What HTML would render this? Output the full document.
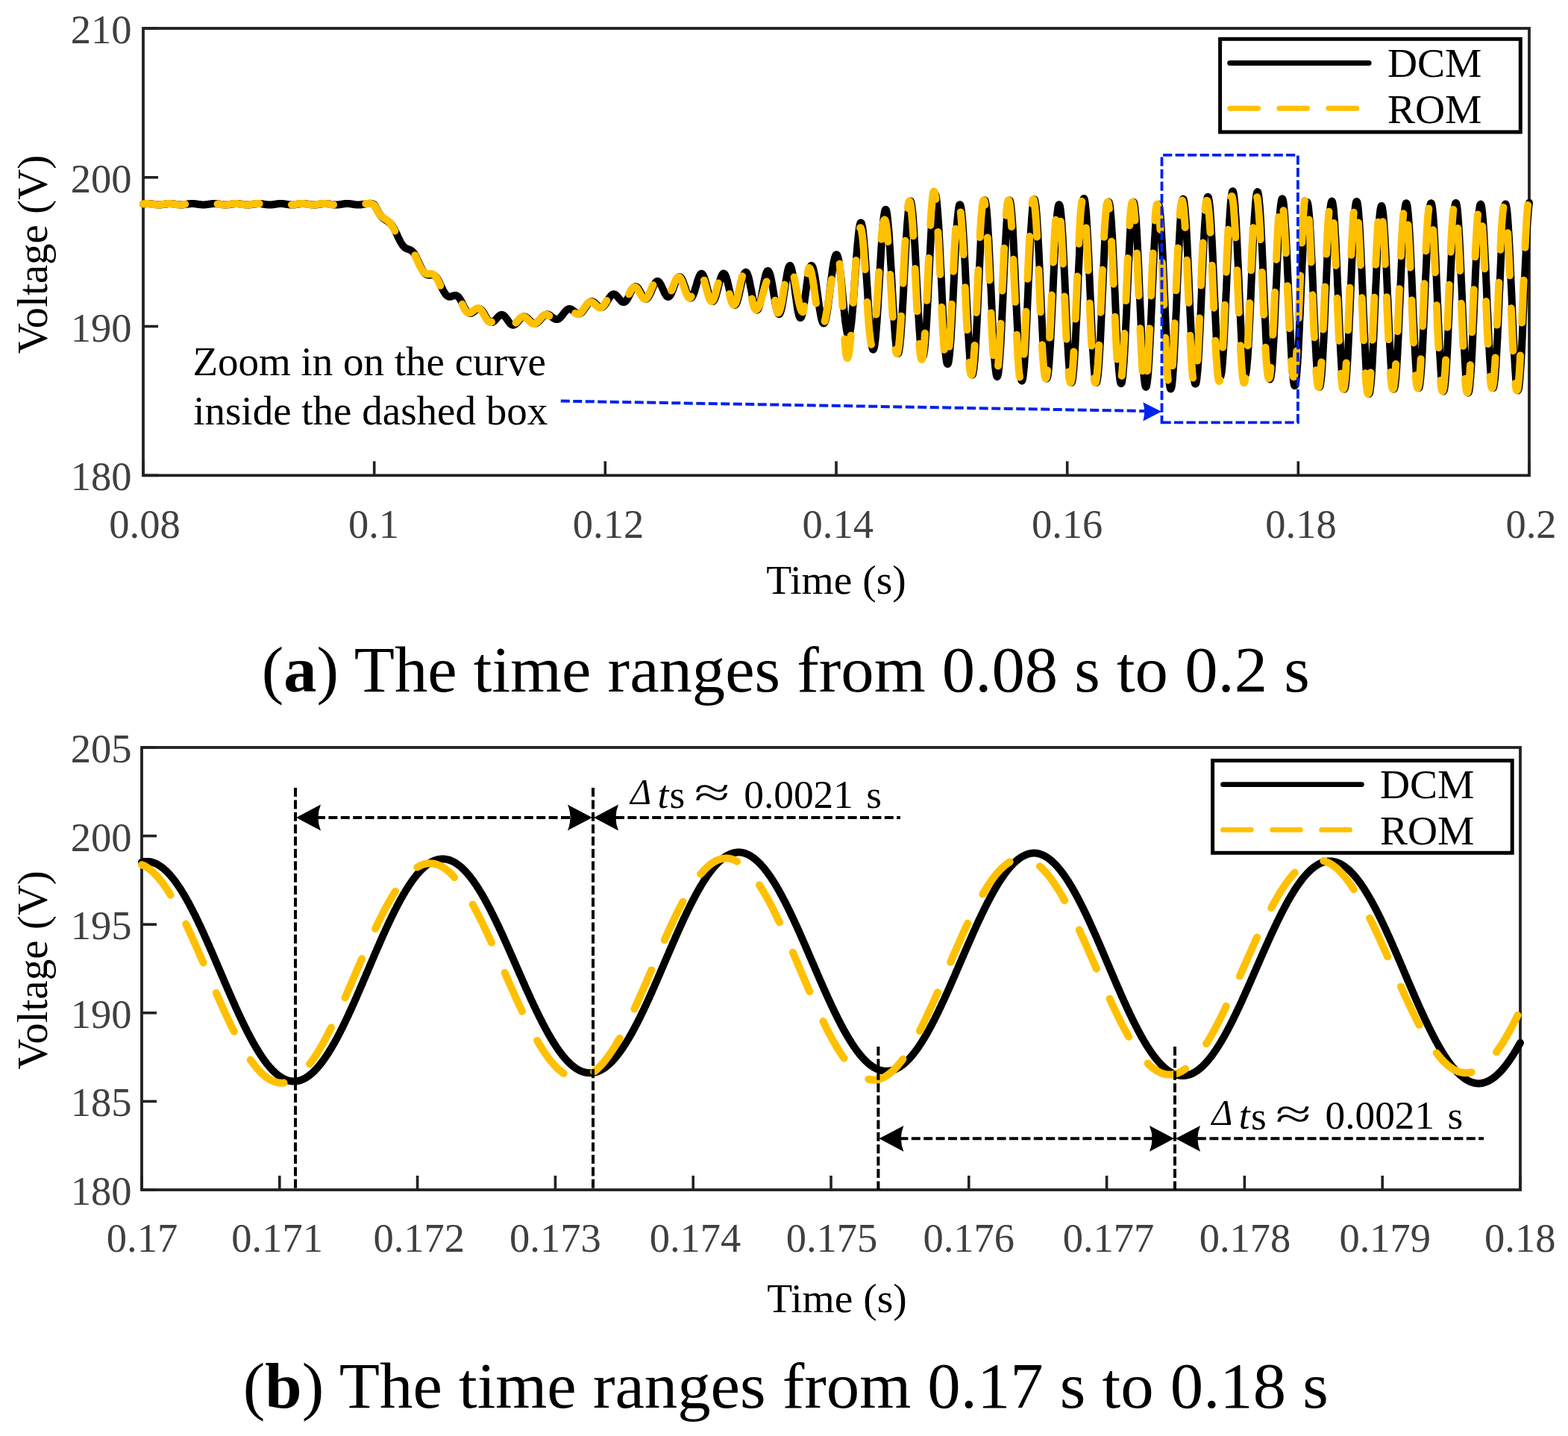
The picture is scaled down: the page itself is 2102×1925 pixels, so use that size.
<!DOCTYPE html>
<html><head><meta charset="utf-8"><title>Figure</title>
<style>html,body{margin:0;padding:0;background:#fff;}svg{display:block;}</style>
</head><body>
<svg width="2102" height="1925" viewBox="0 0 2102 1925">
<rect width="2102" height="1925" fill="#fff"/>
<style>
text{font-family:"Liberation Serif","Times New Roman",serif;}
.tk{font-size:54.5px;fill:#404040;}

.lb{font-size:55.5px;fill:#000;}
.an{font-size:55px;fill:#000;}
.cap{font-size:86.5px;fill:#000;}
</style>
<line x1="192" y1="637.3" x2="212" y2="637.3" stroke="#222222" stroke-width="3.6"/>
<line x1="192" y1="437.5" x2="212" y2="437.5" stroke="#222222" stroke-width="3.6"/>
<line x1="192" y1="237.8" x2="212" y2="237.8" stroke="#222222" stroke-width="3.6"/>
<line x1="192" y1="38.0" x2="212" y2="38.0" stroke="#222222" stroke-width="3.6"/>
<line x1="192.0" y1="637.3" x2="192.0" y2="618.3" stroke="#222222" stroke-width="3.6"/>
<line x1="501.7" y1="637.3" x2="501.7" y2="618.3" stroke="#222222" stroke-width="3.6"/>
<line x1="811.3" y1="637.3" x2="811.3" y2="618.3" stroke="#222222" stroke-width="3.6"/>
<line x1="1121.0" y1="637.3" x2="1121.0" y2="618.3" stroke="#222222" stroke-width="3.6"/>
<line x1="1430.7" y1="637.3" x2="1430.7" y2="618.3" stroke="#222222" stroke-width="3.6"/>
<line x1="1740.3" y1="637.3" x2="1740.3" y2="618.3" stroke="#222222" stroke-width="3.6"/>
<line x1="2050.0" y1="637.3" x2="2050.0" y2="618.3" stroke="#222222" stroke-width="3.6"/>
<rect x="192" y="38" width="1858" height="599.3" fill="none" stroke="#222222" stroke-width="3.8"/>
<text x="176.5" y="657.3" text-anchor="end" class="tk">180</text>
<text x="176.5" y="457.5" text-anchor="end" class="tk">190</text>
<text x="176.5" y="257.8" text-anchor="end" class="tk">200</text>
<text x="176.5" y="58.0" text-anchor="end" class="tk">210</text>
<text x="194.0" y="721.3" text-anchor="middle" class="tk">0.08</text>
<text x="501.0" y="721.3" text-anchor="middle" class="tk">0.1</text>
<text x="815.5" y="721.3" text-anchor="middle" class="tk">0.12</text>
<text x="1123.2" y="721.3" text-anchor="middle" class="tk">0.14</text>
<text x="1430.6" y="721.3" text-anchor="middle" class="tk">0.16</text>
<text x="1744.0" y="721.3" text-anchor="middle" class="tk">0.18</text>
<text x="2052.5" y="721.3" text-anchor="middle" class="tk">0.2</text>
<path d="M192.0,273.6 192.3,273.5 192.6,273.5 192.9,273.4 193.2,273.4 193.5,273.4 193.9,273.3 194.2,273.3 194.5,273.3 194.8,273.2 195.1,273.2 195.4,273.2 195.7,273.2 196.0,273.1 196.3,273.1 196.6,273.1 197.0,273.1 197.3,273.1 197.6,273.1 197.9,273.1 198.2,273.1 198.5,273.1 198.8,273.1 199.1,273.1 199.4,273.1 199.7,273.1 200.1,273.1 200.4,273.1 200.7,273.1 201.0,273.2 201.3,273.2 201.6,273.2 201.9,273.2 202.2,273.3 202.5,273.3 202.8,273.3 203.1,273.4 203.5,273.4 203.8,273.5 204.1,273.5 204.4,273.5 204.7,273.6 205.0,273.6 205.3,273.7 205.6,273.7 205.9,273.8 206.2,273.8 206.6,273.8 206.9,273.9 207.2,273.9 207.5,274.0 207.8,274.0 208.1,274.1 208.4,274.1 208.7,274.1 209.0,274.2 209.3,274.2 209.7,274.2 210.0,274.3 210.3,274.3 210.6,274.3 210.9,274.3 211.2,274.3 211.5,274.4 211.8,274.4 212.1,274.4 212.4,274.4 212.8,274.4 213.1,274.4 213.4,274.4 213.7,274.4 214.0,274.4 214.3,274.4 214.6,274.4 214.9,274.4 215.2,274.3 215.5,274.3 215.8,274.3 216.2,274.3 216.5,274.2 216.8,274.2 217.1,274.2 217.4,274.1 217.7,274.1 218.0,274.1 218.3,274.0 218.6,274.0 218.9,274.0 219.3,273.9 219.6,273.9 219.9,273.8 220.2,273.8 220.5,273.7 220.8,273.7 221.1,273.6 221.4,273.6 221.7,273.6 222.0,273.5 222.4,273.5 222.7,273.4 223.0,273.4 223.3,273.4 223.6,273.3 223.9,273.3 224.2,273.2 224.5,273.2 224.8,273.2 225.1,273.2 225.4,273.1 225.8,273.1 226.1,273.1 226.4,273.1 226.7,273.1 227.0,273.1 227.3,273.0 227.6,273.0 227.9,273.0 228.2,273.0 228.5,273.0 228.9,273.1 229.2,273.1 229.5,273.1 229.8,273.1 230.1,273.1 230.4,273.1 230.7,273.2 231.0,273.2 231.3,273.2 231.6,273.2 232.0,273.3 232.3,273.3 232.6,273.3 232.9,273.4 233.2,273.4 233.5,273.5 233.8,273.5 234.1,273.5 234.4,273.6 234.7,273.6 235.1,273.7 235.4,273.7 235.7,273.8 236.0,273.8 236.3,273.9 236.6,273.9 236.9,273.9 237.2,274.0 237.5,274.0 237.8,274.1 238.1,274.1 238.5,274.1 238.8,274.2 239.1,274.2 239.4,274.2 239.7,274.3 240.0,274.3 240.3,274.3 240.6,274.3 240.9,274.4 241.2,274.4 241.6,274.4 241.9,274.4 242.2,274.4 242.5,274.4 242.8,274.4 243.1,274.4 243.4,274.4 243.7,274.4 244.0,274.4 244.3,274.4 244.7,274.4 245.0,274.3 245.3,274.3 245.6,274.3 245.9,274.3 246.2,274.2 246.5,274.2 246.8,274.2 247.1,274.1 247.4,274.1 247.7,274.1 248.1,274.0 248.4,274.0 248.7,273.9 249.0,273.9 249.3,273.9 249.6,273.8 249.9,273.8 250.2,273.7 250.5,273.7 250.8,273.6 251.2,273.6 251.5,273.5 251.8,273.5 252.1,273.5 252.4,273.4 252.7,273.4 253.0,273.3 253.3,273.3 253.6,273.3 253.9,273.2 254.3,273.2 254.6,273.2 254.9,273.1 255.2,273.1 255.5,273.1 255.8,273.1 256.1,273.1 256.4,273.1 256.7,273.0 257.0,273.0 257.4,273.0 257.7,273.0 258.0,273.0 258.3,273.0 258.6,273.0 258.9,273.1 259.2,273.1 259.5,273.1 259.8,273.1 260.1,273.1 260.4,273.1 260.8,273.2 261.1,273.2 261.4,273.2 261.7,273.3 262.0,273.3 262.3,273.3 262.6,273.4 262.9,273.4 263.2,273.5 263.5,273.5 263.9,273.5 264.2,273.6 264.5,273.6 264.8,273.7 265.1,273.7 265.4,273.8 265.7,273.8 266.0,273.9 266.3,273.9 266.6,274.0 267.0,274.0 267.3,274.0 267.6,274.1 267.9,274.1 268.2,274.2 268.5,274.2 268.8,274.2 269.1,274.3 269.4,274.3 269.7,274.3 270.0,274.3 270.4,274.4 270.7,274.4 271.0,274.4 271.3,274.4 271.6,274.4 271.9,274.4 272.2,274.4 272.5,274.4 272.8,274.4 273.1,274.4 273.5,274.4 273.8,274.4 274.1,274.4 274.4,274.4 274.7,274.4 275.0,274.3 275.3,274.3 275.6,274.3 275.9,274.3 276.2,274.2 276.6,274.2 276.9,274.1 277.2,274.1 277.5,274.1 277.8,274.0 278.1,274.0 278.4,273.9 278.7,273.9 279.0,273.9 279.3,273.8 279.7,273.8 280.0,273.7 280.3,273.7 280.6,273.6 280.9,273.6 281.2,273.5 281.5,273.5 281.8,273.4 282.1,273.4 282.4,273.4 282.7,273.3 283.1,273.3 283.4,273.3 283.7,273.2 284.0,273.2 284.3,273.2 284.6,273.1 284.9,273.1 285.2,273.1 285.5,273.1 285.8,273.1 286.2,273.0 286.5,273.0 286.8,273.0 287.1,273.0 287.4,273.0 287.7,273.0 288.0,273.0 288.3,273.0 288.6,273.0 288.9,273.1 289.3,273.1 289.6,273.1 289.9,273.1 290.2,273.1 290.5,273.2 290.8,273.2 291.1,273.2 291.4,273.3 291.7,273.3 292.0,273.3 292.3,273.4 292.7,273.4 293.0,273.5 293.3,273.5 293.6,273.5 293.9,273.6 294.2,273.6 294.5,273.7 294.8,273.7 295.1,273.8 295.4,273.8 295.8,273.9 296.1,273.9 296.4,274.0 296.7,274.0 297.0,274.0 297.3,274.1 297.6,274.1 297.9,274.2 298.2,274.2 298.5,274.2 298.9,274.3 299.2,274.3 299.5,274.3 299.8,274.3 300.1,274.4 300.4,274.4 300.7,274.4 301.0,274.4 301.3,274.4 301.6,274.4 301.9,274.4 302.3,274.4 302.6,274.4 302.9,274.4 303.2,274.4 303.5,274.4 303.8,274.4 304.1,274.4 304.4,274.4 304.7,274.3 305.0,274.3 305.4,274.3 305.7,274.3 306.0,274.2 306.3,274.2 306.6,274.2 306.9,274.1 307.2,274.1 307.5,274.0 307.8,274.0 308.1,273.9 308.5,273.9 308.8,273.9 309.1,273.8 309.4,273.8 309.7,273.7 310.0,273.7 310.3,273.6 310.6,273.6 310.9,273.5 311.2,273.5 311.6,273.4 311.9,273.4 312.2,273.4 312.5,273.3 312.8,273.3 313.1,273.2 313.4,273.2 313.7,273.2 314.0,273.1 314.3,273.1 314.6,273.1 315.0,273.1 315.3,273.1 315.6,273.0 315.9,273.0 316.2,273.0 316.5,273.0 316.8,273.0 317.1,273.0 317.4,273.0 317.7,273.0 318.1,273.0 318.4,273.0 318.7,273.0 319.0,273.1 319.3,273.1 319.6,273.1 319.9,273.1 320.2,273.2 320.5,273.2 320.8,273.2 321.2,273.3 321.5,273.3 321.8,273.3 322.1,273.4 322.4,273.4 322.7,273.5 323.0,273.5 323.3,273.6 323.6,273.6 323.9,273.6 324.2,273.7 324.6,273.7 324.9,273.8 325.2,273.8 325.5,273.9 325.8,273.9 326.1,274.0 326.4,274.0 326.7,274.1 327.0,274.1 327.3,274.1 327.7,274.2 328.0,274.2 328.3,274.3 328.6,274.3 328.9,274.3 329.2,274.3 329.5,274.4 329.8,274.4 330.1,274.4 330.4,274.4 330.8,274.4 331.1,274.4 331.4,274.4 331.7,274.5 332.0,274.5 332.3,274.4 332.6,274.4 332.9,274.4 333.2,274.4 333.5,274.4 333.9,274.4 334.2,274.4 334.5,274.3 334.8,274.3 335.1,274.3 335.4,274.3 335.7,274.2 336.0,274.2 336.3,274.2 336.6,274.1 336.9,274.1 337.3,274.0 337.6,274.0 337.9,273.9 338.2,273.9 338.5,273.8 338.8,273.8 339.1,273.8 339.4,273.7 339.7,273.7 340.0,273.6 340.4,273.6 340.7,273.5 341.0,273.5 341.3,273.4 341.6,273.4 341.9,273.3 342.2,273.3 342.5,273.3 342.8,273.2 343.1,273.2 343.5,273.2 343.8,273.1 344.1,273.1 344.4,273.1 344.7,273.1 345.0,273.0 345.3,273.0 345.6,273.0 345.9,273.0 346.2,273.0 346.5,273.0 346.9,273.0 347.2,273.0 347.5,273.0 347.8,273.0 348.1,273.0 348.4,273.0 348.7,273.1 349.0,273.1 349.3,273.1 349.6,273.1 350.0,273.2 350.3,273.2 350.6,273.2 350.9,273.3 351.2,273.3 351.5,273.3 351.8,273.4 352.1,273.4 352.4,273.5 352.7,273.5 353.1,273.6 353.4,273.6 353.7,273.7 354.0,273.7 354.3,273.8 354.6,273.8 354.9,273.8 355.2,273.9 355.5,273.9 355.8,274.0 356.2,274.0 356.5,274.1 356.8,274.1 357.1,274.2 357.4,274.2 357.7,274.2 358.0,274.3 358.3,274.3 358.6,274.3 358.9,274.4 359.2,274.4 359.6,274.4 359.9,274.4 360.2,274.4 360.5,274.4 360.8,274.5 361.1,274.5 361.4,274.5 361.7,274.5 362.0,274.5 362.3,274.5 362.7,274.4 363.0,274.4 363.3,274.4 363.6,274.4 363.9,274.4 364.2,274.4 364.5,274.3 364.8,274.3 365.1,274.3 365.4,274.2 365.8,274.2 366.1,274.2 366.4,274.1 366.7,274.1 367.0,274.0 367.3,274.0 367.6,273.9 367.9,273.9 368.2,273.8 368.5,273.8 368.8,273.7 369.2,273.7 369.5,273.6 369.8,273.6 370.1,273.6 370.4,273.5 370.7,273.5 371.0,273.4 371.3,273.4 371.6,273.3 371.9,273.3 372.3,273.2 372.6,273.2 372.9,273.2 373.2,273.1 373.5,273.1 373.8,273.1 374.1,273.1 374.4,273.0 374.7,273.0 375.0,273.0 375.4,273.0 375.7,273.0 376.0,273.0 376.3,273.0 376.6,273.0 376.9,273.0 377.2,273.0 377.5,273.0 377.8,273.0 378.1,273.0 378.5,273.0 378.8,273.1 379.1,273.1 379.4,273.1 379.7,273.2 380.0,273.2 380.3,273.2 380.6,273.3 380.9,273.3 381.2,273.3 381.5,273.4 381.9,273.4 382.2,273.5 382.5,273.5 382.8,273.6 383.1,273.6 383.4,273.7 383.7,273.7 384.0,273.8 384.3,273.8 384.6,273.9 385.0,273.9 385.3,274.0 385.6,274.0 385.9,274.0 386.2,274.1 386.5,274.1 386.8,274.2 387.1,274.2 387.4,274.2 387.7,274.3 388.1,274.3 388.4,274.3 388.7,274.4 389.0,274.4 389.3,274.4 389.6,274.4 389.9,274.4 390.2,274.5 390.5,274.5 390.8,274.5 391.1,274.5 391.5,274.5 391.8,274.5 392.1,274.5 392.4,274.5 392.7,274.4 393.0,274.4 393.3,274.4 393.6,274.4 393.9,274.4 394.2,274.3 394.6,274.3 394.9,274.3 395.2,274.2 395.5,274.2 395.8,274.2 396.1,274.1 396.4,274.1 396.7,274.0 397.0,274.0 397.3,273.9 397.7,273.9 398.0,273.8 398.3,273.8 398.6,273.7 398.9,273.7 399.2,273.6 399.5,273.6 399.8,273.5 400.1,273.5 400.4,273.4 400.8,273.4 401.1,273.4 401.4,273.3 401.7,273.3 402.0,273.2 402.3,273.2 402.6,273.2 402.9,273.1 403.2,273.1 403.5,273.1 403.8,273.0 404.2,273.0 404.5,273.0 404.8,273.0 405.1,273.0 405.4,273.0 405.7,273.0 406.0,273.0 406.3,273.0 406.6,273.0 406.9,273.0 407.3,273.0 407.6,273.0 407.9,273.0 408.2,273.0 408.5,273.1 408.8,273.1 409.1,273.1 409.4,273.1 409.7,273.2 410.0,273.2 410.4,273.3 410.7,273.3 411.0,273.3 411.3,273.4 411.6,273.4 411.9,273.5 412.2,273.5 412.5,273.6 412.8,273.6 413.1,273.7 413.4,273.7 413.8,273.8 414.1,273.8 414.4,273.9 414.7,273.9 415.0,274.0 415.3,274.0 415.6,274.1 415.9,274.1 416.2,274.1 416.5,274.2 416.9,274.2 417.2,274.3 417.5,274.3 417.8,274.3 418.1,274.4 418.4,274.4 418.7,274.4 419.0,274.4 419.3,274.4 419.6,274.5 420.0,274.5 420.3,274.5 420.6,274.5 420.9,274.5 421.2,274.5 421.5,274.5 421.8,274.5 422.1,274.5 422.4,274.5 422.7,274.4 423.0,274.4 423.4,274.4 423.7,274.4 424.0,274.3 424.3,274.3 424.6,274.3 424.9,274.2 425.2,274.2 425.5,274.2 425.8,274.1 426.1,274.1 426.5,274.0 426.8,274.0 427.1,273.9 427.4,273.9 427.7,273.8 428.0,273.8 428.3,273.7 428.6,273.7 428.9,273.6 429.2,273.6 429.6,273.5 429.9,273.5 430.2,273.4 430.5,273.4 430.8,273.3 431.1,273.3 431.4,273.3 431.7,273.2 432.0,273.2 432.3,273.1 432.7,273.1 433.0,273.1 433.3,273.1 433.6,273.0 433.9,273.0 434.2,273.0 434.5,273.0 434.8,273.0 435.1,273.0 435.4,273.0 435.7,273.0 436.1,273.0 436.4,273.0 436.7,273.0 437.0,273.0 437.3,273.0 437.6,273.0 437.9,273.0 438.2,273.1 438.5,273.1 438.8,273.1 439.2,273.1 439.5,273.2 439.8,273.2 440.1,273.3 440.4,273.3 440.7,273.3 441.0,273.4 441.3,273.4 441.6,273.5 441.9,273.5 442.3,273.6 442.6,273.6 442.9,273.7 443.2,273.7 443.5,273.8 443.8,273.8 444.1,273.9 444.4,273.9 444.7,274.0 445.0,274.0 445.3,274.1 445.7,274.1 446.0,274.2 446.3,274.2 446.6,274.2 446.9,274.3 447.2,274.3 447.5,274.3 447.8,274.4 448.1,274.4 448.4,274.4 448.8,274.4 449.1,274.5 449.4,274.5 449.7,274.5 450.0,274.5 450.3,274.5 450.6,274.5 450.9,274.5 451.2,274.5 451.5,274.5 451.9,274.5 452.2,274.5 452.5,274.4 452.8,274.4 453.1,274.4 453.4,274.4 453.7,274.3 454.0,274.3 454.3,274.3 454.6,274.2 455.0,274.2 455.3,274.2 455.6,274.1 455.9,274.1 456.2,274.0 456.5,274.0 456.8,273.9 457.1,273.9 457.4,273.8 457.7,273.8 458.0,273.7 458.4,273.7 458.7,273.6 459.0,273.6 459.3,273.5 459.6,273.5 459.9,273.4 460.2,273.4 460.5,273.3 460.8,273.3 461.1,273.2 461.5,273.2 461.8,273.2 462.1,273.1 462.4,273.1 462.7,273.1 463.0,273.0 463.3,273.0 463.6,273.0 463.9,273.0 464.2,273.0 464.6,273.0 464.9,272.9 465.2,272.9 465.5,272.9 465.8,272.9 466.1,272.9 466.4,273.0 466.7,273.0 467.0,273.0 467.3,273.0 467.6,273.0 468.0,273.0 468.3,273.1 468.6,273.1 468.9,273.1 469.2,273.2 469.5,273.2 469.8,273.3 470.1,273.3 470.4,273.3 470.7,273.4 471.1,273.4 471.4,273.5 471.7,273.5 472.0,273.6 472.3,273.6 472.6,273.7 472.9,273.7 473.2,273.8 473.5,273.8 473.8,273.9 474.2,273.9 474.5,274.0 474.8,274.0 475.1,274.1 475.4,274.1 475.7,274.2 476.0,274.2 476.3,274.3 476.6,274.3 476.9,274.3 477.3,274.4 477.6,274.4 477.9,274.4 478.2,274.4 478.5,274.5 478.8,274.5 479.1,274.5 479.4,274.5 479.7,274.5 480.0,274.5 480.3,274.5 480.7,274.5 481.0,274.5 481.3,274.5 481.6,274.5 481.9,274.5 482.2,274.5 482.5,274.4 482.8,274.4 483.1,274.4 483.4,274.3 483.8,274.3 484.1,274.3 484.4,274.2 484.7,274.2 485.0,274.2 485.3,274.1 485.6,274.1 485.9,274.0 486.2,274.0 486.5,273.9 486.9,273.9 487.2,273.8 487.5,273.8 487.8,273.7 488.1,273.7 488.4,273.6 488.7,273.6 489.0,273.5 489.3,273.5 489.6,273.4 489.9,273.4 490.3,273.3 490.6,273.3 490.9,273.2 491.2,273.2 491.5,273.1 491.8,273.1 492.1,273.1 492.4,273.1 492.7,273.0 493.0,273.0 493.4,273.0 493.7,273.0 494.0,272.9 494.3,272.9 494.6,272.9 494.9,272.9 495.2,272.8 495.5,272.8 495.8,272.8 496.1,272.8 496.5,272.8 496.8,272.8 497.1,272.8 497.4,272.8 497.7,272.9 498.0,272.9 498.3,273.0 498.6,273.0 498.9,273.1 499.2,273.2 499.6,273.3 499.9,273.4 500.2,273.5 500.5,273.7 500.8,273.8 501.1,274.0 501.4,274.1 501.7,274.4 502.0,274.9 502.3,275.5 502.6,276.1 503.0,276.6 503.3,277.2 503.6,277.8 503.9,278.3 504.2,278.9 504.5,279.5 504.8,280.0 505.1,280.6 505.4,281.1 505.7,281.7 506.1,282.2 506.4,282.8 506.7,283.3 507.0,283.8 507.3,284.3 507.6,284.9 507.9,285.4 508.2,285.8 508.5,286.3 508.8,286.8 509.2,287.2 509.5,287.7 509.8,288.1 510.1,288.5 510.4,289.0 510.7,289.4 511.0,289.7 511.3,290.1 511.6,290.5 511.9,290.8 512.2,291.1 512.6,291.5 512.9,291.8 513.2,292.1 513.5,292.4 513.8,292.6 514.1,292.9 514.4,293.2 514.7,293.4 515.0,293.6 515.3,293.9 515.7,294.1 516.0,294.3 516.3,294.5 516.6,294.7 516.9,294.9 517.2,295.1 517.5,295.3 517.8,295.5 518.1,295.7 518.4,295.9 518.8,296.0 519.1,296.2 519.4,296.4 519.7,296.6 520.0,296.8 520.3,297.0 520.6,297.3 520.9,297.5 521.2,297.7 521.5,298.0 521.8,298.2 522.2,298.5 522.5,298.7 522.8,299.0 523.1,299.3 523.4,299.6 523.7,300.0 524.0,300.3 524.3,300.7 524.6,301.0 524.9,301.4 525.3,301.8 525.6,302.2 525.9,302.7 526.2,303.1 526.5,303.6 526.8,304.1 527.1,304.6 527.4,305.1 527.7,305.6 528.0,306.2 528.4,306.7 528.7,307.3 529.0,307.9 529.3,308.5 529.6,309.1 529.9,309.7 530.2,310.3 530.5,311.0 530.8,311.6 531.1,312.2 531.5,312.9 531.8,313.6 532.1,314.2 532.4,314.9 532.7,315.6 533.0,316.3 533.3,316.9 533.6,317.6 533.9,318.3 534.2,318.9 534.5,319.6 534.9,320.2 535.2,320.8 535.5,321.5 535.8,322.1 536.1,322.7 536.4,323.3 536.7,323.9 537.0,324.4 537.3,325.0 537.6,325.5 538.0,326.0 538.3,326.5 538.6,327.0 538.9,327.5 539.2,328.0 539.5,328.4 539.8,328.8 540.1,329.2 540.4,329.6 540.7,329.9 541.1,330.3 541.4,330.6 541.7,330.9 542.0,331.2 542.3,331.5 542.6,331.7 542.9,332.0 543.2,332.2 543.5,332.4 543.8,332.6 544.1,332.8 544.5,332.9 544.8,333.1 545.1,333.2 545.4,333.4 545.7,333.5 546.0,333.6 546.3,333.7 546.6,333.9 546.9,334.0 547.2,334.1 547.6,334.2 547.9,334.3 548.2,334.4 548.5,334.5 548.8,334.6 549.1,334.8 549.4,334.9 549.7,335.0 550.0,335.2 550.3,335.3 550.7,335.5 551.0,335.7 551.3,335.9 551.6,336.1 551.9,336.3 552.2,336.6 552.5,336.8 552.8,337.1 553.1,337.4 553.4,337.7 553.8,338.1 554.1,338.4 554.4,338.8 554.7,339.2 555.0,339.6 555.3,340.1 555.6,340.5 555.9,341.0 556.2,341.5 556.5,342.0 556.8,342.6 557.2,343.1 557.5,343.7 557.8,344.3 558.1,344.9 558.4,345.5 558.7,346.2 559.0,346.9 559.3,347.5 559.6,348.2 559.9,348.9 560.3,349.6 560.6,350.3 560.9,350.9 561.2,351.6 561.5,352.2 561.8,352.9 562.1,353.5 562.4,354.2 562.7,354.8 563.0,355.5 563.4,356.1 563.7,356.8 564.0,357.4 564.3,358.0 564.6,358.6 564.9,359.2 565.2,359.8 565.5,360.4 565.8,361.0 566.1,361.5 566.4,362.0 566.8,362.6 567.1,363.0 567.4,363.5 567.7,364.0 568.0,364.4 568.3,364.8 568.6,365.2 568.9,365.6 569.2,365.9 569.5,366.2 569.9,366.6 570.2,366.8 570.5,367.1 570.8,367.3 571.1,367.5 571.4,367.7 571.7,367.9 572.0,368.1 572.3,368.2 572.6,368.3 573.0,368.4 573.3,368.5 573.6,368.6 573.9,368.6 574.2,368.6 574.5,368.7 574.8,368.7 575.1,368.7 575.4,368.7 575.7,368.7 576.1,368.7 576.4,368.6 576.7,368.6 577.0,368.6 577.3,368.6 577.6,368.5 577.9,368.5 578.2,368.5 578.5,368.5 578.8,368.5 579.1,368.5 579.5,368.5 579.8,368.6 580.1,368.6 580.4,368.7 580.7,368.7 581.0,368.8 581.3,368.9 581.6,369.1 581.9,369.2 582.2,369.4 582.6,369.6 582.9,369.8 583.2,370.0 583.5,370.3 583.8,370.5 584.1,370.8 584.4,371.2 584.7,371.5 585.0,371.9 585.3,372.3 585.7,372.7 586.0,373.1 586.3,373.6 586.6,374.1 586.9,374.6 587.2,375.1 587.5,375.7 587.8,376.2 588.1,376.8 588.4,377.4 588.7,378.0 589.1,378.7 589.4,379.3 589.7,379.9 590.0,380.6 590.3,381.3 590.6,382.0 590.9,382.6 591.2,383.3 591.5,384.0 591.8,384.6 592.2,385.3 592.5,385.9 592.8,386.5 593.1,387.1 593.4,387.8 593.7,388.4 594.0,389.0 594.3,389.6 594.6,390.1 594.9,390.7 595.3,391.2 595.6,391.7 595.9,392.3 596.2,392.7 596.5,393.2 596.8,393.7 597.1,394.1 597.4,394.5 597.7,394.9 598.0,395.2 598.4,395.6 598.7,395.9 599.0,396.2 599.3,396.4 599.6,396.7 599.9,396.9 600.2,397.1 600.5,397.2 600.8,397.4 601.1,397.5 601.4,397.6 601.8,397.7 602.1,397.7 602.4,397.8 602.7,397.8 603.0,397.8 603.3,397.7 603.6,397.7 603.9,397.7 604.2,397.6 604.5,397.5 604.9,397.4 605.2,397.4 605.5,397.3 605.8,397.1 606.1,397.0 606.4,396.9 606.7,396.8 607.0,396.7 607.3,396.6 607.6,396.5 608.0,396.4 608.3,396.3 608.6,396.2 608.9,396.2 609.2,396.1 609.5,396.0 609.8,396.0 610.1,396.0 610.4,396.0 610.7,396.0 611.0,396.1 611.4,396.1 611.7,396.2 612.0,396.3 612.3,396.4 612.6,396.6 612.9,396.8 613.2,397.0 613.5,397.2 613.8,397.4 614.1,397.7 614.5,398.0 614.8,398.4 615.1,398.7 615.4,399.1 615.7,399.5 616.0,399.9 616.3,400.3 616.6,400.8 616.9,401.3 617.2,401.8 617.6,402.3 617.9,402.9 618.2,403.5 618.5,404.0 618.8,404.6 619.1,405.3 619.4,405.9 619.7,406.5 620.0,407.1 620.3,407.8 620.7,408.4 621.0,409.1 621.3,409.8 621.6,410.4 621.9,411.1 622.2,411.7 622.5,412.4 622.8,412.9 623.1,413.4 623.4,413.9 623.7,414.4 624.1,414.9 624.4,415.3 624.7,415.8 625.0,416.2 625.3,416.6 625.6,417.0 625.9,417.4 626.2,417.7 626.5,418.1 626.8,418.4 627.2,418.7 627.5,418.9 627.8,419.2 628.1,419.4 628.4,419.6 628.7,419.7 629.0,419.8 629.3,419.9 629.6,420.0 629.9,420.1 630.3,420.1 630.6,420.1 630.9,420.1 631.2,420.0 631.5,420.0 631.8,419.9 632.1,419.8 632.4,419.6 632.7,419.5 633.0,419.3 633.3,419.1 633.7,418.9 634.0,418.7 634.3,418.5 634.6,418.3 634.9,418.0 635.2,417.8 635.5,417.5 635.8,417.3 636.1,417.0 636.4,416.7 636.8,416.5 637.1,416.2 637.4,416.0 637.7,415.7 638.0,415.5 638.3,415.2 638.6,415.0 638.9,414.8 639.2,414.6 639.5,414.5 639.9,414.3 640.2,414.2 640.5,414.1 640.8,414.0 641.1,413.9 641.4,413.8 641.7,413.8 642.0,413.8 642.3,413.8 642.6,413.9 642.9,413.9 643.3,414.1 643.6,414.2 643.9,414.3 644.2,414.5 644.5,414.7 644.8,415.0 645.1,415.2 645.4,415.5 645.7,415.8 646.0,416.2 646.4,416.5 646.7,416.9 647.0,417.3 647.3,417.7 647.6,418.2 647.9,418.6 648.2,419.1 648.5,419.6 648.8,420.1 649.1,420.6 649.5,421.2 649.8,421.7 650.1,422.3 650.4,422.8 650.7,423.4 651.0,423.9 651.3,424.5 651.6,425.0 651.9,425.6 652.2,426.1 652.6,426.7 652.9,427.2 653.2,427.7 653.5,428.2 653.8,428.6 654.1,429.0 654.4,429.4 654.7,429.7 655.0,430.1 655.3,430.4 655.6,430.6 656.0,430.9 656.3,431.1 656.6,431.4 656.9,431.5 657.2,431.7 657.5,431.8 657.8,432.0 658.1,432.0 658.4,432.1 658.7,432.1 659.1,432.1 659.4,432.1 659.7,432.0 660.0,432.0 660.3,431.8 660.6,431.7 660.9,431.6 661.2,431.4 661.5,431.2 661.8,431.0 662.2,430.7 662.5,430.5 662.8,430.2 663.1,429.9 663.4,429.6 663.7,429.3 664.0,429.0 664.3,428.6 664.6,428.3 664.9,427.9 665.2,427.6 665.6,427.2 665.9,426.8 666.2,426.5 666.5,426.1 666.8,425.8 667.1,425.4 667.4,425.1 667.7,424.8 668.0,424.5 668.3,424.2 668.7,423.9 669.0,423.6 669.3,423.3 669.6,423.1 669.9,422.9 670.2,422.7 670.5,422.5 670.8,422.4 671.1,422.2 671.4,422.1 671.8,422.0 672.1,422.0 672.4,422.0 672.7,422.0 673.0,422.0 673.3,422.0 673.6,422.1 673.9,422.2 674.2,422.3 674.5,422.5 674.9,422.7 675.2,422.9 675.5,423.1 675.8,423.3 676.1,423.6 676.4,423.9 676.7,424.2 677.0,424.5 677.3,424.9 677.6,425.3 677.9,425.6 678.3,426.0 678.6,426.4 678.9,426.9 679.2,427.3 679.5,427.7 679.8,428.2 680.1,428.6 680.4,429.0 680.7,429.5 681.0,429.9 681.4,430.4 681.7,430.8 682.0,431.3 682.3,431.7 682.6,432.1 682.9,432.5 683.2,432.9 683.5,433.3 683.8,433.6 684.1,434.0 684.5,434.3 684.8,434.5 685.1,434.8 685.4,435.0 685.7,435.1 686.0,435.3 686.3,435.4 686.6,435.5 686.9,435.6 687.2,435.7 687.5,435.7 687.9,435.7 688.2,435.7 688.5,435.7 688.8,435.6 689.1,435.5 689.4,435.4 689.7,435.3 690.0,435.1 690.3,434.9 690.6,434.7 691.0,434.5 691.3,434.3 691.6,434.0 691.9,433.8 692.2,433.5 692.5,433.2 692.8,432.8 693.1,432.5 693.4,432.2 693.7,431.8 694.1,431.5 694.4,431.1 694.7,430.7 695.0,430.4 695.3,430.0 695.6,429.6 695.9,429.3 696.2,428.9 696.5,428.5 696.8,428.2 697.2,427.9 697.5,427.5 697.8,427.2 698.1,426.9 698.4,426.6 698.7,426.3 699.0,426.1 699.3,425.8 699.6,425.6 699.9,425.4 700.2,425.2 700.6,425.0 700.9,424.9 701.2,424.8 701.5,424.6 701.8,424.6 702.1,424.5 702.4,424.5 702.7,424.5 703.0,424.5 703.3,424.5 703.7,424.5 704.0,424.6 704.3,424.7 704.6,424.8 704.9,425.0 705.2,425.1 705.5,425.3 705.8,425.5 706.1,425.7 706.4,425.9 706.8,426.2 707.1,426.4 707.4,426.7 707.7,427.0 708.0,427.3 708.3,427.5 708.6,427.9 708.9,428.2 709.2,428.5 709.5,428.8 709.8,429.1 710.2,429.4 710.5,429.8 710.8,430.1 711.1,430.4 711.4,430.7 711.7,431.0 712.0,431.3 712.3,431.6 712.6,431.8 712.9,432.1 713.3,432.4 713.6,432.6 713.9,432.8 714.2,433.0 714.5,433.1 714.8,433.3 715.1,433.4 715.4,433.5 715.7,433.6 716.0,433.6 716.4,433.7 716.7,433.7 717.0,433.7 717.3,433.7 717.6,433.7 717.9,433.6 718.2,433.5 718.5,433.4 718.8,433.3 719.1,433.2 719.5,433.0 719.8,432.9 720.1,432.7 720.4,432.5 720.7,432.2 721.0,432.0 721.3,431.7 721.6,431.4 721.9,431.1 722.2,430.8 722.5,430.5 722.9,430.2 723.2,429.9 723.5,429.5 723.8,429.2 724.1,428.8 724.4,428.4 724.7,428.1 725.0,427.7 725.3,427.3 725.6,427.0 726.0,426.6 726.3,426.2 726.6,425.9 726.9,425.5 727.2,425.2 727.5,424.9 727.8,424.5 728.1,424.2 728.4,423.9 728.7,423.6 729.1,423.4 729.4,423.1 729.7,422.9 730.0,422.6 730.3,422.4 730.6,422.2 730.9,422.1 731.2,421.9 731.5,421.8 731.8,421.7 732.1,421.6 732.5,421.5 732.8,421.4 733.1,421.4 733.4,421.4 733.7,421.4 734.0,421.4 734.3,421.5 734.6,421.6 734.9,421.6 735.2,421.8 735.6,421.9 735.9,422.0 736.2,422.2 736.5,422.3 736.8,422.5 737.1,422.7 737.4,422.9 737.7,423.2 738.0,423.4 738.3,423.6 738.7,423.9 739.0,424.1 739.3,424.4 739.6,424.6 739.9,424.9 740.2,425.1 740.5,425.4 740.8,425.6 741.1,425.8 741.4,426.1 741.7,426.3 742.1,426.5 742.4,426.7 742.7,426.9 743.0,427.1 743.3,427.3 743.6,427.4 743.9,427.6 744.2,427.7 744.5,427.8 744.8,427.9 745.2,428.0 745.5,428.1 745.8,428.1 746.1,428.1 746.4,428.1 746.7,428.1 747.0,428.1 747.3,428.0 747.6,428.0 747.9,427.9 748.3,427.7 748.6,427.6 748.9,427.4 749.2,427.3 749.5,427.1 749.8,426.8 750.1,426.6 750.4,426.3 750.7,426.1 751.0,425.8 751.4,425.5 751.7,425.1 752.0,424.8 752.3,424.4 752.6,424.1 752.9,423.7 753.2,423.3 753.5,423.0 753.8,422.6 754.1,422.2 754.4,421.8 754.8,421.4 755.1,420.9 755.4,420.5 755.7,420.1 756.0,419.7 756.3,419.3 756.6,419.0 756.9,418.6 757.2,418.2 757.5,417.8 757.9,417.5 758.2,417.1 758.5,416.8 758.8,416.5 759.1,416.2 759.4,415.9 759.7,415.7 760.0,415.4 760.3,415.2 760.6,415.0 761.0,414.8 761.3,414.7 761.6,414.5 761.9,414.4 762.2,414.3 762.5,414.2 762.8,414.2 763.1,414.1 763.4,414.1 763.7,414.1 764.0,414.2 764.4,414.2 764.7,414.3 765.0,414.4 765.3,414.5 765.6,414.6 765.9,414.8 766.2,414.9 766.5,415.1 766.8,415.3 767.1,415.5 767.5,415.7 767.8,416.0 768.1,416.2 768.4,416.4 768.7,416.7 769.0,416.9 769.3,417.1 769.6,417.4 769.9,417.6 770.2,417.9 770.6,418.1 770.9,418.3 771.2,418.6 771.5,418.8 771.8,419.0 772.1,419.2 772.4,419.4 772.7,419.6 773.0,419.8 773.3,420.0 773.7,420.1 774.0,420.2 774.3,420.4 774.6,420.5 774.9,420.5 775.2,420.6 775.5,420.6 775.8,420.6 776.1,420.6 776.4,420.6 776.7,420.5 777.1,420.5 777.4,420.4 777.7,420.2 778.0,420.1 778.3,419.9 778.6,419.7 778.9,419.5 779.2,419.3 779.5,419.0 779.8,418.7 780.2,418.4 780.5,418.1 780.8,417.8 781.1,417.4 781.4,417.0 781.7,416.6 782.0,416.2 782.3,415.8 782.6,415.4 782.9,415.0 783.3,414.5 783.6,414.0 783.9,413.6 784.2,413.1 784.5,412.7 784.8,412.2 785.1,411.7 785.4,411.3 785.7,410.8 786.0,410.3 786.3,409.9 786.7,409.4 787.0,409.0 787.3,408.6 787.6,408.2 787.9,407.8 788.2,407.4 788.5,407.0 788.8,406.7 789.1,406.4 789.4,406.1 789.8,405.8 790.1,405.5 790.4,405.3 790.7,405.1 791.0,404.9 791.3,404.7 791.6,404.5 791.9,404.4 792.2,404.3 792.5,404.3 792.9,404.2 793.2,404.2 793.5,404.2 793.8,404.2 794.1,404.3 794.4,404.3 794.7,404.4 795.0,404.6 795.3,404.7 795.6,404.9 796.0,405.0 796.3,405.2 796.6,405.4 796.9,405.7 797.2,405.9 797.5,406.2 797.8,406.4 798.1,406.7 798.4,407.0 798.7,407.3 799.0,407.6 799.4,407.9 799.7,408.2 800.0,408.5 800.3,408.8 800.6,409.1 800.9,409.4 801.2,409.6 801.5,409.9 801.8,410.2 802.1,410.4 802.5,410.7 802.8,410.9 803.1,411.1 803.4,411.3 803.7,411.5 804.0,411.7 804.3,411.8 804.6,411.9 804.9,412.0 805.2,412.1 805.6,412.1 805.9,412.1 806.2,412.1 806.5,412.1 806.8,412.0 807.1,411.9 807.4,411.8 807.7,411.6 808.0,411.5 808.3,411.3 808.6,411.0 809.0,410.8 809.3,410.5 809.6,410.2 809.9,409.9 810.2,409.5 810.5,409.1 810.8,408.8 811.1,408.3 811.4,407.9 811.7,407.5 812.1,407.0 812.4,406.5 812.7,406.0 813.0,405.5 813.3,405.0 813.6,404.5 813.9,404.0 814.2,403.5 814.5,403.0 814.8,402.4 815.2,401.9 815.5,401.4 815.8,400.9 816.1,400.4 816.4,399.9 816.7,399.4 817.0,399.0 817.3,398.5 817.6,398.1 817.9,397.7 818.3,397.3 818.6,396.9 818.9,396.5 819.2,396.2 819.5,395.9 819.8,395.6 820.1,395.4 820.4,395.1 820.7,394.9 821.0,394.8 821.3,394.6 821.7,394.5 822.0,394.4 822.3,394.4 822.6,394.3 822.9,394.3 823.2,394.4 823.5,394.4 823.8,394.5 824.1,394.7 824.4,394.8 824.8,395.0 825.1,395.2 825.4,395.4 825.7,395.6 826.0,395.9 826.3,396.2 826.6,396.5 826.9,396.8 827.2,397.1 827.5,397.5 827.9,397.8 828.2,398.2 828.5,398.5 828.8,398.9 829.1,399.3 829.4,399.7 829.7,400.1 830.0,400.4 830.3,400.8 830.6,401.2 830.9,401.6 831.3,401.9 831.6,402.3 831.9,402.6 832.2,403.0 832.5,403.3 832.8,403.6 833.1,403.8 833.4,404.1 833.7,404.3 834.0,404.5 834.4,404.7 834.7,404.8 835.0,404.9 835.3,405.0 835.6,405.1 835.9,405.1 836.2,405.1 836.5,405.0 836.8,405.0 837.1,404.9 837.5,404.7 837.8,404.5 838.1,404.3 838.4,404.1 838.7,403.8 839.0,403.5 839.3,403.2 839.6,402.8 839.9,402.4 840.2,402.0 840.6,401.5 840.9,401.0 841.2,400.5 841.5,400.0 841.8,399.4 842.1,398.9 842.4,398.3 842.7,397.7 843.0,397.1 843.3,396.5 843.6,395.8 844.0,395.2 844.3,394.6 844.6,393.9 844.9,393.3 845.2,392.7 845.5,392.1 845.8,391.4 846.1,390.8 846.4,390.3 846.7,389.7 847.1,389.1 847.4,388.6 847.7,388.1 848.0,387.6 848.3,387.1 848.6,386.7 848.9,386.3 849.2,385.9 849.5,385.6 849.8,385.3 850.2,385.0 850.5,384.8 850.8,384.6 851.1,384.5 851.4,384.3 851.7,384.3 852.0,384.2 852.3,384.2 852.6,384.3 852.9,384.4 853.2,384.5 853.6,384.6 853.9,384.8 854.2,385.1 854.5,385.3 854.8,385.6 855.1,386.0 855.4,386.4 855.7,386.8 856.0,387.3 856.3,387.7 856.7,388.2 857.0,388.7 857.3,389.3 857.6,389.8 857.9,390.4 858.2,390.9 858.5,391.5 858.8,392.1 859.1,392.7 859.4,393.2 859.8,393.8 860.1,394.4 860.4,394.9 860.7,395.5 861.0,396.0 861.3,396.5 861.6,397.0 861.9,397.5 862.2,397.9 862.5,398.4 862.8,398.7 863.2,399.1 863.5,399.4 863.8,399.7 864.1,400.0 864.4,400.2 864.7,400.4 865.0,400.5 865.3,400.6 865.6,400.7 865.9,400.7 866.3,400.7 866.6,400.6 866.9,400.5 867.2,400.3 867.5,400.1 867.8,399.9 868.1,399.6 868.4,399.2 868.7,398.9 869.0,398.5 869.4,398.0 869.7,397.5 870.0,397.0 870.3,396.5 870.6,395.9 870.9,395.3 871.2,394.7 871.5,394.0 871.8,393.3 872.1,392.6 872.5,391.9 872.8,391.2 873.1,390.5 873.4,389.7 873.7,389.0 874.0,388.2 874.3,387.5 874.6,386.7 874.9,386.0 875.2,385.3 875.5,384.6 875.9,383.9 876.2,383.2 876.5,382.6 876.8,381.9 877.1,381.4 877.4,380.8 877.7,380.2 878.0,379.7 878.3,379.3 878.6,378.9 879.0,378.5 879.3,378.1 879.6,377.8 879.9,377.6 880.2,377.3 880.5,377.2 880.8,377.1 881.1,377.0 881.4,377.0 881.7,377.0 882.1,377.1 882.4,377.2 882.7,377.4 883.0,377.6 883.3,377.8 883.6,378.2 883.9,378.5 884.2,378.9 884.5,379.3 884.8,379.8 885.1,380.3 885.5,380.8 885.8,381.4 886.1,382.0 886.4,382.6 886.7,383.2 887.0,383.9 887.3,384.5 887.6,385.2 887.9,385.9 888.2,386.6 888.6,387.4 888.9,388.1 889.2,388.8 889.5,389.5 889.8,390.2 890.1,390.9 890.4,391.5 890.7,392.2 891.0,392.8 891.3,393.4 891.7,394.0 892.0,394.5 892.3,395.1 892.6,395.5 892.9,396.0 893.2,396.4 893.5,396.7 893.8,397.1 894.1,397.3 894.4,397.6 894.8,397.7 895.1,397.9 895.4,397.9 895.7,398.0 896.0,398.0 896.3,397.9 896.6,397.8 896.9,397.6 897.2,397.3 897.5,397.1 897.8,396.7 898.2,396.4 898.5,395.9 898.8,395.5 899.1,394.9 899.4,394.4 899.7,393.8 900.0,393.2 900.3,392.5 900.6,391.8 900.9,391.0 901.3,390.3 901.6,389.5 901.9,388.7 902.2,387.9 902.5,387.0 902.8,386.2 903.1,385.3 903.4,384.5 903.7,383.6 904.0,382.7 904.4,381.9 904.7,381.0 905.0,380.2 905.3,379.4 905.6,378.6 905.9,377.8 906.2,377.1 906.5,376.4 906.8,375.7 907.1,375.1 907.4,374.5 907.8,373.9 908.1,373.4 908.4,372.9 908.7,372.5 909.0,372.1 909.3,371.8 909.6,371.5 909.9,371.3 910.2,371.1 910.5,371.0 910.9,371.0 911.2,371.0 911.5,371.1 911.8,371.2 912.1,371.4 912.4,371.6 912.7,371.9 913.0,372.3 913.3,372.7 913.6,373.2 914.0,373.7 914.3,374.2 914.6,374.8 914.9,375.5 915.2,376.2 915.5,376.9 915.8,377.7 916.1,378.5 916.4,379.3 916.7,380.2 917.1,381.1 917.4,382.0 917.7,382.9 918.0,383.8 918.3,384.7 918.6,385.7 918.9,386.6 919.2,387.5 919.5,388.5 919.8,389.4 920.1,390.3 920.5,391.2 920.8,392.0 921.1,392.8 921.4,393.6 921.7,394.4 922.0,395.1 922.3,395.8 922.6,396.4 922.9,397.0 923.2,397.5 923.6,398.0 923.9,398.4 924.2,398.7 924.5,399.0 924.8,399.2 925.1,399.4 925.4,399.5 925.7,399.6 926.0,399.5 926.3,399.4 926.7,399.3 927.0,399.0 927.3,398.8 927.6,398.4 927.9,398.0 928.2,397.5 928.5,396.9 928.8,396.3 929.1,395.7 929.4,395.0 929.7,394.2 930.1,393.4 930.4,392.5 930.7,391.7 931.0,390.7 931.3,389.7 931.6,388.8 931.9,387.7 932.2,386.7 932.5,385.6 932.8,384.6 933.2,383.5 933.5,382.4 933.8,381.3 934.1,380.2 934.4,379.2 934.7,378.1 935.0,377.1 935.3,376.1 935.6,375.1 935.9,374.2 936.3,373.3 936.6,372.5 936.9,371.6 937.2,370.9 937.5,370.2 937.8,369.5 938.1,369.0 938.4,368.4 938.7,368.0 939.0,367.6 939.4,367.3 939.7,367.0 940.0,366.9 940.3,366.8 940.6,366.8 940.9,366.9 941.2,367.1 941.5,367.4 941.8,367.7 942.1,368.1 942.4,368.5 942.8,369.1 943.1,369.7 943.4,370.4 943.7,371.1 944.0,371.9 944.3,372.7 944.6,373.6 944.9,374.6 945.2,375.6 945.5,376.6 945.9,377.7 946.2,378.8 946.5,380.0 946.8,381.1 947.1,382.3 947.4,383.5 947.7,384.7 948.0,385.9 948.3,387.1 948.6,388.3 949.0,389.5 949.3,390.7 949.6,391.9 949.9,393.0 950.2,394.1 950.5,395.1 950.8,396.1 951.1,397.1 951.4,398.0 951.7,398.9 952.0,399.7 952.4,400.5 952.7,401.2 953.0,401.8 953.3,402.3 953.6,402.8 953.9,403.2 954.2,403.5 954.5,403.8 954.8,404.0 955.1,404.0 955.5,404.1 955.8,404.0 956.1,403.8 956.4,403.6 956.7,403.3 957.0,402.9 957.3,402.5 957.6,401.9 957.9,401.3 958.2,400.6 958.6,399.9 958.9,399.1 959.2,398.2 959.5,397.3 959.8,396.3 960.1,395.3 960.4,394.2 960.7,393.1 961.0,392.0 961.3,390.8 961.6,389.6 962.0,388.4 962.3,387.2 962.6,386.0 962.9,384.7 963.2,383.5 963.5,382.2 963.8,381.0 964.1,379.8 964.4,378.7 964.7,377.5 965.1,376.4 965.4,375.3 965.7,374.3 966.0,373.3 966.3,372.4 966.6,371.5 966.9,370.7 967.2,370.0 967.5,369.3 967.8,368.7 968.2,368.1 968.5,367.7 968.8,367.3 969.1,367.0 969.4,366.8 969.7,366.7 970.0,366.6 970.3,366.7 970.6,366.8 970.9,367.0 971.3,367.3 971.6,367.6 971.9,368.1 972.2,368.6 972.5,369.2 972.8,369.9 973.1,370.6 973.4,371.4 973.7,372.3 974.0,373.3 974.3,374.3 974.7,375.4 975.0,376.5 975.3,377.7 975.6,378.9 975.9,380.2 976.2,381.5 976.5,382.8 976.8,384.1 977.1,385.5 977.4,386.9 977.8,388.2 978.1,389.6 978.4,391.0 978.7,392.3 979.0,393.7 979.3,395.0 979.6,396.3 979.9,397.5 980.2,398.7 980.5,399.9 980.9,401.0 981.2,402.1 981.5,403.0 981.8,404.0 982.1,404.8 982.4,405.6 982.7,406.3 983.0,407.0 983.3,407.5 983.6,408.0 983.9,408.4 984.3,408.6 984.6,408.8 984.9,408.9 985.2,408.9 985.5,408.9 985.8,408.7 986.1,408.4 986.4,408.1 986.7,407.6 987.0,407.1 987.4,406.4 987.7,405.7 988.0,404.9 988.3,404.1 988.6,403.1 988.9,402.1 989.2,401.0 989.5,399.9 989.8,398.7 990.1,397.4 990.5,396.2 990.8,394.8 991.1,393.4 991.4,392.0 991.7,390.6 992.0,389.2 992.3,387.7 992.6,386.3 992.9,384.8 993.2,383.3 993.6,381.9 993.9,380.5 994.2,379.1 994.5,377.8 994.8,376.4 995.1,375.2 995.4,374.0 995.7,372.8 996.0,371.7 996.3,370.7 996.6,369.7 997.0,368.8 997.3,368.0 997.6,367.3 997.9,366.7 998.2,366.1 998.5,365.7 998.8,365.3 999.1,365.1 999.4,364.9 999.7,364.8 1000.1,364.9 1000.4,365.0 1000.7,365.3 1001.0,365.6 1001.3,366.1 1001.6,366.6 1001.9,367.3 1002.2,368.0 1002.5,368.8 1002.8,369.8 1003.2,370.8 1003.5,371.9 1003.8,373.0 1004.1,374.3 1004.4,375.6 1004.7,376.9 1005.0,378.3 1005.3,379.8 1005.6,381.3 1005.9,382.9 1006.2,384.5 1006.6,386.1 1006.9,387.7 1007.2,389.3 1007.5,391.0 1007.8,392.6 1008.1,394.3 1008.4,395.9 1008.7,397.5 1009.0,399.1 1009.3,400.6 1009.7,402.1 1010.0,403.5 1010.3,404.9 1010.6,406.2 1010.9,407.5 1011.2,408.7 1011.5,409.8 1011.8,410.8 1012.1,411.7 1012.4,412.6 1012.8,413.3 1013.1,413.9 1013.4,414.5 1013.7,414.9 1014.0,415.3 1014.3,415.5 1014.6,415.6 1014.9,415.6 1015.2,415.5 1015.5,415.2 1015.9,414.9 1016.2,414.5 1016.5,413.9 1016.8,413.3 1017.1,412.5 1017.4,411.6 1017.7,410.7 1018.0,409.6 1018.3,408.5 1018.6,407.3 1018.9,406.0 1019.3,404.6 1019.6,403.2 1019.9,401.7 1020.2,400.1 1020.5,398.5 1020.8,396.9 1021.1,395.2 1021.4,393.5 1021.7,391.8 1022.0,390.0 1022.4,388.3 1022.7,386.6 1023.0,384.8 1023.3,383.1 1023.6,381.5 1023.9,379.8 1024.2,378.2 1024.5,376.7 1024.8,375.2 1025.1,373.7 1025.5,372.3 1025.8,371.0 1026.1,369.8 1026.4,368.7 1026.7,367.7 1027.0,366.7 1027.3,365.9 1027.6,365.1 1027.9,364.5 1028.2,364.0 1028.5,363.6 1028.9,363.3 1029.2,363.2 1029.5,363.1 1029.8,363.2 1030.1,363.4 1030.4,363.7 1030.7,364.2 1031.0,364.7 1031.3,365.4 1031.6,366.1 1032.0,366.9 1032.3,367.9 1032.6,369.0 1032.9,370.1 1033.2,371.4 1033.5,372.7 1033.8,374.1 1034.1,375.6 1034.4,377.2 1034.7,378.9 1035.1,380.6 1035.4,382.3 1035.7,384.1 1036.0,386.0 1036.3,387.8 1036.6,389.7 1036.9,391.6 1037.2,393.5 1037.5,395.4 1037.8,397.3 1038.2,399.2 1038.5,401.0 1038.8,402.9 1039.1,404.6 1039.4,406.3 1039.7,408.0 1040.0,409.5 1040.3,411.0 1040.6,412.5 1040.9,413.8 1041.2,415.0 1041.6,416.2 1041.9,417.2 1042.2,418.1 1042.5,418.9 1042.8,419.6 1043.1,420.2 1043.4,420.6 1043.7,420.9 1044.0,421.1 1044.3,421.2 1044.7,421.1 1045.0,420.9 1045.3,420.5 1045.6,420.0 1045.9,419.4 1046.2,418.7 1046.5,417.8 1046.8,416.8 1047.1,415.7 1047.4,414.5 1047.8,413.2 1048.1,411.8 1048.4,410.3 1048.7,408.6 1049.0,406.9 1049.3,405.2 1049.6,403.3 1049.9,401.4 1050.2,399.4 1050.5,397.4 1050.8,395.3 1051.2,393.2 1051.5,391.1 1051.8,389.0 1052.1,386.9 1052.4,384.7 1052.7,382.6 1053.0,380.5 1053.3,378.4 1053.6,376.4 1053.9,374.4 1054.3,372.4 1054.6,370.6 1054.9,368.8 1055.2,367.1 1055.5,365.5 1055.8,364.0 1056.1,362.6 1056.4,361.3 1056.7,360.1 1057.0,359.1 1057.4,358.2 1057.7,357.5 1058.0,356.9 1058.3,356.5 1058.6,356.2 1058.9,356.1 1059.2,356.1 1059.5,356.4 1059.8,356.9 1060.1,357.4 1060.5,358.2 1060.8,359.1 1061.1,360.1 1061.4,361.3 1061.7,362.7 1062.0,364.1 1062.3,365.7 1062.6,367.4 1062.9,369.3 1063.2,371.2 1063.5,373.2 1063.9,375.4 1064.2,377.5 1064.5,379.8 1064.8,382.1 1065.1,384.5 1065.4,386.9 1065.7,389.3 1066.0,391.7 1066.3,394.1 1066.6,396.5 1067.0,398.9 1067.3,401.2 1067.6,403.5 1067.9,405.7 1068.2,407.9 1068.5,409.9 1068.8,411.9 1069.1,413.8 1069.4,415.6 1069.7,417.2 1070.1,418.8 1070.4,420.2 1070.7,421.5 1071.0,422.6 1071.3,423.5 1071.6,424.4 1071.9,425.0 1072.2,425.5 1072.5,425.9 1072.8,426.1 1073.1,426.1 1073.5,425.9 1073.8,425.6 1074.1,425.2 1074.4,424.6 1074.7,423.8 1075.0,422.9 1075.3,421.8 1075.6,420.6 1075.9,419.2 1076.2,417.8 1076.6,416.2 1076.9,414.5 1077.2,412.7 1077.5,410.8 1077.8,408.8 1078.1,406.8 1078.4,404.6 1078.7,402.5 1079.0,400.2 1079.3,398.0 1079.7,395.7 1080.0,393.4 1080.3,391.0 1080.6,388.7 1080.9,386.4 1081.2,384.1 1081.5,381.9 1081.8,379.7 1082.1,377.6 1082.4,375.5 1082.7,373.5 1083.1,371.5 1083.4,369.7 1083.7,367.9 1084.0,366.2 1084.3,364.7 1084.6,363.3 1084.9,361.9 1085.2,360.7 1085.5,359.7 1085.8,358.7 1086.2,357.9 1086.5,357.3 1086.8,356.7 1087.1,356.4 1087.4,356.1 1087.7,356.0 1088.0,356.1 1088.3,356.3 1088.6,356.6 1088.9,357.1 1089.3,357.7 1089.6,358.4 1089.9,359.3 1090.2,360.3 1090.5,361.5 1090.8,362.7 1091.1,364.0 1091.4,365.4 1091.7,366.8 1092.0,368.4 1092.4,370.1 1092.7,371.8 1093.0,373.7 1093.3,375.6 1093.6,377.6 1093.9,379.6 1094.2,381.8 1094.5,383.9 1094.8,386.1 1095.1,388.4 1095.4,390.6 1095.8,392.9 1096.1,395.2 1096.4,397.5 1096.7,399.8 1097.0,402.0 1097.3,404.3 1097.6,406.5 1097.9,408.7 1098.2,410.8 1098.5,412.8 1098.9,414.9 1099.2,416.8 1099.5,418.7 1099.8,420.4 1100.1,422.1 1100.4,423.7 1100.7,425.2 1101.0,426.6 1101.3,427.9 1101.6,429.0 1102.0,430.1 1102.3,431.0 1102.6,431.7 1102.9,432.4 1103.2,432.9 1103.5,433.3 1103.8,433.5 1104.1,433.6 1104.4,433.5 1104.7,433.3 1105.0,433.0 1105.4,432.5 1105.7,431.9 1106.0,431.1 1106.3,430.2 1106.6,429.2 1106.9,428.0 1107.2,426.7 1107.5,425.2 1107.8,423.7 1108.1,422.0 1108.5,420.3 1108.8,418.4 1109.1,416.5 1109.4,414.5 1109.7,412.3 1110.0,410.1 1110.3,407.8 1110.6,405.4 1110.9,403.0 1111.2,400.5 1111.6,397.9 1111.9,395.3 1112.2,392.7 1112.5,390.1 1112.8,387.4 1113.1,384.8 1113.4,382.1 1113.7,379.5 1114.0,376.9 1114.3,374.3 1114.7,371.8 1115.0,369.3 1115.3,366.9 1115.6,364.5 1115.9,362.3 1116.2,360.1 1116.5,358.0 1116.8,356.0 1117.1,354.2 1117.4,352.4 1117.7,350.8 1118.1,349.3 1118.4,347.9 1118.7,346.7 1119.0,345.6 1119.3,344.7 1119.6,343.9 1119.9,343.1 1120.2,342.4 1120.5,341.8 1120.8,341.5 1121.2,341.3 1121.5,341.2 1121.8,341.4 1122.1,341.7 1122.4,342.2 1122.7,342.9 1123.0,343.8 1123.3,344.8 1123.6,346.0 1123.9,347.4 1124.3,348.9 1124.6,350.6 1124.9,352.5 1125.2,354.5 1125.5,356.7 1125.8,359.0 1126.1,361.4 1126.4,363.9 1126.7,366.6 1127.0,369.4 1127.3,372.3 1127.7,375.2 1128.0,378.3 1128.3,381.4 1128.6,384.5 1128.9,387.7 1129.2,391.0 1129.5,394.2 1129.8,397.5 1130.1,400.8 1130.4,404.1 1130.8,407.3 1131.1,410.5 1131.4,413.6 1131.7,416.7 1132.0,419.7 1132.3,422.7 1132.6,425.5 1132.9,428.2 1133.2,430.9 1133.5,433.3 1133.9,435.7 1134.2,437.9 1134.5,439.9 1134.8,441.7 1135.1,443.4 1135.4,444.9 1135.7,446.2 1136.0,447.3 1136.3,448.3 1136.6,448.9 1137.0,449.4 1137.3,449.7 1137.6,449.7 1137.9,449.5 1138.2,449.1 1138.5,448.5 1138.8,447.7 1139.1,446.6 1139.4,445.3 1139.7,443.8 1140.0,442.0 1140.4,440.1 1140.7,437.9 1141.0,435.5 1141.3,432.9 1141.6,430.1 1141.9,427.2 1142.2,424.0 1142.5,420.7 1142.8,417.2 1143.1,413.6 1143.5,409.9 1143.8,406.0 1144.1,402.0 1144.4,397.9 1144.7,393.7 1145.0,389.5 1145.3,385.1 1145.6,380.8 1145.9,376.4 1146.2,372.0 1146.6,367.6 1146.9,363.2 1147.2,358.8 1147.5,354.5 1147.8,350.2 1148.1,346.0 1148.4,341.9 1148.7,337.9 1149.0,334.0 1149.3,330.3 1149.6,326.7 1150.0,323.2 1150.3,319.9 1150.6,316.8 1150.9,313.9 1151.2,311.3 1151.5,308.8 1151.8,306.5 1152.1,304.5 1152.4,302.8 1152.7,301.3 1153.1,300.0 1153.4,299.0 1153.7,298.6 1154.0,298.4 1154.3,298.5 1154.6,298.8 1154.9,299.5 1155.2,300.4 1155.5,301.6 1155.8,303.0 1156.2,304.8 1156.5,306.7 1156.8,309.0 1157.1,311.5 1157.4,314.2 1157.7,317.2 1158.0,320.4 1158.3,323.8 1158.6,327.5 1158.9,331.3 1159.3,335.3 1159.6,339.4 1159.9,343.7 1160.2,348.2 1160.5,352.8 1160.8,357.5 1161.1,362.3 1161.4,367.1 1161.7,372.1 1162.0,377.0 1162.3,382.0 1162.7,387.0 1163.0,392.0 1163.3,397.0 1163.6,402.0 1163.9,406.8 1164.2,411.6 1164.5,416.4 1164.8,421.0 1165.1,425.4 1165.4,429.8 1165.8,434.0 1166.1,438.0 1166.4,441.8 1166.7,445.4 1167.0,448.8 1167.3,452.0 1167.6,455.0 1167.9,457.7 1168.2,460.1 1168.5,462.3 1168.9,464.2 1169.2,465.7 1169.5,466.9 1169.8,467.8 1170.1,468.4 1170.4,468.7 1170.7,468.7 1171.0,468.4 1171.3,467.7 1171.6,466.8 1171.9,465.5 1172.3,464.0 1172.6,462.2 1172.9,460.0 1173.2,457.6 1173.5,454.9 1173.8,452.0 1174.1,448.7 1174.4,445.3 1174.7,441.6 1175.0,437.6 1175.4,433.5 1175.7,429.2 1176.0,424.6 1176.3,419.9 1176.6,415.1 1176.9,410.1 1177.2,405.0 1177.5,399.8 1177.8,394.4 1178.1,389.1 1178.5,383.6 1178.8,378.2 1179.1,372.7 1179.4,367.2 1179.7,361.8 1180.0,356.4 1180.3,351.1 1180.6,345.8 1180.9,340.6 1181.2,335.6 1181.5,330.6 1181.9,325.9 1182.2,321.2 1182.5,316.8 1182.8,312.6 1183.1,308.5 1183.4,304.7 1183.7,301.2 1184.0,297.9 1184.3,294.8 1184.6,292.1 1185.0,289.6 1185.3,287.4 1185.6,285.5 1185.9,283.9 1186.2,282.6 1186.5,281.7 1186.8,281.0 1187.1,280.7 1187.4,280.8 1187.7,281.2 1188.1,281.9 1188.4,283.0 1188.7,284.4 1189.0,286.1 1189.3,288.1 1189.6,290.4 1189.9,293.0 1190.2,295.9 1190.5,299.0 1190.8,302.5 1191.2,306.2 1191.5,310.1 1191.8,314.3 1192.1,318.7 1192.4,323.3 1192.7,328.1 1193.0,333.0 1193.3,338.1 1193.6,343.4 1193.9,348.7 1194.2,354.2 1194.6,359.7 1194.9,365.3 1195.2,371.0 1195.5,376.6 1195.8,382.3 1196.1,388.0 1196.4,393.6 1196.7,399.2 1197.0,404.7 1197.3,410.1 1197.7,415.4 1198.0,420.5 1198.3,425.5 1198.6,430.4 1198.9,435.1 1199.2,439.5 1199.5,443.8 1199.8,447.8 1200.1,451.6 1200.4,455.1 1200.8,458.4 1201.1,461.4 1201.4,464.1 1201.7,466.4 1202.0,468.5 1202.3,470.3 1202.6,471.7 1202.9,472.8 1203.2,473.5 1203.5,473.9 1203.8,474.0 1204.2,473.7 1204.5,473.1 1204.8,472.2 1205.1,470.9 1205.4,469.3 1205.7,467.3 1206.0,465.1 1206.3,462.5 1206.6,459.6 1206.9,456.4 1207.3,453.0 1207.6,449.2 1207.9,445.2 1208.2,441.0 1208.5,436.5 1208.8,431.7 1209.1,426.8 1209.4,421.7 1209.7,416.5 1210.0,411.0 1210.4,405.5 1210.7,399.8 1211.0,394.0 1211.3,388.2 1211.6,382.3 1211.9,376.3 1212.2,370.3 1212.5,364.4 1212.8,358.4 1213.1,352.6 1213.5,346.7 1213.8,341.0 1214.1,335.3 1214.4,329.8 1214.7,324.4 1215.0,319.2 1215.3,314.2 1215.6,309.3 1215.9,304.7 1216.2,300.3 1216.5,296.2 1216.9,292.3 1217.2,288.6 1217.5,285.3 1217.8,282.3 1218.1,279.5 1218.4,277.1 1218.7,275.0 1219.0,273.2 1219.3,271.8 1219.6,270.7 1220.0,270.0 1220.3,269.6 1220.6,269.6 1220.9,269.9 1221.2,270.6 1221.5,271.7 1221.8,273.0 1222.1,274.8 1222.4,276.8 1222.7,279.2 1223.1,281.9 1223.4,285.0 1223.7,288.3 1224.0,291.9 1224.3,295.8 1224.6,300.0 1224.9,304.4 1225.2,309.1 1225.5,314.0 1225.8,319.1 1226.1,324.4 1226.5,329.8 1226.8,335.5 1227.1,341.2 1227.4,347.1 1227.7,353.0 1228.0,359.0 1228.3,365.1 1228.6,371.2 1228.9,377.3 1229.2,383.4 1229.6,389.5 1229.9,395.5 1230.2,401.5 1230.5,407.3 1230.8,413.1 1231.1,418.7 1231.4,424.2 1231.7,429.4 1232.0,434.5 1232.3,439.4 1232.7,444.1 1233.0,448.5 1233.3,452.6 1233.6,456.5 1233.9,460.1 1234.2,463.4 1234.5,466.4 1234.8,469.0 1235.1,471.4 1235.4,473.4 1235.8,475.1 1236.1,476.5 1236.4,477.5 1236.7,478.1 1237.0,478.3 1237.3,478.2 1237.6,477.7 1237.9,476.9 1238.2,475.7 1238.5,474.1 1238.8,472.2 1239.2,469.9 1239.5,467.3 1239.8,464.3 1240.1,461.0 1240.4,457.4 1240.7,453.5 1241.0,449.3 1241.3,444.8 1241.6,440.1 1241.9,435.1 1242.3,429.9 1242.6,424.5 1242.9,418.9 1243.2,413.1 1243.5,407.2 1243.8,401.1 1244.1,394.9 1244.4,388.6 1244.7,382.3 1245.0,375.9 1245.4,369.4 1245.7,363.0 1246.0,356.6 1246.3,350.2 1246.6,343.9 1246.9,337.6 1247.2,331.5 1247.5,325.4 1247.8,319.6 1248.1,313.9 1248.4,308.3 1248.8,303.0 1249.1,297.9 1249.4,293.1 1249.7,288.5 1250.0,284.1 1250.3,280.1 1250.6,276.4 1250.9,273.0 1251.2,269.9 1251.5,267.3 1251.9,265.1 1252.2,263.3 1252.5,261.9 1252.8,260.8 1253.1,260.2 1253.4,259.9 1253.7,260.0 1254.0,260.5 1254.3,261.3 1254.6,262.5 1255.0,264.2 1255.3,266.1 1255.6,268.5 1255.9,271.2 1256.2,274.2 1256.5,277.6 1256.8,281.3 1257.1,285.3 1257.4,289.6 1257.7,294.2 1258.1,299.1 1258.4,304.2 1258.7,309.5 1259.0,315.1 1259.3,320.9 1259.6,326.8 1259.9,332.9 1260.2,339.2 1260.5,345.5 1260.8,352.0 1261.1,358.5 1261.5,365.1 1261.8,371.7 1262.1,378.3 1262.4,384.9 1262.7,391.5 1263.0,398.0 1263.3,404.4 1263.6,410.7 1263.9,416.9 1264.2,423.0 1264.6,428.9 1264.9,434.6 1265.2,440.1 1265.5,445.3 1265.8,450.4 1266.1,455.2 1266.4,459.7 1266.7,463.9 1267.0,467.8 1267.3,471.4 1267.7,474.7 1268.0,477.6 1268.3,480.2 1268.6,482.5 1268.9,484.3 1269.2,485.8 1269.5,487.0 1269.8,487.7 1270.1,488.1 1270.4,488.1 1270.7,487.8 1271.1,487.1 1271.4,486.0 1271.7,484.6 1272.0,482.7 1272.3,480.6 1272.6,478.0 1272.9,475.2 1273.2,472.0 1273.5,468.5 1273.8,464.7 1274.2,460.6 1274.5,456.2 1274.8,451.5 1275.1,446.6 1275.4,441.5 1275.7,436.1 1276.0,430.6 1276.3,424.9 1276.6,419.1 1276.9,413.1 1277.3,407.0 1277.6,400.8 1277.9,394.5 1278.2,388.2 1278.5,381.9 1278.8,375.5 1279.1,369.2 1279.4,362.9 1279.7,356.7 1280.0,350.6 1280.4,344.6 1280.7,338.7 1281.0,332.9 1281.3,327.4 1281.6,322.0 1281.9,316.8 1282.2,311.9 1282.5,307.1 1282.8,302.7 1283.1,298.5 1283.4,294.6 1283.8,291.1 1284.1,287.8 1284.4,284.9 1284.7,282.3 1285.0,280.0 1285.3,278.1 1285.6,276.6 1285.9,275.4 1286.2,274.6 1286.5,274.2 1286.9,274.2 1287.2,274.5 1287.5,275.1 1287.8,276.0 1288.1,277.3 1288.4,278.9 1288.7,281.0 1289.0,283.3 1289.3,286.1 1289.6,289.2 1290.0,292.6 1290.3,296.3 1290.6,300.4 1290.9,304.8 1291.2,309.4 1291.5,314.3 1291.8,319.5 1292.1,324.9 1292.4,330.5 1292.7,336.3 1293.0,342.3 1293.4,348.5 1293.7,354.7 1294.0,361.2 1294.3,367.7 1294.6,374.2 1294.9,380.9 1295.2,387.5 1295.5,394.2 1295.8,400.8 1296.1,407.5 1296.5,414.0 1296.8,420.5 1297.1,426.8 1297.4,433.1 1297.7,439.1 1298.0,445.0 1298.3,450.8 1298.6,456.3 1298.9,461.5 1299.2,466.6 1299.6,471.3 1299.9,475.8 1300.2,480.0 1300.5,483.8 1300.8,487.4 1301.1,490.6 1301.4,493.4 1301.7,495.9 1302.0,498.0 1302.3,499.8 1302.6,501.1 1303.0,502.0 1303.3,502.4 1303.6,502.5 1303.9,502.2 1304.2,501.4 1304.5,500.3 1304.8,498.8 1305.1,496.9 1305.4,494.6 1305.7,492.0 1306.1,489.0 1306.4,485.6 1306.7,481.9 1307.0,477.9 1307.3,473.5 1307.6,468.9 1307.9,464.0 1308.2,458.8 1308.5,453.3 1308.8,447.6 1309.2,441.7 1309.5,435.6 1309.8,429.4 1310.1,423.0 1310.4,416.4 1310.7,409.8 1311.0,403.0 1311.3,396.2 1311.6,389.4 1311.9,382.6 1312.3,375.7 1312.6,368.9 1312.9,362.2 1313.2,355.5 1313.5,348.9 1313.8,342.5 1314.1,336.2 1314.4,330.0 1314.7,324.1 1315.0,318.3 1315.3,312.8 1315.7,307.6 1316.0,302.6 1316.3,297.9 1316.6,293.5 1316.9,289.4 1317.2,285.6 1317.5,282.2 1317.8,279.1 1318.1,276.4 1318.4,274.0 1318.8,272.1 1319.1,270.5 1319.4,269.4 1319.7,268.7 1320.0,268.3 1320.3,268.4 1320.6,268.9 1320.9,269.8 1321.2,271.1 1321.5,272.8 1321.9,274.9 1322.2,277.4 1322.5,280.2 1322.8,283.4 1323.1,286.9 1323.4,290.8 1323.7,295.0 1324.0,299.6 1324.3,304.4 1324.6,309.5 1324.9,314.9 1325.3,320.5 1325.6,326.3 1325.9,332.4 1326.2,338.6 1326.5,345.0 1326.8,351.6 1327.1,358.2 1327.4,365.0 1327.7,371.8 1328.0,378.7 1328.4,385.6 1328.7,392.5 1329.0,399.4 1329.3,406.3 1329.6,413.1 1329.9,419.8 1330.2,426.3 1330.5,432.8 1330.8,439.1 1331.1,445.2 1331.5,451.1 1331.8,456.8 1332.1,462.2 1332.4,467.4 1332.7,472.3 1333.0,477.0 1333.3,481.3 1333.6,485.3 1333.9,488.9 1334.2,492.2 1334.6,495.1 1334.9,497.7 1335.2,499.9 1335.5,501.7 1335.8,503.1 1336.1,504.1 1336.4,504.7 1336.7,505.0 1337.0,504.8 1337.3,504.2 1337.6,503.2 1338.0,501.8 1338.3,500.1 1338.6,497.9 1338.9,495.4 1339.2,492.4 1339.5,489.1 1339.8,485.5 1340.1,481.5 1340.4,477.2 1340.7,472.6 1341.1,467.7 1341.4,462.5 1341.7,457.1 1342.0,451.4 1342.3,445.5 1342.6,439.3 1342.9,433.1 1343.2,426.6 1343.5,420.0 1343.8,413.3 1344.2,406.5 1344.5,399.6 1344.8,392.7 1345.1,385.8 1345.4,378.8 1345.7,371.9 1346.0,365.0 1346.3,358.3 1346.6,351.6 1346.9,345.0 1347.2,338.6 1347.6,332.3 1347.9,326.2 1348.2,320.4 1348.5,314.7 1348.8,309.3 1349.1,304.2 1349.4,299.4 1349.7,294.8 1350.0,290.6 1350.3,286.7 1350.7,283.2 1351.0,280.0 1351.3,277.1 1351.6,274.7 1351.9,272.6 1352.2,271.0 1352.5,269.7 1352.8,268.9 1353.1,268.4 1353.4,268.4 1353.8,268.7 1354.1,269.5 1354.4,270.7 1354.7,272.3 1355.0,274.2 1355.3,276.6 1355.6,279.4 1355.9,282.5 1356.2,286.0 1356.5,289.8 1356.9,294.0 1357.2,298.5 1357.5,303.3 1357.8,308.4 1358.1,313.8 1358.4,319.5 1358.7,325.4 1359.0,331.5 1359.3,337.8 1359.6,344.3 1359.9,350.9 1360.3,357.7 1360.6,364.5 1360.9,371.5 1361.2,378.5 1361.5,385.6 1361.8,392.7 1362.1,399.8 1362.4,406.8 1362.7,413.8 1363.0,420.7 1363.4,427.5 1363.7,434.1 1364.0,440.6 1364.3,447.0 1364.6,453.1 1364.9,459.1 1365.2,464.7 1365.5,470.2 1365.8,475.3 1366.1,480.2 1366.5,484.7 1366.8,489.0 1367.1,492.9 1367.4,496.4 1367.7,499.6 1368.0,502.3 1368.3,504.7 1368.6,506.8 1368.9,508.4 1369.2,509.6 1369.5,510.3 1369.9,510.6 1370.2,510.4 1370.5,509.9 1370.8,508.9 1371.1,507.6 1371.4,505.8 1371.7,503.6 1372.0,501.0 1372.3,498.1 1372.6,494.8 1373.0,491.1 1373.3,487.0 1373.6,482.7 1373.9,478.0 1374.2,473.0 1374.5,467.7 1374.8,462.1 1375.1,456.3 1375.4,450.3 1375.7,444.1 1376.1,437.6 1376.4,431.0 1376.7,424.3 1377.0,417.4 1377.3,410.5 1377.6,403.4 1377.9,396.4 1378.2,389.3 1378.5,382.1 1378.8,375.1 1379.2,368.0 1379.5,361.1 1379.8,354.2 1380.1,347.4 1380.4,340.8 1380.7,334.4 1381.0,328.1 1381.3,322.1 1381.6,316.2 1381.9,310.7 1382.2,305.4 1382.6,300.3 1382.9,295.6 1383.2,291.2 1383.5,287.1 1383.8,283.4 1384.1,280.0 1384.4,277.0 1384.7,274.4 1385.0,272.2 1385.3,270.4 1385.7,269.0 1386.0,267.9 1386.3,267.3 1386.6,267.2 1386.9,267.4 1387.2,268.0 1387.5,269.2 1387.8,270.7 1388.1,272.6 1388.4,274.9 1388.8,277.6 1389.1,280.7 1389.4,284.2 1389.7,288.0 1390.0,292.1 1390.3,296.6 1390.6,301.4 1390.9,306.4 1391.2,311.8 1391.5,317.4 1391.8,323.2 1392.2,329.3 1392.5,335.5 1392.8,342.0 1393.1,348.5 1393.4,355.2 1393.7,362.1 1394.0,369.0 1394.3,375.9 1394.6,382.9 1394.9,389.9 1395.3,396.9 1395.6,403.9 1395.9,410.8 1396.2,417.6 1396.5,424.3 1396.8,430.9 1397.1,437.4 1397.4,443.6 1397.7,449.7 1398.0,455.5 1398.4,461.2 1398.7,466.5 1399.0,471.6 1399.3,476.4 1399.6,480.9 1399.9,485.1 1400.2,488.9 1400.5,492.4 1400.8,495.6 1401.1,498.4 1401.4,500.8 1401.8,502.9 1402.1,504.6 1402.4,505.9 1402.7,506.8 1403.0,507.3 1403.3,507.4 1403.6,507.0 1403.9,506.3 1404.2,505.2 1404.5,503.7 1404.9,501.8 1405.2,499.5 1405.5,496.8 1405.8,493.8 1406.1,490.4 1406.4,486.7 1406.7,482.6 1407.0,478.2 1407.3,473.5 1407.6,468.5 1408.0,463.3 1408.3,457.8 1408.6,452.1 1408.9,446.1 1409.2,440.0 1409.5,433.7 1409.8,427.2 1410.1,420.7 1410.4,414.0 1410.7,407.2 1411.1,400.4 1411.4,393.6 1411.7,386.7 1412.0,379.9 1412.3,373.0 1412.6,366.3 1412.9,359.6 1413.2,353.1 1413.5,346.7 1413.8,340.4 1414.1,334.3 1414.5,328.4 1414.8,322.7 1415.1,317.3 1415.4,312.1 1415.7,307.2 1416.0,302.5 1416.3,298.2 1416.6,294.2 1416.9,290.5 1417.2,287.2 1417.6,284.2 1417.9,281.6 1418.2,279.4 1418.5,277.6 1418.8,276.1 1419.1,275.1 1419.4,274.4 1419.7,274.2 1420.0,274.3 1420.3,274.9 1420.7,275.8 1421.0,277.0 1421.3,278.6 1421.6,280.6 1421.9,283.0 1422.2,285.8 1422.5,288.9 1422.8,292.4 1423.1,296.2 1423.4,300.4 1423.7,304.9 1424.1,309.7 1424.4,314.8 1424.7,320.1 1425.0,325.7 1425.3,331.6 1425.6,337.7 1425.9,343.9 1426.2,350.3 1426.5,356.9 1426.8,363.6 1427.2,370.4 1427.5,377.3 1427.8,384.3 1428.1,391.2 1428.4,398.2 1428.7,405.2 1429.0,412.2 1429.3,419.0 1429.6,425.8 1429.9,432.5 1430.3,439.1 1430.6,445.5 1430.9,451.7 1431.2,457.7 1431.5,463.6 1431.8,469.1 1432.1,474.4 1432.4,479.5 1432.7,484.2 1433.0,488.6 1433.4,492.7 1433.7,496.5 1434.0,499.9 1434.3,502.9 1434.6,505.6 1434.9,507.8 1435.2,509.7 1435.5,511.2 1435.8,512.3 1436.1,512.9 1436.4,513.0 1436.8,512.8 1437.1,512.2 1437.4,511.1 1437.7,509.6 1438.0,507.7 1438.3,505.4 1438.6,502.8 1438.9,499.7 1439.2,496.2 1439.5,492.4 1439.9,488.3 1440.2,483.8 1440.5,479.0 1440.8,473.9 1441.1,468.5 1441.4,462.8 1441.7,456.9 1442.0,450.7 1442.3,444.3 1442.6,437.8 1443.0,431.1 1443.3,424.2 1443.6,417.2 1443.9,410.1 1444.2,403.0 1444.5,395.8 1444.8,388.5 1445.1,381.3 1445.4,374.1 1445.7,366.9 1446.0,359.9 1446.4,352.9 1446.7,346.0 1447.0,339.3 1447.3,332.8 1447.6,326.4 1447.9,320.3 1448.2,314.4 1448.5,308.7 1448.8,303.3 1449.1,298.3 1449.5,293.5 1449.8,289.0 1450.1,284.9 1450.4,281.2 1450.7,277.8 1451.0,274.9 1451.3,272.4 1451.6,270.3 1451.9,268.6 1452.2,267.4 1452.6,266.5 1452.9,266.1 1453.2,266.1 1453.5,266.5 1453.8,267.4 1454.1,268.7 1454.4,270.3 1454.7,272.4 1455.0,274.9 1455.3,277.8 1455.7,281.1 1456.0,284.7 1456.3,288.7 1456.6,293.0 1456.9,297.7 1457.2,302.7 1457.5,308.0 1457.8,313.5 1458.1,319.3 1458.4,325.4 1458.7,331.7 1459.1,338.2 1459.4,344.8 1459.7,351.6 1460.0,358.5 1460.3,365.6 1460.6,372.7 1460.9,379.9 1461.2,387.1 1461.5,394.3 1461.8,401.5 1462.2,408.6 1462.5,415.7 1462.8,422.7 1463.1,429.6 1463.4,436.4 1463.7,443.0 1464.0,449.4 1464.3,455.6 1464.6,461.5 1464.9,467.3 1465.3,472.7 1465.6,477.9 1465.9,482.8 1466.2,487.4 1466.5,491.6 1466.8,495.5 1467.1,499.0 1467.4,502.1 1467.7,504.9 1468.0,507.3 1468.3,509.3 1468.7,510.8 1469.0,512.0 1469.3,512.7 1469.6,513.0 1469.9,512.9 1470.2,512.4 1470.5,511.5 1470.8,510.1 1471.1,508.4 1471.4,506.3 1471.8,503.7 1472.1,500.8 1472.4,497.5 1472.7,493.8 1473.0,489.8 1473.3,485.5 1473.6,480.8 1473.9,475.8 1474.2,470.5 1474.5,465.0 1474.9,459.2 1475.2,453.2 1475.5,446.9 1475.8,440.5 1476.1,433.9 1476.4,427.2 1476.7,420.3 1477.0,413.4 1477.3,406.4 1477.6,399.3 1478.0,392.2 1478.3,385.1 1478.6,378.0 1478.9,371.0 1479.2,364.0 1479.5,357.2 1479.8,350.5 1480.1,343.9 1480.4,337.4 1480.7,331.2 1481.0,325.2 1481.4,319.4 1481.7,313.8 1482.0,308.5 1482.3,303.5 1482.6,298.8 1482.9,294.5 1483.2,290.4 1483.5,286.8 1483.8,283.4 1484.1,280.5 1484.5,277.9 1484.8,275.7 1485.1,273.9 1485.4,272.5 1485.7,271.5 1486.0,270.9 1486.3,270.7 1486.6,271.0 1486.9,271.6 1487.2,272.7 1487.6,274.2 1487.9,276.0 1488.2,278.3 1488.5,281.0 1488.8,284.0 1489.1,287.5 1489.4,291.2 1489.7,295.4 1490.0,299.8 1490.3,304.6 1490.6,309.7 1491.0,315.0 1491.3,320.7 1491.6,326.5 1491.9,332.6 1492.2,338.9 1492.5,345.4 1492.8,352.1 1493.1,358.9 1493.4,365.8 1493.7,372.8 1494.1,379.8 1494.4,386.9 1494.7,394.0 1495.0,401.2 1495.3,408.2 1495.6,415.3 1495.9,422.2 1496.2,429.1 1496.5,435.8 1496.8,442.4 1497.2,448.8 1497.5,455.0 1497.8,461.0 1498.1,466.8 1498.4,472.3 1498.7,477.6 1499.0,482.5 1499.3,487.2 1499.6,491.5 1499.9,495.4 1500.3,499.1 1500.6,502.3 1500.9,505.2 1501.2,507.7 1501.5,509.8 1501.8,511.5 1502.1,512.8 1502.4,513.7 1502.7,514.2 1503.0,514.3 1503.3,513.9 1503.7,513.2 1504.0,512.0 1504.3,510.5 1504.6,508.5 1504.9,506.1 1505.2,503.3 1505.5,500.2 1505.8,496.7 1506.1,492.8 1506.4,488.6 1506.8,484.0 1507.1,479.2 1507.4,474.0 1507.7,468.6 1508.0,462.9 1508.3,456.9 1508.6,450.8 1508.9,444.4 1509.2,437.9 1509.5,431.2 1509.9,424.3 1510.2,417.4 1510.5,410.4 1510.8,403.3 1511.1,396.1 1511.4,389.0 1511.7,381.9 1512.0,374.8 1512.3,367.7 1512.6,360.8 1512.9,354.0 1513.3,347.2 1513.6,340.7 1513.9,334.3 1514.2,328.1 1514.5,322.2 1514.8,316.5 1515.1,311.0 1515.4,305.9 1515.7,301.0 1516.0,296.4 1516.4,292.2 1516.7,288.3 1517.0,284.8 1517.3,281.7 1517.6,278.9 1517.9,276.5 1518.2,274.5 1518.5,273.0 1518.8,271.8 1519.1,271.1 1519.5,270.8 1519.8,270.9 1520.1,271.5 1520.4,272.4 1520.7,273.8 1521.0,275.6 1521.3,277.8 1521.6,280.4 1521.9,283.4 1522.2,286.8 1522.5,290.5 1522.9,294.6 1523.2,299.0 1523.5,303.8 1523.8,308.8 1524.1,314.2 1524.4,319.8 1524.7,325.7 1525.0,331.9 1525.3,338.2 1525.6,344.7 1526.0,351.4 1526.3,358.3 1526.6,365.3 1526.9,372.3 1527.2,379.5 1527.5,386.7 1527.8,393.9 1528.1,401.2 1528.4,408.4 1528.7,415.6 1529.1,422.7 1529.4,429.7 1529.7,436.6 1530.0,443.3 1530.3,449.9 1530.6,456.3 1530.9,462.5 1531.2,468.4 1531.5,474.1 1531.8,479.6 1532.2,484.7 1532.5,489.5 1532.8,494.0 1533.1,498.2 1533.4,502.0 1533.7,505.5 1534.0,508.6 1534.3,511.3 1534.6,513.6 1534.9,515.5 1535.2,516.9 1535.6,518.0 1535.9,518.6 1536.2,518.9 1536.5,518.6 1536.8,518.0 1537.1,516.9 1537.4,515.5 1537.7,513.6 1538.0,511.3 1538.3,508.6 1538.7,505.5 1539.0,502.1 1539.3,498.3 1539.6,494.1 1539.9,489.6 1540.2,484.8 1540.5,479.7 1540.8,474.3 1541.1,468.6 1541.4,462.7 1541.8,456.5 1542.1,450.1 1542.4,443.6 1542.7,436.9 1543.0,430.0 1543.3,423.1 1543.6,416.0 1543.9,408.9 1544.2,401.7 1544.5,394.5 1544.8,387.4 1545.2,380.2 1545.5,373.1 1545.8,366.1 1546.1,359.2 1546.4,352.4 1546.7,345.8 1547.0,339.3 1547.3,333.0 1547.6,327.0 1547.9,321.2 1548.3,315.6 1548.6,310.4 1548.9,305.4 1549.2,300.7 1549.5,296.4 1549.8,292.4 1550.1,288.8 1550.4,285.5 1550.7,282.6 1551.0,280.1 1551.4,278.0 1551.7,276.4 1552.0,275.1 1552.3,274.2 1552.6,273.8 1552.9,273.7 1553.2,274.0 1553.5,274.7 1553.8,275.9 1554.1,277.5 1554.5,279.5 1554.8,281.8 1555.1,284.6 1555.4,287.8 1555.7,291.3 1556.0,295.2 1556.3,299.5 1556.6,304.1 1556.9,309.0 1557.2,314.2 1557.5,319.7 1557.9,325.5 1558.2,331.5 1558.5,337.8 1558.8,344.3 1559.1,350.9 1559.4,357.7 1559.7,364.6 1560.0,371.7 1560.3,378.8 1560.6,386.0 1561.0,393.3 1561.3,400.6 1561.6,407.8 1561.9,415.0 1562.2,422.2 1562.5,429.3 1562.8,436.2 1563.1,443.1 1563.4,449.8 1563.7,456.3 1564.1,462.6 1564.4,468.7 1564.7,474.5 1565.0,480.1 1565.3,485.4 1565.6,490.3 1565.9,495.0 1566.2,499.3 1566.5,503.3 1566.8,506.9 1567.1,510.2 1567.5,513.0 1567.8,515.5 1568.1,517.5 1568.4,519.2 1568.7,520.4 1569.0,521.1 1569.3,521.5 1569.6,521.4 1569.9,520.9 1570.2,520.0 1570.6,518.6 1570.9,516.8 1571.2,514.5 1571.5,511.8 1571.8,508.7 1572.1,505.3 1572.4,501.4 1572.7,497.2 1573.0,492.6 1573.3,487.7 1573.7,482.5 1574.0,476.9 1574.3,471.1 1574.6,465.1 1574.9,458.8 1575.2,452.3 1575.5,445.5 1575.8,438.6 1576.1,431.6 1576.4,424.4 1576.8,417.2 1577.1,409.8 1577.4,402.4 1577.7,395.0 1578.0,387.5 1578.3,380.1 1578.6,372.8 1578.9,365.5 1579.2,358.3 1579.5,351.2 1579.8,344.3 1580.2,337.5 1580.5,331.0 1580.8,324.6 1581.1,318.5 1581.4,312.7 1581.7,307.1 1582.0,301.8 1582.3,296.9 1582.6,292.2 1582.9,287.9 1583.3,284.0 1583.6,280.4 1583.9,277.3 1584.2,274.5 1584.5,272.1 1584.8,270.2 1585.1,268.7 1585.4,267.5 1585.7,266.9 1586.0,266.6 1586.4,266.8 1586.7,267.4 1587.0,268.5 1587.3,270.0 1587.6,271.9 1587.9,274.3 1588.2,277.0 1588.5,280.1 1588.8,283.7 1589.1,287.5 1589.4,291.8 1589.8,296.4 1590.1,301.3 1590.4,306.5 1590.7,312.0 1591.0,317.8 1591.3,323.8 1591.6,330.1 1591.9,336.5 1592.2,343.2 1592.5,350.0 1592.9,357.0 1593.2,364.0 1593.5,371.2 1593.8,378.4 1594.1,385.7 1594.4,393.0 1594.7,400.3 1595.0,407.5 1595.3,414.7 1595.6,421.8 1596.0,428.8 1596.3,435.7 1596.6,442.4 1596.9,449.0 1597.2,455.3 1597.5,461.4 1597.8,467.3 1598.1,472.9 1598.4,478.2 1598.7,483.2 1599.1,487.9 1599.4,492.3 1599.7,496.3 1600.0,499.9 1600.3,503.2 1600.6,506.1 1600.9,508.6 1601.2,510.7 1601.5,512.3 1601.8,513.6 1602.1,514.4 1602.5,514.8 1602.8,514.8 1603.1,514.3 1603.4,513.4 1603.7,512.1 1604.0,510.3 1604.3,508.2 1604.6,505.6 1604.9,502.6 1605.2,499.3 1605.6,495.6 1605.9,491.5 1606.2,487.1 1606.5,482.3 1606.8,477.2 1607.1,471.9 1607.4,466.2 1607.7,460.3 1608.0,454.1 1608.3,447.8 1608.7,441.2 1609.0,434.4 1609.3,427.5 1609.6,420.5 1609.9,413.4 1610.2,406.1 1610.5,398.9 1610.8,391.6 1611.1,384.3 1611.4,377.0 1611.7,369.7 1612.1,362.5 1612.4,355.4 1612.7,348.4 1613.0,341.6 1613.3,334.9 1613.6,328.4 1613.9,322.1 1614.2,316.1 1614.5,310.3 1614.8,304.7 1615.2,299.5 1615.5,294.5 1615.8,289.9 1616.1,285.6 1616.4,281.7 1616.7,278.1 1617.0,274.9 1617.3,272.1 1617.6,269.7 1617.9,267.7 1618.3,266.1 1618.6,264.9 1618.9,264.1 1619.2,263.8 1619.5,263.9 1619.8,264.3 1620.1,265.2 1620.4,266.5 1620.7,268.2 1621.0,270.3 1621.3,272.8 1621.7,275.7 1622.0,279.0 1622.3,282.6 1622.6,286.6 1622.9,290.9 1623.2,295.6 1623.5,300.6 1623.8,305.8 1624.1,311.3 1624.4,317.1 1624.8,323.1 1625.1,329.4 1625.4,335.8 1625.7,342.4 1626.0,349.1 1626.3,356.0 1626.6,362.9 1626.9,370.0 1627.2,377.1 1627.5,384.2 1627.9,391.3 1628.2,398.4 1628.5,405.4 1628.8,412.4 1629.1,419.2 1629.4,426.0 1629.7,432.6 1630.0,439.0 1630.3,445.3 1630.6,451.3 1631.0,457.1 1631.3,462.7 1631.6,468.0 1631.9,473.0 1632.2,477.7 1632.5,482.0 1632.8,486.1 1633.1,489.7 1633.4,493.1 1633.7,496.0 1634.0,498.5 1634.4,500.7 1634.7,502.4 1635.0,503.8 1635.3,504.7 1635.6,505.2 1635.9,505.3 1636.2,505.0 1636.5,504.3 1636.8,503.2 1637.1,501.7 1637.5,499.8 1637.8,497.5 1638.1,494.7 1638.4,491.6 1638.7,488.2 1639.0,484.3 1639.3,480.1 1639.6,475.6 1639.9,470.7 1640.2,465.6 1640.6,460.1 1640.9,454.4 1641.2,448.4 1641.5,442.2 1641.8,435.8 1642.1,429.2 1642.4,422.4 1642.7,415.5 1643.0,408.5 1643.3,401.4 1643.6,394.2 1644.0,386.9 1644.3,379.7 1644.6,372.4 1644.9,365.2 1645.2,358.0 1645.5,350.9 1645.8,343.9 1646.1,337.0 1646.4,330.3 1646.7,323.8 1647.1,317.4 1647.4,311.2 1647.7,305.3 1648.0,299.7 1648.3,294.3 1648.6,289.2 1648.9,284.5 1649.2,280.0 1649.5,275.9 1649.8,272.2 1650.2,268.8 1650.5,265.8 1650.8,263.2 1651.1,261.0 1651.4,259.2 1651.7,257.8 1652.0,256.9 1652.3,256.4 1652.6,256.2 1652.9,256.6 1653.3,257.4 1653.6,258.6 1653.9,260.3 1654.2,262.4 1654.5,264.8 1654.8,267.7 1655.1,270.9 1655.4,274.6 1655.7,278.5 1656.0,282.9 1656.3,287.5 1656.7,292.5 1657.0,297.8 1657.3,303.3 1657.6,309.2 1657.9,315.2 1658.2,321.5 1658.5,328.0 1658.8,334.7 1659.1,341.5 1659.4,348.4 1659.8,355.5 1660.1,362.6 1660.4,369.8 1660.7,377.0 1661.0,384.3 1661.3,391.5 1661.6,398.6 1661.9,405.8 1662.2,412.8 1662.5,419.7 1662.9,426.5 1663.2,433.1 1663.5,439.5 1663.8,445.7 1664.1,451.7 1664.4,457.5 1664.7,463.0 1665.0,468.2 1665.3,473.0 1665.6,477.6 1665.9,481.9 1666.3,485.7 1666.6,489.3 1666.9,492.4 1667.2,495.2 1667.5,497.6 1667.8,499.5 1668.1,501.1 1668.4,502.2 1668.7,502.9 1669.0,503.2 1669.4,503.2 1669.7,502.7 1670.0,501.8 1670.3,500.5 1670.6,498.8 1670.9,496.6 1671.2,494.1 1671.5,491.2 1671.8,487.9 1672.1,484.2 1672.5,480.1 1672.8,475.8 1673.1,471.1 1673.4,466.0 1673.7,460.7 1674.0,455.1 1674.3,449.3 1674.6,443.2 1674.9,436.9 1675.2,430.4 1675.6,423.7 1675.9,416.9 1676.2,409.9 1676.5,402.9 1676.8,395.8 1677.1,388.6 1677.4,381.4 1677.7,374.1 1678.0,366.9 1678.3,359.8 1678.6,352.7 1679.0,345.7 1679.3,338.8 1679.6,332.1 1679.9,325.6 1680.2,319.2 1680.5,313.0 1680.8,307.1 1681.1,301.4 1681.4,296.0 1681.7,290.9 1682.1,286.0 1682.4,281.6 1682.7,277.4 1683.0,273.6 1683.3,270.2 1683.6,267.1 1683.9,264.5 1684.2,262.2 1684.5,260.4 1684.8,258.9 1685.2,257.9 1685.5,257.3 1685.8,257.1 1686.1,257.4 1686.4,258.2 1686.7,259.4 1687.0,261.0 1687.3,263.0 1687.6,265.4 1687.9,268.2 1688.2,271.4 1688.6,275.0 1688.9,279.0 1689.2,283.3 1689.5,287.9 1689.8,292.9 1690.1,298.1 1690.4,303.7 1690.7,309.5 1691.0,315.6 1691.3,321.9 1691.7,328.4 1692.0,335.1 1692.3,341.9 1692.6,348.9 1692.9,356.0 1693.2,363.2 1693.5,370.5 1693.8,377.8 1694.1,385.1 1694.4,392.4 1694.8,399.7 1695.1,406.9 1695.4,414.0 1695.7,421.0 1696.0,427.9 1696.3,434.7 1696.6,441.3 1696.9,447.6 1697.2,453.8 1697.5,459.7 1697.9,465.3 1698.2,470.7 1698.5,475.8 1698.8,480.5 1699.1,485.0 1699.4,489.0 1699.7,492.7 1700.0,496.1 1700.3,499.1 1700.6,501.6 1700.9,503.8 1701.3,505.6 1701.6,506.9 1701.9,507.8 1702.2,508.3 1702.5,508.4 1702.8,508.1 1703.1,507.4 1703.4,506.3 1703.7,504.7 1704.0,502.7 1704.4,500.4 1704.7,497.6 1705.0,494.5 1705.3,491.0 1705.6,487.1 1705.9,482.9 1706.2,478.3 1706.5,473.4 1706.8,468.3 1707.1,462.8 1707.5,457.1 1707.8,451.1 1708.1,445.0 1708.4,438.6 1708.7,432.1 1709.0,425.3 1709.3,418.5 1709.6,411.6 1709.9,404.5 1710.2,397.4 1710.5,390.3 1710.9,383.2 1711.2,376.1 1711.5,369.0 1711.8,362.0 1712.1,355.0 1712.4,348.2 1712.7,341.6 1713.0,335.0 1713.3,328.7 1713.6,322.6 1714.0,316.6 1714.3,311.0 1714.6,305.6 1714.9,300.5 1715.2,295.7 1715.5,291.2 1715.8,287.0 1716.1,283.2 1716.4,279.7 1716.7,276.7 1717.1,274.0 1717.4,271.7 1717.7,269.8 1718.0,268.3 1718.3,267.2 1718.6,266.6 1718.9,266.3 1719.2,266.5 1719.5,267.1 1719.8,268.0 1720.2,269.4 1720.5,271.3 1720.8,273.5 1721.1,276.1 1721.4,279.1 1721.7,282.5 1722.0,286.3 1722.3,290.4 1722.6,294.9 1722.9,299.7 1723.2,304.8 1723.6,310.2 1723.9,315.9 1724.2,321.8 1724.5,328.0 1724.8,334.4 1725.1,341.0 1725.4,347.7 1725.7,354.6 1726.0,361.7 1726.3,368.8 1726.7,376.0 1727.0,383.3 1727.3,390.6 1727.6,397.9 1727.9,405.2 1728.2,412.4 1728.5,419.6 1728.8,426.7 1729.1,433.6 1729.4,440.5 1729.8,447.1 1730.1,453.6 1730.4,459.8 1730.7,465.8 1731.0,471.6 1731.3,477.1 1731.6,482.3 1731.9,487.2 1732.2,491.8 1732.5,496.0 1732.8,499.9 1733.2,503.5 1733.5,506.6 1733.8,509.3 1734.1,511.7 1734.4,513.6 1734.7,515.2 1735.0,516.3 1735.3,516.9 1735.6,517.2 1735.9,517.0 1736.3,516.3 1736.6,515.3 1736.9,513.8 1737.2,511.9 1737.5,509.5 1737.8,506.8 1738.1,503.7 1738.4,500.2 1738.7,496.4 1739.0,492.2 1739.4,487.6 1739.7,482.8 1740.0,477.6 1740.3,472.2 1740.6,466.4 1740.9,460.5 1741.2,454.3 1741.5,447.9 1741.8,441.3 1742.1,434.5 1742.4,427.6 1742.8,420.6 1743.1,413.5 1743.4,406.3 1743.7,399.1 1744.0,391.9 1744.3,384.7 1744.6,377.5 1744.9,370.4 1745.2,363.3 1745.5,356.4 1745.9,349.6 1746.2,342.9 1746.5,336.4 1746.8,330.2 1747.1,324.1 1747.4,318.3 1747.7,312.7 1748.0,307.4 1748.3,302.4 1748.6,297.8 1749.0,293.4 1749.3,289.5 1749.6,285.8 1749.9,282.6 1750.2,279.7 1750.5,277.2 1750.8,275.1 1751.1,273.5 1751.4,272.2 1751.7,271.4 1752.1,270.9 1752.4,270.9 1752.7,271.4 1753.0,272.2 1753.3,273.5 1753.6,275.2 1753.9,277.3 1754.2,279.7 1754.5,282.6 1754.8,285.8 1755.1,289.4 1755.5,293.3 1755.8,297.6 1756.1,302.3 1756.4,307.2 1756.7,312.5 1757.0,318.0 1757.3,323.8 1757.6,329.9 1757.9,336.1 1758.2,342.6 1758.6,349.2 1758.9,356.0 1759.2,363.0 1759.5,370.0 1759.8,377.2 1760.1,384.4 1760.4,391.6 1760.7,398.9 1761.0,406.1 1761.3,413.3 1761.7,420.4 1762.0,427.5 1762.3,434.4 1762.6,441.2 1762.9,447.9 1763.2,454.3 1763.5,460.6 1763.8,466.6 1764.1,472.4 1764.4,477.9 1764.7,483.2 1765.1,488.1 1765.4,492.8 1765.7,497.0 1766.0,501.0 1766.3,504.5 1766.6,507.7 1766.9,510.6 1767.2,513.0 1767.5,515.0 1767.8,516.6 1768.2,517.8 1768.5,518.5 1768.8,518.9 1769.1,518.8 1769.4,518.3 1769.7,517.4 1770.0,516.0 1770.3,514.2 1770.6,512.1 1770.9,509.5 1771.3,506.5 1771.6,503.2 1771.9,499.4 1772.2,495.3 1772.5,490.9 1772.8,486.1 1773.1,481.1 1773.4,475.7 1773.7,470.0 1774.0,464.1 1774.4,457.9 1774.7,451.6 1775.0,445.0 1775.3,438.3 1775.6,431.4 1775.9,424.3 1776.2,417.2 1776.5,410.0 1776.8,402.7 1777.1,395.4 1777.4,388.2 1777.8,380.9 1778.1,373.6 1778.4,366.5 1778.7,359.4 1779.0,352.5 1779.3,345.7 1779.6,339.0 1779.9,332.6 1780.2,326.4 1780.5,320.4 1780.9,314.6 1781.2,309.1 1781.5,304.0 1781.8,299.1 1782.1,294.5 1782.4,290.3 1782.7,286.5 1783.0,283.0 1783.3,279.9 1783.6,277.2 1784.0,274.9 1784.3,273.0 1784.6,271.6 1784.9,270.5 1785.2,269.9 1785.5,269.7 1785.8,270.0 1786.1,270.7 1786.4,271.8 1786.7,273.3 1787.0,275.2 1787.4,277.6 1787.7,280.4 1788.0,283.5 1788.3,287.0 1788.6,290.9 1788.9,295.2 1789.2,299.8 1789.5,304.8 1789.8,310.0 1790.1,315.5 1790.5,321.4 1790.8,327.4 1791.1,333.7 1791.4,340.2 1791.7,346.9 1792.0,353.8 1792.3,360.8 1792.6,368.0 1792.9,375.2 1793.2,382.5 1793.6,389.8 1793.9,397.2 1794.2,404.5 1794.5,411.9 1794.8,419.2 1795.1,426.3 1795.4,433.4 1795.7,440.4 1796.0,447.2 1796.3,453.8 1796.7,460.3 1797.0,466.5 1797.3,472.5 1797.6,478.2 1797.9,483.6 1798.2,488.7 1798.5,493.5 1798.8,498.0 1799.1,502.1 1799.4,505.9 1799.7,509.3 1800.1,512.3 1800.4,514.9 1800.7,517.0 1801.0,518.8 1801.3,520.2 1801.6,521.1 1801.9,521.6 1802.2,521.7 1802.5,521.3 1802.8,520.6 1803.2,519.4 1803.5,517.8 1803.8,515.7 1804.1,513.3 1804.4,510.4 1804.7,507.2 1805.0,503.5 1805.3,499.5 1805.6,495.2 1805.9,490.5 1806.3,485.5 1806.6,480.1 1806.9,474.5 1807.2,468.6 1807.5,462.5 1807.8,456.1 1808.1,449.5 1808.4,442.8 1808.7,435.8 1809.0,428.8 1809.3,421.6 1809.7,414.3 1810.0,407.0 1810.3,399.6 1810.6,392.2 1810.9,384.8 1811.2,377.5 1811.5,370.2 1811.8,363.0 1812.1,355.9 1812.4,349.0 1812.8,342.2 1813.1,335.6 1813.4,329.2 1813.7,323.0 1814.0,317.1 1814.3,311.5 1814.6,306.1 1814.9,301.1 1815.2,296.3 1815.5,292.0 1815.9,287.9 1816.2,284.3 1816.5,281.0 1816.8,278.2 1817.1,275.7 1817.4,273.7 1817.7,272.1 1818.0,271.0 1818.3,270.3 1818.6,270.0 1819.0,270.2 1819.3,270.8 1819.6,271.8 1819.9,273.3 1820.2,275.2 1820.5,277.5 1820.8,280.3 1821.1,283.4 1821.4,286.9 1821.7,290.8 1822.0,295.1 1822.4,299.7 1822.7,304.7 1823.0,310.0 1823.3,315.6 1823.6,321.4 1823.9,327.6 1824.2,334.0 1824.5,340.5 1824.8,347.3 1825.1,354.3 1825.5,361.4 1825.8,368.7 1826.1,376.0 1826.4,383.5 1826.7,391.0 1827.0,398.5 1827.3,406.0 1827.6,413.5 1827.9,420.9 1828.2,428.3 1828.6,435.5 1828.9,442.7 1829.2,449.7 1829.5,456.5 1829.8,463.1 1830.1,469.5 1830.4,475.7 1830.7,481.6 1831.0,487.3 1831.3,492.6 1831.6,497.6 1832.0,502.3 1832.3,506.6 1832.6,510.6 1832.9,514.2 1833.2,517.3 1833.5,520.1 1833.8,522.5 1834.1,524.5 1834.4,526.0 1834.7,527.1 1835.1,527.8 1835.4,528.0 1835.7,527.7 1836.0,526.9 1836.3,525.8 1836.6,524.1 1836.9,522.1 1837.2,519.7 1837.5,516.8 1837.8,513.6 1838.2,510.0 1838.5,506.0 1838.8,501.6 1839.1,496.9 1839.4,491.9 1839.7,486.6 1840.0,480.9 1840.3,475.1 1840.6,468.9 1840.9,462.6 1841.2,456.0 1841.6,449.2 1841.9,442.3 1842.2,435.3 1842.5,428.1 1842.8,420.9 1843.1,413.6 1843.4,406.3 1843.7,398.9 1844.0,391.6 1844.3,384.3 1844.7,377.0 1845.0,369.9 1845.3,362.8 1845.6,355.9 1845.9,349.2 1846.2,342.6 1846.5,336.3 1846.8,330.2 1847.1,324.3 1847.4,318.7 1847.8,313.4 1848.1,308.4 1848.4,303.7 1848.7,299.3 1849.0,295.3 1849.3,291.7 1849.6,288.4 1849.9,285.4 1850.2,282.8 1850.5,280.6 1850.9,278.9 1851.2,277.5 1851.5,276.6 1851.8,276.1 1852.1,276.1 1852.4,276.4 1852.7,277.2 1853.0,278.4 1853.3,280.0 1853.6,282.0 1853.9,284.5 1854.3,287.3 1854.6,290.5 1854.9,294.1 1855.2,298.1 1855.5,302.4 1855.8,307.0 1856.1,311.9 1856.4,317.2 1856.7,322.7 1857.0,328.5 1857.4,334.5 1857.7,340.8 1858.0,347.3 1858.3,353.9 1858.6,360.7 1858.9,367.6 1859.2,374.6 1859.5,381.7 1859.8,388.9 1860.1,396.1 1860.5,403.3 1860.8,410.5 1861.1,417.7 1861.4,424.7 1861.7,431.7 1862.0,438.6 1862.3,445.4 1862.6,451.9 1862.9,458.3 1863.2,464.5 1863.5,470.5 1863.9,476.2 1864.2,481.7 1864.5,486.8 1864.8,491.7 1865.1,496.3 1865.4,500.5 1865.7,504.3 1866.0,507.8 1866.3,510.9 1866.6,513.6 1867.0,516.0 1867.3,517.9 1867.6,519.4 1867.9,520.6 1868.2,521.3 1868.5,521.6 1868.8,521.5 1869.1,520.9 1869.4,520.0 1869.7,518.6 1870.1,516.8 1870.4,514.6 1870.7,512.0 1871.0,509.0 1871.3,505.6 1871.6,501.8 1871.9,497.7 1872.2,493.3 1872.5,488.5 1872.8,483.4 1873.2,478.0 1873.5,472.3 1873.8,466.4 1874.1,460.3 1874.4,453.9 1874.7,447.3 1875.0,440.6 1875.3,433.7 1875.6,426.6 1875.9,419.5 1876.2,412.3 1876.6,405.1 1876.9,397.8 1877.2,390.5 1877.5,383.3 1877.8,376.0 1878.1,368.9 1878.4,361.9 1878.7,354.9 1879.0,348.1 1879.3,341.5 1879.7,335.1 1880.0,328.9 1880.3,322.9 1880.6,317.1 1880.9,311.7 1881.2,306.5 1881.5,301.7 1881.8,297.1 1882.1,292.9 1882.4,289.1 1882.8,285.6 1883.1,282.5 1883.4,279.8 1883.7,277.5 1884.0,275.6 1884.3,274.1 1884.6,273.1 1884.9,272.5 1885.2,272.3 1885.5,272.6 1885.8,273.3 1886.2,274.3 1886.5,275.9 1886.8,277.8 1887.1,280.1 1887.4,282.9 1887.7,286.0 1888.0,289.5 1888.3,293.4 1888.6,297.6 1888.9,302.1 1889.3,307.0 1889.6,312.2 1889.9,317.7 1890.2,323.4 1890.5,329.4 1890.8,335.7 1891.1,342.1 1891.4,348.7 1891.7,355.5 1892.0,362.4 1892.4,369.5 1892.7,376.6 1893.0,383.8 1893.3,391.0 1893.6,398.3 1893.9,405.5 1894.2,412.7 1894.5,419.9 1894.8,427.0 1895.1,434.0 1895.5,440.8 1895.8,447.5 1896.1,454.0 1896.4,460.3 1896.7,466.4 1897.0,472.3 1897.3,477.9 1897.6,483.2 1897.9,488.2 1898.2,492.9 1898.5,497.3 1898.9,501.3 1899.2,505.0 1899.5,508.3 1899.8,511.2 1900.1,513.7 1900.4,515.8 1900.7,517.5 1901.0,518.8 1901.3,519.7 1901.6,520.2 1902.0,520.3 1902.3,520.0 1902.6,519.2 1902.9,518.0 1903.2,516.4 1903.5,514.3 1903.8,511.9 1904.1,509.1 1904.4,505.9 1904.7,502.3 1905.1,498.3 1905.4,494.0 1905.7,489.4 1906.0,484.4 1906.3,479.2 1906.6,473.6 1906.9,467.8 1907.2,461.8 1907.5,455.5 1907.8,449.0 1908.1,442.3 1908.5,435.5 1908.8,428.5 1909.1,421.5 1909.4,414.3 1909.7,407.1 1910.0,399.8 1910.3,392.6 1910.6,385.3 1910.9,378.1 1911.2,370.9 1911.6,363.9 1911.9,356.9 1912.2,350.1 1912.5,343.4 1912.8,336.9 1913.1,330.7 1913.4,324.6 1913.7,318.8 1914.0,313.3 1914.3,308.0 1914.7,303.0 1915.0,298.4 1915.3,294.1 1915.6,290.2 1915.9,286.6 1916.2,283.4 1916.5,280.6 1916.8,278.2 1917.1,276.2 1917.4,274.6 1917.8,273.4 1918.1,272.6 1918.4,272.3 1918.7,272.4 1919.0,272.9 1919.3,273.9 1919.6,275.3 1919.9,277.1 1920.2,279.3 1920.5,281.9 1920.8,284.9 1921.2,288.3 1921.5,292.1 1921.8,296.3 1922.1,300.7 1922.4,305.6 1922.7,310.7 1923.0,316.1 1923.3,321.9 1923.6,327.8 1923.9,334.1 1924.3,340.5 1924.6,347.1 1924.9,354.0 1925.2,360.9 1925.5,368.0 1925.8,375.2 1926.1,382.5 1926.4,389.8 1926.7,397.2 1927.0,404.6 1927.4,411.9 1927.7,419.2 1928.0,426.5 1928.3,433.6 1928.6,440.6 1928.9,447.5 1929.2,454.2 1929.5,460.7 1929.8,467.0 1930.1,473.1 1930.4,478.9 1930.8,484.4 1931.1,489.7 1931.4,494.6 1931.7,499.2 1932.0,503.5 1932.3,507.3 1932.6,510.9 1932.9,514.0 1933.2,516.8 1933.5,519.1 1933.9,521.0 1934.2,522.5 1934.5,523.5 1934.8,524.2 1935.1,524.4 1935.4,524.1 1935.7,523.5 1936.0,522.4 1936.3,520.9 1936.6,518.9 1937.0,516.6 1937.3,513.8 1937.6,510.7 1937.9,507.1 1938.2,503.2 1938.5,498.9 1938.8,494.3 1939.1,489.4 1939.4,484.1 1939.7,478.5 1940.1,472.7 1940.4,466.6 1940.7,460.3 1941.0,453.8 1941.3,447.0 1941.6,440.1 1941.9,433.1 1942.2,425.9 1942.5,418.7 1942.8,411.3 1943.1,403.9 1943.5,396.5 1943.8,389.1 1944.1,381.8 1944.4,374.5 1944.7,367.2 1945.0,360.1 1945.3,353.1 1945.6,346.3 1945.9,339.6 1946.2,333.2 1946.6,326.9 1946.9,320.9 1947.2,315.2 1947.5,309.8 1947.8,304.6 1948.1,299.8 1948.4,295.3 1948.7,291.2 1949.0,287.4 1949.3,284.0 1949.7,281.0 1950.0,278.4 1950.3,276.3 1950.6,274.5 1950.9,273.2 1951.2,272.3 1951.5,271.9 1951.8,271.9 1952.1,272.3 1952.4,273.1 1952.7,274.4 1953.1,276.1 1953.4,278.3 1953.7,280.8 1954.0,283.8 1954.3,287.1 1954.6,290.8 1954.9,294.9 1955.2,299.4 1955.5,304.2 1955.8,309.3 1956.2,314.7 1956.5,320.4 1956.8,326.4 1957.1,332.6 1957.4,339.1 1957.7,345.8 1958.0,352.6 1958.3,359.6 1958.6,366.8 1958.9,374.0 1959.3,381.4 1959.6,388.8 1959.9,396.2 1960.2,403.7 1960.5,411.1 1960.8,418.5 1961.1,425.9 1961.4,433.1 1961.7,440.2 1962.0,447.2 1962.3,454.1 1962.7,460.7 1963.0,467.1 1963.3,473.3 1963.6,479.3 1963.9,484.9 1964.2,490.3 1964.5,495.4 1964.8,500.1 1965.1,504.5 1965.4,508.6 1965.8,512.2 1966.1,515.5 1966.4,518.4 1966.7,520.9 1967.0,522.9 1967.3,524.5 1967.6,525.6 1967.9,526.3 1968.2,526.6 1968.5,526.4 1968.9,525.8 1969.2,524.7 1969.5,523.3 1969.8,521.4 1970.1,519.1 1970.4,516.4 1970.7,513.3 1971.0,509.8 1971.3,505.9 1971.6,501.7 1972.0,497.1 1972.3,492.2 1972.6,487.0 1972.9,481.4 1973.2,475.6 1973.5,469.6 1973.8,463.3 1974.1,456.8 1974.4,450.1 1974.7,443.2 1975.0,436.2 1975.4,429.0 1975.7,421.8 1976.0,414.5 1976.3,407.1 1976.6,399.7 1976.9,392.3 1977.2,385.0 1977.5,377.7 1977.8,370.5 1978.1,363.3 1978.5,356.3 1978.8,349.5 1979.1,342.8 1979.4,336.4 1979.7,330.1 1980.0,324.1 1980.3,318.3 1980.6,312.9 1980.9,307.7 1981.2,302.8 1981.6,298.3 1981.9,294.1 1982.2,290.3 1982.5,286.8 1982.8,283.8 1983.1,281.1 1983.4,278.8 1983.7,277.0 1984.0,275.5 1984.3,274.5 1984.6,273.9 1985.0,273.7 1985.3,274.0 1985.6,274.7 1985.9,275.8 1986.2,277.3 1986.5,279.2 1986.8,281.6 1987.1,284.3 1987.4,287.4 1987.7,290.9 1988.1,294.8 1988.4,299.1 1988.7,303.6 1989.0,308.5 1989.3,313.7 1989.6,319.2 1989.9,324.9 1990.2,330.9 1990.5,337.2 1990.8,343.6 1991.2,350.2 1991.5,357.0 1991.8,363.9 1992.1,370.9 1992.4,378.0 1992.7,385.2 1993.0,392.4 1993.3,399.6 1993.6,406.9 1993.9,414.0 1994.3,421.2 1994.6,428.2 1994.9,435.2 1995.2,442.0 1995.5,448.6 1995.8,455.1 1996.1,461.4 1996.4,467.4 1996.7,473.2 1997.0,478.8 1997.3,484.0 1997.7,489.0 1998.0,493.6 1998.3,497.9 1998.6,501.9 1998.9,505.5 1999.2,508.8 1999.5,511.6 1999.8,514.1 2000.1,516.1 2000.4,517.8 2000.8,519.0 2001.1,519.8 2001.4,520.2 2001.7,520.2 2002.0,519.8 2002.3,519.1 2002.6,517.9 2002.9,516.2 2003.2,514.2 2003.5,511.8 2003.9,509.0 2004.2,505.8 2004.5,502.2 2004.8,498.3 2005.1,494.0 2005.4,489.4 2005.7,484.4 2006.0,479.2 2006.3,473.7 2006.6,467.9 2006.9,461.9 2007.3,455.6 2007.6,449.2 2007.9,442.6 2008.2,435.8 2008.5,428.9 2008.8,421.8 2009.1,414.7 2009.4,407.5 2009.7,400.3 2010.0,393.1 2010.4,385.9 2010.7,378.7 2011.0,371.6 2011.3,364.6 2011.6,357.7 2011.9,350.9 2012.2,344.3 2012.5,337.9 2012.8,331.6 2013.1,325.6 2013.5,319.8 2013.8,314.3 2014.1,309.1 2014.4,304.2 2014.7,299.6 2015.0,295.3 2015.3,291.4 2015.6,287.9 2015.9,284.7 2016.2,281.9 2016.6,279.5 2016.9,277.5 2017.2,276.0 2017.5,274.7 2017.8,273.9 2018.1,273.6 2018.4,273.6 2018.7,274.1 2019.0,275.0 2019.3,276.3 2019.6,278.0 2020.0,280.2 2020.3,282.7 2020.6,285.7 2020.9,289.0 2021.2,292.7 2021.5,296.8 2021.8,301.2 2022.1,306.0 2022.4,311.0 2022.7,316.4 2023.1,322.0 2023.4,328.0 2023.7,334.1 2024.0,340.5 2024.3,347.1 2024.6,353.8 2024.9,360.7 2025.2,367.8 2025.5,374.9 2025.8,382.1 2026.2,389.4 2026.5,396.7 2026.8,404.1 2027.1,411.4 2027.4,418.6 2027.7,425.8 2028.0,432.9 2028.3,439.9 2028.6,446.8 2028.9,453.4 2029.2,459.9 2029.6,466.2 2029.9,472.3 2030.2,478.1 2030.5,483.6 2030.8,488.8 2031.1,493.7 2031.4,498.3 2031.7,502.6 2032.0,506.5 2032.3,510.0 2032.7,513.1 2033.0,515.8 2033.3,518.2 2033.6,520.1 2033.9,521.6 2034.2,522.6 2034.5,523.2 2034.8,523.4 2035.1,523.1 2035.4,522.4 2035.8,521.3 2036.1,519.7 2036.4,517.7 2036.7,515.3 2037.0,512.5 2037.3,509.3 2037.6,505.7 2037.9,501.7 2038.2,497.4 2038.5,492.7 2038.9,487.7 2039.2,482.4 2039.5,476.8 2039.8,470.9 2040.1,464.7 2040.4,458.3 2040.7,451.7 2041.0,444.9 2041.3,437.9 2041.6,430.8 2041.9,423.6 2042.3,416.2 2042.6,408.8 2042.9,401.3 2043.2,393.9 2043.5,386.4 2043.8,378.9 2044.1,371.5 2044.4,364.2 2044.7,357.0 2045.0,349.9 2045.4,343.0 2045.7,336.3 2046.0,329.7 2046.3,323.4 2046.6,317.3 2046.9,311.5 2047.2,306.0 2047.5,300.8 2047.8,295.9 2048.1,291.3 2048.5,287.1 2048.8,283.2 2049.1,279.8 2049.4,276.7 2049.7,274.1 2050.0,271.8" fill="none" stroke="#000" stroke-width="10" stroke-linejoin="round" stroke-linecap="round"/>
<path d="M192.0,273.4 192.3,273.3 192.6,273.3 192.9,273.3 193.2,273.2 193.5,273.2 193.9,273.2 194.2,273.2 194.5,273.1 194.8,273.1 195.1,273.1 195.4,273.1 195.7,273.1 196.0,273.1 196.3,273.1 196.6,273.1 197.0,273.1 197.3,273.1 197.6,273.1 197.9,273.1 198.2,273.1 198.5,273.1 198.8,273.1 199.1,273.1 199.4,273.1 199.7,273.2 200.1,273.2 200.4,273.2 200.7,273.3 201.0,273.3 201.3,273.3 201.6,273.4 201.9,273.4 202.2,273.4 202.5,273.5 202.8,273.5 203.1,273.6 203.5,273.6 203.8,273.6 204.1,273.7 204.4,273.7 204.7,273.8 205.0,273.8 205.3,273.9 205.6,273.9 205.9,273.9 206.2,274.0 206.6,274.0 206.9,274.1 207.2,274.1 207.5,274.1 207.8,274.2 208.1,274.2 208.4,274.2 208.7,274.3 209.0,274.3 209.3,274.3 209.7,274.3 210.0,274.4 210.3,274.4 210.6,274.4 210.9,274.4 211.2,274.4 211.5,274.4 211.8,274.4 212.1,274.4 212.4,274.4 212.8,274.4 213.1,274.4 213.4,274.4 213.7,274.3 214.0,274.3 214.3,274.3 214.6,274.3 214.9,274.3 215.2,274.2 215.5,274.2 215.8,274.2 216.2,274.1 216.5,274.1 216.8,274.1 217.1,274.0 217.4,274.0 217.7,273.9 218.0,273.9 218.3,273.8 218.6,273.8 218.9,273.8 219.3,273.7 219.6,273.7 219.9,273.6 220.2,273.6 220.5,273.5 220.8,273.5 221.1,273.5 221.4,273.4 221.7,273.4 222.0,273.3 222.4,273.3 222.7,273.3 223.0,273.2 223.3,273.2 223.6,273.2 223.9,273.2 224.2,273.1 224.5,273.1 224.8,273.1 225.1,273.1 225.4,273.1 225.8,273.1 226.1,273.0 226.4,273.0 226.7,273.0 227.0,273.0 227.3,273.1 227.6,273.1 227.9,273.1 228.2,273.1 228.5,273.1 228.9,273.1 229.2,273.1 229.5,273.2 229.8,273.2 230.1,273.2 230.4,273.3 230.7,273.3 231.0,273.3 231.3,273.4 231.6,273.4 232.0,273.4 232.3,273.5 232.6,273.5 232.9,273.6 233.2,273.6 233.5,273.7 233.8,273.7 234.1,273.7 234.4,273.8 234.7,273.8 235.1,273.9 235.4,273.9 235.7,274.0 236.0,274.0 236.3,274.0 236.6,274.1 236.9,274.1 237.2,274.2 237.5,274.2 237.8,274.2 238.1,274.3 238.5,274.3 238.8,274.3 239.1,274.3 239.4,274.3 239.7,274.4 240.0,274.4 240.3,274.4 240.6,274.4 240.9,274.4 241.2,274.4 241.6,274.4 241.9,274.4 242.2,274.4 242.5,274.4 242.8,274.4 243.1,274.4 243.4,274.4 243.7,274.3 244.0,274.3 244.3,274.3 244.7,274.3 245.0,274.2 245.3,274.2 245.6,274.2 245.9,274.1 246.2,274.1 246.5,274.1 246.8,274.0 247.1,274.0 247.4,273.9 247.7,273.9 248.1,273.8 248.4,273.8 248.7,273.7 249.0,273.7 249.3,273.7 249.6,273.6 249.9,273.6 250.2,273.5 250.5,273.5 250.8,273.4 251.2,273.4 251.5,273.4 251.8,273.3 252.1,273.3 252.4,273.3 252.7,273.2 253.0,273.2 253.3,273.2 253.6,273.1 253.9,273.1 254.3,273.1 254.6,273.1 254.9,273.1 255.2,273.0 255.5,273.0 255.8,273.0 256.1,273.0 256.4,273.0 256.7,273.0 257.0,273.0 257.4,273.0 257.7,273.1 258.0,273.1 258.3,273.1 258.6,273.1 258.9,273.1 259.2,273.2 259.5,273.2 259.8,273.2 260.1,273.2 260.4,273.3 260.8,273.3 261.1,273.4 261.4,273.4 261.7,273.4 262.0,273.5 262.3,273.5 262.6,273.6 262.9,273.6 263.2,273.7 263.5,273.7 263.9,273.7 264.2,273.8 264.5,273.8 264.8,273.9 265.1,273.9 265.4,274.0 265.7,274.0 266.0,274.1 266.3,274.1 266.6,274.1 267.0,274.2 267.3,274.2 267.6,274.2 267.9,274.3 268.2,274.3 268.5,274.3 268.8,274.3 269.1,274.4 269.4,274.4 269.7,274.4 270.0,274.4 270.4,274.4 270.7,274.4 271.0,274.4 271.3,274.4 271.6,274.4 271.9,274.4 272.2,274.4 272.5,274.4 272.8,274.4 273.1,274.4 273.5,274.3 273.8,274.3 274.1,274.3 274.4,274.3 274.7,274.2 275.0,274.2 275.3,274.2 275.6,274.1 275.9,274.1 276.2,274.1 276.6,274.0 276.9,274.0 277.2,273.9 277.5,273.9 277.8,273.8 278.1,273.8 278.4,273.7 278.7,273.7 279.0,273.7 279.3,273.6 279.7,273.6 280.0,273.5 280.3,273.5 280.6,273.4 280.9,273.4 281.2,273.3 281.5,273.3 281.8,273.3 282.1,273.2 282.4,273.2 282.7,273.2 283.1,273.1 283.4,273.1 283.7,273.1 284.0,273.1 284.3,273.1 284.6,273.0 284.9,273.0 285.2,273.0 285.5,273.0 285.8,273.0 286.2,273.0 286.5,273.0 286.8,273.0 287.1,273.0 287.4,273.0 287.7,273.1 288.0,273.1 288.3,273.1 288.6,273.1 288.9,273.2 289.3,273.2 289.6,273.2 289.9,273.2 290.2,273.3 290.5,273.3 290.8,273.4 291.1,273.4 291.4,273.4 291.7,273.5 292.0,273.5 292.3,273.6 292.7,273.6 293.0,273.7 293.3,273.7 293.6,273.8 293.9,273.8 294.2,273.8 294.5,273.9 294.8,273.9 295.1,274.0 295.4,274.0 295.8,274.1 296.1,274.1 296.4,274.1 296.7,274.2 297.0,274.2 297.3,274.3 297.6,274.3 297.9,274.3 298.2,274.3 298.5,274.4 298.9,274.4 299.2,274.4 299.5,274.4 299.8,274.4 300.1,274.4 300.4,274.4 300.7,274.4 301.0,274.4 301.3,274.4 301.6,274.4 301.9,274.4 302.3,274.4 302.6,274.4 302.9,274.4 303.2,274.4 303.5,274.3 303.8,274.3 304.1,274.3 304.4,274.2 304.7,274.2 305.0,274.2 305.4,274.1 305.7,274.1 306.0,274.1 306.3,274.0 306.6,274.0 306.9,273.9 307.2,273.9 307.5,273.8 307.8,273.8 308.1,273.7 308.5,273.7 308.8,273.6 309.1,273.6 309.4,273.5 309.7,273.5 310.0,273.5 310.3,273.4 310.6,273.4 310.9,273.3 311.2,273.3 311.6,273.3 311.9,273.2 312.2,273.2 312.5,273.2 312.8,273.1 313.1,273.1 313.4,273.1 313.7,273.1 314.0,273.0 314.3,273.0 314.6,273.0 315.0,273.0 315.3,273.0 315.6,273.0 315.9,273.0 316.2,273.0 316.5,273.0 316.8,273.0 317.1,273.0 317.4,273.1 317.7,273.1 318.1,273.1 318.4,273.1 318.7,273.1 319.0,273.2 319.3,273.2 319.6,273.2 319.9,273.3 320.2,273.3 320.5,273.4 320.8,273.4 321.2,273.4 321.5,273.5 321.8,273.5 322.1,273.6 322.4,273.6 322.7,273.7 323.0,273.7 323.3,273.8 323.6,273.8 323.9,273.9 324.2,273.9 324.6,274.0 324.9,274.0 325.2,274.0 325.5,274.1 325.8,274.1 326.1,274.2 326.4,274.2 326.7,274.2 327.0,274.3 327.3,274.3 327.7,274.3 328.0,274.4 328.3,274.4 328.6,274.4 328.9,274.4 329.2,274.4 329.5,274.4 329.8,274.4 330.1,274.5 330.4,274.5 330.8,274.5 331.1,274.4 331.4,274.4 331.7,274.4 332.0,274.4 332.3,274.4 332.6,274.4 332.9,274.4 333.2,274.3 333.5,274.3 333.9,274.3 334.2,274.2 334.5,274.2 334.8,274.2 335.1,274.1 335.4,274.1 335.7,274.1 336.0,274.0 336.3,274.0 336.6,273.9 336.9,273.9 337.3,273.8 337.6,273.8 337.9,273.7 338.2,273.7 338.5,273.6 338.8,273.6 339.1,273.5 339.4,273.5 339.7,273.4 340.0,273.4 340.4,273.4 340.7,273.3 341.0,273.3 341.3,273.2 341.6,273.2 341.9,273.2 342.2,273.1 342.5,273.1 342.8,273.1 343.1,273.1 343.5,273.0 343.8,273.0 344.1,273.0 344.4,273.0 344.7,273.0 345.0,273.0 345.3,273.0 345.6,273.0 345.9,273.0 346.2,273.0 346.5,273.0 346.9,273.0 347.2,273.0 347.5,273.1 347.8,273.1 348.1,273.1 348.4,273.1 348.7,273.2 349.0,273.2 349.3,273.2 349.6,273.3 350.0,273.3 350.3,273.4 350.6,273.4 350.9,273.4 351.2,273.5 351.5,273.5 351.8,273.6 352.1,273.6 352.4,273.7 352.7,273.7 353.1,273.8 353.4,273.8 353.7,273.9 354.0,273.9 354.3,274.0 354.6,274.0 354.9,274.1 355.2,274.1 355.5,274.1 355.8,274.2 356.2,274.2 356.5,274.2 356.8,274.3 357.1,274.3 357.4,274.3 357.7,274.4 358.0,274.4 358.3,274.4 358.6,274.4 358.9,274.4 359.2,274.5 359.6,274.5 359.9,274.5 360.2,274.5 360.5,274.5 360.8,274.5 361.1,274.5 361.4,274.4 361.7,274.4 362.0,274.4 362.3,274.4 362.7,274.4 363.0,274.3 363.3,274.3 363.6,274.3 363.9,274.2 364.2,274.2 364.5,274.2 364.8,274.1 365.1,274.1 365.4,274.0 365.8,274.0 366.1,274.0 366.4,273.9 366.7,273.9 367.0,273.8 367.3,273.8 367.6,273.7 367.9,273.7 368.2,273.6 368.5,273.6 368.8,273.5 369.2,273.5 369.5,273.4 369.8,273.4 370.1,273.3 370.4,273.3 370.7,273.3 371.0,273.2 371.3,273.2 371.6,273.2 371.9,273.1 372.3,273.1 372.6,273.1 372.9,273.1 373.2,273.0 373.5,273.0 373.8,273.0 374.1,273.0 374.4,273.0 374.7,273.0 375.0,273.0 375.4,273.0 375.7,273.0 376.0,273.0 376.3,273.0 376.6,273.0 376.9,273.0 377.2,273.1 377.5,273.1 377.8,273.1 378.1,273.1 378.5,273.2 378.8,273.2 379.1,273.2 379.4,273.3 379.7,273.3 380.0,273.4 380.3,273.4 380.6,273.4 380.9,273.5 381.2,273.5 381.5,273.6 381.9,273.6 382.2,273.7 382.5,273.7 382.8,273.8 383.1,273.8 383.4,273.9 383.7,273.9 384.0,274.0 384.3,274.0 384.6,274.1 385.0,274.1 385.3,274.2 385.6,274.2 385.9,274.2 386.2,274.3 386.5,274.3 386.8,274.3 387.1,274.4 387.4,274.4 387.7,274.4 388.1,274.4 388.4,274.4 388.7,274.5 389.0,274.5 389.3,274.5 389.6,274.5 389.9,274.5 390.2,274.5 390.5,274.5 390.8,274.5 391.1,274.4 391.5,274.4 391.8,274.4 392.1,274.4 392.4,274.4 392.7,274.3 393.0,274.3 393.3,274.3 393.6,274.2 393.9,274.2 394.2,274.2 394.6,274.1 394.9,274.1 395.2,274.0 395.5,274.0 395.8,274.0 396.1,273.9 396.4,273.9 396.7,273.8 397.0,273.8 397.3,273.7 397.7,273.7 398.0,273.6 398.3,273.6 398.6,273.5 398.9,273.5 399.2,273.4 399.5,273.4 399.8,273.3 400.1,273.3 400.4,273.3 400.8,273.2 401.1,273.2 401.4,273.1 401.7,273.1 402.0,273.1 402.3,273.1 402.6,273.0 402.9,273.0 403.2,273.0 403.5,273.0 403.8,273.0 404.2,273.0 404.5,273.0 404.8,273.0 405.1,273.0 405.4,273.0 405.7,273.0 406.0,273.0 406.3,273.0 406.6,273.0 406.9,273.0 407.3,273.1 407.6,273.1 407.9,273.1 408.2,273.2 408.5,273.2 408.8,273.2 409.1,273.3 409.4,273.3 409.7,273.4 410.0,273.4 410.4,273.4 410.7,273.5 411.0,273.5 411.3,273.6 411.6,273.6 411.9,273.7 412.2,273.7 412.5,273.8 412.8,273.8 413.1,273.9 413.4,273.9 413.8,274.0 414.1,274.0 414.4,274.1 414.7,274.1 415.0,274.2 415.3,274.2 415.6,274.2 415.9,274.3 416.2,274.3 416.5,274.3 416.9,274.4 417.2,274.4 417.5,274.4 417.8,274.4 418.1,274.5 418.4,274.5 418.7,274.5 419.0,274.5 419.3,274.5 419.6,274.5 420.0,274.5 420.3,274.5 420.6,274.5 420.9,274.5 421.2,274.4 421.5,274.4 421.8,274.4 422.1,274.4 422.4,274.4 422.7,274.3 423.0,274.3 423.4,274.3 423.7,274.2 424.0,274.2 424.3,274.1 424.6,274.1 424.9,274.0 425.2,274.0 425.5,274.0 425.8,273.9 426.1,273.9 426.5,273.8 426.8,273.8 427.1,273.7 427.4,273.7 427.7,273.6 428.0,273.6 428.3,273.5 428.6,273.5 428.9,273.4 429.2,273.4 429.6,273.3 429.9,273.3 430.2,273.2 430.5,273.2 430.8,273.2 431.1,273.1 431.4,273.1 431.7,273.1 432.0,273.0 432.3,273.0 432.7,273.0 433.0,273.0 433.3,273.0 433.6,273.0 433.9,273.0 434.2,273.0 434.5,273.0 434.8,273.0 435.1,273.0 435.4,273.0 435.7,273.0 436.1,273.0 436.4,273.0 436.7,273.0 437.0,273.1 437.3,273.1 437.6,273.1 437.9,273.2 438.2,273.2 438.5,273.2 438.8,273.3 439.2,273.3 439.5,273.4 439.8,273.4 440.1,273.5 440.4,273.5 440.7,273.5 441.0,273.6 441.3,273.6 441.6,273.7 441.9,273.8 442.3,273.8 442.6,273.9 442.9,273.9 443.2,274.0 443.5,274.0 443.8,274.0 444.1,274.1 444.4,274.1 444.7,274.2 445.0,274.2 445.3,274.3 445.7,274.3 446.0,274.3 446.3,274.4 446.6,274.4 446.9,274.4 447.2,274.4 447.5,274.5 447.8,274.5 448.1,274.5 448.4,274.5 448.8,274.5 449.1,274.5 449.4,274.5 449.7,274.5 450.0,274.5 450.3,274.5 450.6,274.5 450.9,274.5 451.2,274.4 451.5,274.4 451.9,274.4 452.2,274.4 452.5,274.3 452.8,274.3 453.1,274.3 453.4,274.2 453.7,274.2 454.0,274.1 454.3,274.1 454.6,274.0 455.0,274.0 455.3,273.9 455.6,273.9 455.9,273.8 456.2,273.8 456.5,273.7 456.8,273.7 457.1,273.6 457.4,273.6 457.7,273.5 458.0,273.5 458.4,273.4 458.7,273.4 459.0,273.3 459.3,273.3 459.6,273.3 459.9,273.2 460.2,273.2 460.5,273.1 460.8,273.1 461.1,273.1 461.5,273.1 461.8,273.0 462.1,273.0 462.4,273.0 462.7,273.0 463.0,273.0 463.3,272.9 463.6,272.9 463.9,272.9 464.2,272.9 464.6,272.9 464.9,273.0 465.2,273.0 465.5,273.0 465.8,273.0 466.1,273.0 466.4,273.0 466.7,273.1 467.0,273.1 467.3,273.1 467.6,273.2 468.0,273.2 468.3,273.2 468.6,273.3 468.9,273.3 469.2,273.4 469.5,273.4 469.8,273.5 470.1,273.5 470.4,273.6 470.7,273.6 471.1,273.7 471.4,273.7 471.7,273.8 472.0,273.8 472.3,273.9 472.6,273.9 472.9,274.0 473.2,274.0 473.5,274.1 473.8,274.1 474.2,274.2 474.5,274.2 474.8,274.2 475.1,274.3 475.4,274.3 475.7,274.3 476.0,274.4 476.3,274.4 476.6,274.4 476.9,274.5 477.3,274.5 477.6,274.5 477.9,274.5 478.2,274.5 478.5,274.5 478.8,274.5 479.1,274.5 479.4,274.5 479.7,274.5 480.0,274.5 480.3,274.5 480.7,274.5 481.0,274.4 481.3,274.4 481.6,274.4 481.9,274.4 482.2,274.3 482.5,274.3 482.8,274.3 483.1,274.2 483.4,274.2 483.8,274.1 484.1,274.1 484.4,274.0 484.7,274.0 485.0,273.9 485.3,273.9 485.6,273.8 485.9,273.8 486.2,273.7 486.5,273.7 486.9,273.6 487.2,273.6 487.5,273.5 487.8,273.5 488.1,273.4 488.4,273.4 488.7,273.3 489.0,273.3 489.3,273.2 489.6,273.2 489.9,273.2 490.3,273.1 490.6,273.1 490.9,273.1 491.2,273.0 491.5,273.0 491.8,273.0 492.1,273.0 492.4,273.0 492.7,272.9 493.0,272.9 493.4,272.9 493.7,272.9 494.0,272.9 494.3,272.9 494.6,272.9 494.9,272.9 495.2,272.9 495.5,272.9 495.8,272.9 496.1,272.9 496.5,272.9 496.8,273.0 497.1,273.0 497.4,273.1 497.7,273.2 498.0,273.2 498.3,273.3 498.6,273.4 498.9,273.5 499.2,273.7 499.6,273.8 499.9,273.9 500.2,274.1 500.5,274.3 500.8,274.4 501.1,274.6 501.4,274.8 501.7,275.1 502.0,275.6 502.3,276.2 502.6,276.8 503.0,277.3 503.3,277.9 503.6,278.4 503.9,279.0 504.2,279.5 504.5,280.1 504.8,280.6 505.1,281.2 505.4,281.7 505.7,282.2 506.1,282.7 506.4,283.2 506.7,283.7 507.0,284.2 507.3,284.7 507.6,285.1 507.9,285.6 508.2,286.0 508.5,286.4 508.8,286.9 509.2,287.3 509.5,287.7 509.8,288.0 510.1,288.4 510.4,288.8 510.7,289.1 511.0,289.4 511.3,289.7 511.6,290.1 511.9,290.3 512.2,290.6 512.6,290.9 512.9,291.2 513.2,291.4 513.5,291.7 513.8,291.9 514.1,292.1 514.4,292.4 514.7,292.6 515.0,292.8 515.3,293.0 515.7,293.2 516.0,293.4 516.3,293.6 516.6,293.8 516.9,294.0 517.2,294.2 517.5,294.3 517.8,294.5 518.1,294.7 518.4,295.0 518.8,295.2 519.1,295.4 519.4,295.6 519.7,295.8 520.0,296.1 520.3,296.3 520.6,296.6 520.9,296.8 521.2,297.1 521.5,297.4 521.8,297.7 522.2,298.1 522.5,298.4 522.8,298.7 523.1,299.1 523.4,299.5 523.7,299.9 524.0,300.3 524.3,300.7 524.6,301.2 524.9,301.6 525.3,302.1 525.6,302.6 525.9,303.1 526.2,303.6 526.5,304.1 526.8,304.7 527.1,305.2 527.4,305.8 527.7,306.4 528.0,307.0 528.4,307.6 528.7,308.2 529.0,308.8 529.3,309.5 529.6,310.1 529.9,310.8 530.2,311.4 530.5,312.1 530.8,312.8 531.1,313.4 531.5,314.1 531.8,314.8 532.1,315.4 532.4,316.1 532.7,316.7 533.0,317.4 533.3,318.0 533.6,318.7 533.9,319.3 534.2,319.9 534.5,320.5 534.9,321.1 535.2,321.7 535.5,322.3 535.8,322.8 536.1,323.4 536.4,323.9 536.7,324.4 537.0,324.9 537.3,325.4 537.6,325.9 538.0,326.3 538.3,326.7 538.6,327.1 538.9,327.5 539.2,327.9 539.5,328.2 539.8,328.6 540.1,328.9 540.4,329.2 540.7,329.5 541.1,329.7 541.4,330.0 541.7,330.2 542.0,330.4 542.3,330.6 542.6,330.8 542.9,331.0 543.2,331.2 543.5,331.3 543.8,331.5 544.1,331.6 544.5,331.7 544.8,331.9 545.1,332.0 545.4,332.1 545.7,332.2 546.0,332.3 546.3,332.4 546.6,332.5 546.9,332.6 547.2,332.8 547.6,332.9 547.9,333.0 548.2,333.2 548.5,333.3 548.8,333.5 549.1,333.6 549.4,333.8 549.7,334.0 550.0,334.2 550.3,334.4 550.7,334.7 551.0,334.9 551.3,335.2 551.6,335.5 551.9,335.8 552.2,336.1 552.5,336.5 552.8,336.8 553.1,337.2 553.4,337.6 553.8,338.1 554.1,338.5 554.4,339.0 554.7,339.5 555.0,340.0 555.3,340.5 555.6,341.1 555.9,341.6 556.2,342.2 556.5,342.8 556.8,343.4 557.2,344.1 557.5,344.7 557.8,345.4 558.1,346.1 558.4,346.7 558.7,347.4 559.0,348.2 559.3,348.9 559.6,349.6 559.9,350.3 560.3,351.0 560.6,351.8 560.9,352.4 561.2,353.1 561.5,353.7 561.8,354.4 562.1,355.0 562.4,355.6 562.7,356.2 563.0,356.9 563.4,357.5 563.7,358.1 564.0,358.6 564.3,359.2 564.6,359.8 564.9,360.3 565.2,360.8 565.5,361.3 565.8,361.8 566.1,362.3 566.4,362.7 566.8,363.1 567.1,363.5 567.4,363.9 567.7,364.3 568.0,364.6 568.3,364.9 568.6,365.2 568.9,365.5 569.2,365.7 569.5,366.0 569.9,366.2 570.2,366.3 570.5,366.5 570.8,366.7 571.1,366.8 571.4,366.9 571.7,367.0 572.0,367.0 572.3,367.1 572.6,367.2 573.0,367.2 573.3,367.2 573.6,367.2 573.9,367.2 574.2,367.2 574.5,367.2 574.8,367.2 575.1,367.2 575.4,367.1 575.7,367.1 576.1,367.1 576.4,367.1 576.7,367.1 577.0,367.1 577.3,367.1 577.6,367.1 577.9,367.1 578.2,367.1 578.5,367.1 578.8,367.2 579.1,367.3 579.5,367.3 579.8,367.4 580.1,367.6 580.4,367.7 580.7,367.9 581.0,368.0 581.3,368.2 581.6,368.5 581.9,368.7 582.2,369.0 582.6,369.3 582.9,369.6 583.2,369.9 583.5,370.3 583.8,370.7 584.1,371.1 584.4,371.5 584.7,371.9 585.0,372.4 585.3,372.9 585.7,373.4 586.0,374.0 586.3,374.5 586.6,375.1 586.9,375.7 587.2,376.3 587.5,376.9 587.8,377.5 588.1,378.2 588.4,378.8 588.7,379.5 589.1,380.2 589.4,380.8 589.7,381.5 590.0,382.2 590.3,382.9 590.6,383.6 590.9,384.3 591.2,385.0 591.5,385.6 591.8,386.2 592.2,386.9 592.5,387.5 592.8,388.0 593.1,388.6 593.4,389.2 593.7,389.7 594.0,390.3 594.3,390.8 594.6,391.3 594.9,391.8 595.3,392.2 595.6,392.7 595.9,393.1 596.2,393.5 596.5,393.8 596.8,394.2 597.1,394.5 597.4,394.8 597.7,395.1 598.0,395.3 598.4,395.6 598.7,395.8 599.0,395.9 599.3,396.1 599.6,396.2 599.9,396.3 600.2,396.4 600.5,396.5 600.8,396.5 601.1,396.5 601.4,396.6 601.8,396.5 602.1,396.5 602.4,396.5 602.7,396.4 603.0,396.4 603.3,396.3 603.6,396.2 603.9,396.1 604.2,396.0 604.5,395.9 604.9,395.8 605.2,395.7 605.5,395.6 605.8,395.5 606.1,395.3 606.4,395.2 606.7,395.2 607.0,395.1 607.3,395.0 607.6,394.9 608.0,394.9 608.3,394.8 608.6,394.8 608.9,394.8 609.2,394.8 609.5,394.9 609.8,394.9 610.1,395.0 610.4,395.1 610.7,395.2 611.0,395.3 611.4,395.5 611.7,395.7 612.0,395.9 612.3,396.1 612.6,396.4 612.9,396.7 613.2,397.0 613.5,397.3 613.8,397.7 614.1,398.1 614.5,398.5 614.8,398.9 615.1,399.4 615.4,399.9 615.7,400.4 616.0,400.9 616.3,401.4 616.6,402.0 616.9,402.6 617.2,403.1 617.6,403.7 617.9,404.4 618.2,405.0 618.5,405.6 618.8,406.3 619.1,406.9 619.4,407.6 619.7,408.2 620.0,408.9 620.3,409.5 620.7,410.2 621.0,410.9 621.3,411.5 621.6,412.1 621.9,412.8 622.2,413.4 622.5,414.0 622.8,414.4 623.1,414.9 623.4,415.3 623.7,415.8 624.1,416.2 624.4,416.6 624.7,416.9 625.0,417.3 625.3,417.6 625.6,417.9 625.9,418.1 626.2,418.4 626.5,418.6 626.8,418.8 627.2,419.0 627.5,419.1 627.8,419.2 628.1,419.3 628.4,419.4 628.7,419.4 629.0,419.5 629.3,419.4 629.6,419.4 629.9,419.4 630.3,419.3 630.6,419.2 630.9,419.1 631.2,418.9 631.5,418.8 631.8,418.6 632.1,418.4 632.4,418.2 632.7,418.0 633.0,417.7 633.3,417.5 633.7,417.3 634.0,417.0 634.3,416.8 634.6,416.5 634.9,416.2 635.2,416.0 635.5,415.7 635.8,415.5 636.1,415.2 636.4,415.0 636.8,414.7 637.1,414.5 637.4,414.3 637.7,414.1 638.0,413.9 638.3,413.8 638.6,413.6 638.9,413.5 639.2,413.4 639.5,413.3 639.9,413.2 640.2,413.2 640.5,413.2 640.8,413.2 641.1,413.2 641.4,413.3 641.7,413.4 642.0,413.5 642.3,413.6 642.6,413.8 642.9,414.0 643.3,414.2 643.6,414.5 643.9,414.7 644.2,415.0 644.5,415.4 644.8,415.7 645.1,416.1 645.4,416.5 645.7,416.9 646.0,417.3 646.4,417.8 646.7,418.2 647.0,418.7 647.3,419.2 647.6,419.7 647.9,420.3 648.2,420.8 648.5,421.3 648.8,421.9 649.1,422.5 649.5,423.0 649.8,423.6 650.1,424.1 650.4,424.7 650.7,425.2 651.0,425.8 651.3,426.3 651.6,426.8 651.9,427.4 652.2,427.9 652.6,428.3 652.9,428.8 653.2,429.3 653.5,429.7 653.8,430.0 654.1,430.3 654.4,430.6 654.7,430.8 655.0,431.1 655.3,431.3 655.6,431.4 656.0,431.6 656.3,431.7 656.6,431.8 656.9,431.9 657.2,431.9 657.5,431.9 657.8,431.9 658.1,431.9 658.4,431.8 658.7,431.7 659.1,431.6 659.4,431.4 659.7,431.3 660.0,431.1 660.3,430.9 660.6,430.6 660.9,430.4 661.2,430.1 661.5,429.8 661.8,429.5 662.2,429.2 662.5,428.9 662.8,428.6 663.1,428.2 663.4,427.9 663.7,427.5 664.0,427.2 664.3,426.8 664.6,426.4 664.9,426.1 665.2,425.7 665.6,425.4 665.9,425.0 666.2,424.7 666.5,424.4 666.8,424.1 667.1,423.8 667.4,423.5 667.7,423.2 668.0,423.0 668.3,422.8 668.7,422.5 669.0,422.4 669.3,422.2 669.6,422.0 669.9,421.9 670.2,421.8 670.5,421.8 670.8,421.7 671.1,421.7 671.4,421.7 671.8,421.8 672.1,421.8 672.4,421.9 672.7,422.0 673.0,422.2 673.3,422.3 673.6,422.5 673.9,422.7 674.2,423.0 674.5,423.2 674.9,423.5 675.2,423.8 675.5,424.1 675.8,424.5 676.1,424.8 676.4,425.2 676.7,425.6 677.0,426.0 677.3,426.4 677.6,426.8 677.9,427.3 678.3,427.7 678.6,428.2 678.9,428.6 679.2,429.0 679.5,429.5 679.8,429.9 680.1,430.4 680.4,430.8 680.7,431.2 681.0,431.7 681.4,432.1 681.7,432.5 682.0,432.9 682.3,433.2 682.6,433.6 682.9,433.9 683.2,434.2 683.5,434.5 683.8,434.8 684.1,435.1 684.5,435.3 684.8,435.4 685.1,435.6 685.4,435.7 685.7,435.7 686.0,435.8 686.3,435.8 686.6,435.8 686.9,435.8 687.2,435.7 687.5,435.7 687.9,435.6 688.2,435.4 688.5,435.3 688.8,435.1 689.1,434.9 689.4,434.7 689.7,434.5 690.0,434.2 690.3,434.0 690.6,433.7 691.0,433.4 691.3,433.0 691.6,432.7 691.9,432.4 692.2,432.0 692.5,431.7 692.8,431.3 693.1,430.9 693.4,430.6 693.7,430.2 694.1,429.8 694.4,429.5 694.7,429.1 695.0,428.7 695.3,428.4 695.6,428.0 695.9,427.7 696.2,427.4 696.5,427.0 696.8,426.7 697.2,426.5 697.5,426.2 697.8,425.9 698.1,425.7 698.4,425.5 698.7,425.3 699.0,425.1 699.3,424.9 699.6,424.8 699.9,424.7 700.2,424.6 700.6,424.5 700.9,424.4 701.2,424.4 701.5,424.4 701.8,424.4 702.1,424.5 702.4,424.5 702.7,424.6 703.0,424.7 703.3,424.9 703.7,425.0 704.0,425.2 704.3,425.4 704.6,425.6 704.9,425.8 705.2,426.0 705.5,426.3 705.8,426.5 706.1,426.8 706.4,427.1 706.8,427.4 707.1,427.7 707.4,428.0 707.7,428.3 708.0,428.6 708.3,429.0 708.6,429.3 708.9,429.6 709.2,429.9 709.5,430.3 709.8,430.6 710.2,430.9 710.5,431.2 710.8,431.5 711.1,431.8 711.4,432.0 711.7,432.3 712.0,432.5 712.3,432.8 712.6,433.0 712.9,433.2 713.3,433.4 713.6,433.5 713.9,433.7 714.2,433.8 714.5,433.9 714.8,433.9 715.1,433.9 715.4,434.0 715.7,434.0 716.0,433.9 716.4,433.9 716.7,433.8 717.0,433.7 717.3,433.6 717.6,433.5 717.9,433.4 718.2,433.2 718.5,433.0 718.8,432.8 719.1,432.6 719.5,432.3 719.8,432.1 720.1,431.8 720.4,431.5 720.7,431.2 721.0,430.9 721.3,430.6 721.6,430.3 721.9,429.9 722.2,429.6 722.5,429.2 722.9,428.9 723.2,428.5 723.5,428.1 723.8,427.8 724.1,427.4 724.4,427.0 724.7,426.7 725.0,426.3 725.3,426.0 725.6,425.6 726.0,425.3 726.3,424.9 726.6,424.6 726.9,424.3 727.2,424.0 727.5,423.7 727.8,423.5 728.1,423.2 728.4,423.0 728.7,422.8 729.1,422.6 729.4,422.4 729.7,422.2 730.0,422.1 730.3,422.0 730.6,421.8 730.9,421.8 731.2,421.7 731.5,421.7 731.8,421.6 732.1,421.6 732.5,421.7 732.8,421.7 733.1,421.8 733.4,421.8 733.7,421.9 734.0,422.1 734.3,422.2 734.6,422.3 734.9,422.5 735.2,422.7 735.6,422.9 735.9,423.1 736.2,423.3 736.5,423.5 736.8,423.7 737.1,424.0 737.4,424.2 737.7,424.5 738.0,424.7 738.3,425.0 738.7,425.3 739.0,425.5 739.3,425.8 739.6,426.0 739.9,426.3 740.2,426.5 740.5,426.7 740.8,426.9 741.1,427.1 741.4,427.3 741.7,427.5 742.1,427.7 742.4,427.8 742.7,428.0 743.0,428.1 743.3,428.2 743.6,428.3 743.9,428.4 744.2,428.4 744.5,428.5 744.8,428.5 745.2,428.5 745.5,428.4 745.8,428.4 746.1,428.3 746.4,428.2 746.7,428.1 747.0,428.0 747.3,427.8 747.6,427.7 747.9,427.5 748.3,427.3 748.6,427.0 748.9,426.8 749.2,426.5 749.5,426.2 749.8,425.9 750.1,425.6 750.4,425.3 750.7,425.0 751.0,424.6 751.4,424.2 751.7,423.9 752.0,423.5 752.3,423.1 752.6,422.7 752.9,422.3 753.2,421.9 753.5,421.5 753.8,421.1 754.1,420.7 754.4,420.3 754.8,419.9 755.1,419.5 755.4,419.1 755.7,418.7 756.0,418.4 756.3,418.0 756.6,417.7 756.9,417.3 757.2,417.0 757.5,416.7 757.9,416.4 758.2,416.2 758.5,415.9 758.8,415.7 759.1,415.5 759.4,415.3 759.7,415.1 760.0,415.0 760.3,414.8 760.6,414.7 761.0,414.6 761.3,414.6 761.6,414.5 761.9,414.5 762.2,414.5 762.5,414.5 762.8,414.6 763.1,414.6 763.4,414.7 763.7,414.8 764.0,414.9 764.4,415.1 764.7,415.2 765.0,415.4 765.3,415.6 765.6,415.8 765.9,416.0 766.2,416.2 766.5,416.4 766.8,416.7 767.1,416.9 767.5,417.2 767.8,417.4 768.1,417.7 768.4,417.9 768.7,418.2 769.0,418.4 769.3,418.7 769.6,418.9 769.9,419.1 770.2,419.3 770.6,419.6 770.9,419.8 771.2,420.0 771.5,420.1 771.8,420.3 772.1,420.5 772.4,420.6 772.7,420.7 773.0,420.8 773.3,420.9 773.7,421.0 774.0,421.0 774.3,421.0 774.6,421.0 774.9,421.0 775.2,421.0 775.5,420.9 775.8,420.8 776.1,420.7 776.4,420.6 776.7,420.4 777.1,420.2 777.4,420.0 777.7,419.8 778.0,419.6 778.3,419.3 778.6,419.0 778.9,418.7 779.2,418.4 779.5,418.0 779.8,417.6 780.2,417.3 780.5,416.9 780.8,416.5 781.1,416.0 781.4,415.6 781.7,415.2 782.0,414.7 782.3,414.3 782.6,413.8 782.9,413.3 783.3,412.9 783.6,412.4 783.9,411.9 784.2,411.5 784.5,411.0 784.8,410.6 785.1,410.1 785.4,409.7 785.7,409.3 786.0,408.9 786.3,408.5 786.7,408.1 787.0,407.7 787.3,407.3 787.6,407.0 787.9,406.7 788.2,406.4 788.5,406.1 788.8,405.9 789.1,405.6 789.4,405.4 789.8,405.3 790.1,405.1 790.4,405.0 790.7,404.9 791.0,404.8 791.3,404.7 791.6,404.7 791.9,404.7 792.2,404.7 792.5,404.7 792.9,404.8 793.2,404.9 793.5,405.0 793.8,405.1 794.1,405.2 794.4,405.4 794.7,405.6 795.0,405.8 795.3,406.0 795.6,406.2 796.0,406.5 796.3,406.7 796.6,407.0 796.9,407.3 797.2,407.6 797.5,407.9 797.8,408.1 798.1,408.4 798.4,408.7 798.7,409.0 799.0,409.3 799.4,409.6 799.7,409.9 800.0,410.2 800.3,410.4 800.6,410.7 800.9,410.9 801.2,411.2 801.5,411.4 801.8,411.6 802.1,411.8 802.5,411.9 802.8,412.1 803.1,412.2 803.4,412.3 803.7,412.4 804.0,412.4 804.3,412.5 804.6,412.5 804.9,412.4 805.2,412.4 805.6,412.3 805.9,412.2 806.2,412.1 806.5,411.9 806.8,411.7 807.1,411.5 807.4,411.3 807.7,411.0 808.0,410.7 808.3,410.4 808.6,410.1 809.0,409.7 809.3,409.3 809.6,408.9 809.9,408.5 810.2,408.1 810.5,407.6 810.8,407.2 811.1,406.7 811.4,406.2 811.7,405.7 812.1,405.2 812.4,404.7 812.7,404.2 813.0,403.6 813.3,403.1 813.6,402.6 813.9,402.1 814.2,401.6 814.5,401.1 814.8,400.6 815.2,400.1 815.5,399.6 815.8,399.2 816.1,398.7 816.4,398.3 816.7,397.9 817.0,397.5 817.3,397.2 817.6,396.8 817.9,396.5 818.3,396.2 818.6,395.9 818.9,395.7 819.2,395.5 819.5,395.3 819.8,395.1 820.1,395.0 820.4,394.9 820.7,394.8 821.0,394.8 821.3,394.8 821.7,394.8 822.0,394.9 822.3,394.9 822.6,395.0 822.9,395.2 823.2,395.3 823.5,395.5 823.8,395.7 824.1,395.9 824.4,396.2 824.8,396.5 825.1,396.8 825.4,397.1 825.7,397.4 826.0,397.7 826.3,398.1 826.6,398.4 826.9,398.8 827.2,399.1 827.5,399.5 827.9,399.9 828.2,400.3 828.5,400.6 828.8,401.0 829.1,401.4 829.4,401.7 829.7,402.1 830.0,402.4 830.3,402.8 830.6,403.1 830.9,403.4 831.3,403.7 831.6,404.0 831.9,404.2 832.2,404.5 832.5,404.7 832.8,404.8 833.1,405.0 833.4,405.1 833.7,405.2 834.0,405.3 834.4,405.3 834.7,405.3 835.0,405.3 835.3,405.3 835.6,405.2 835.9,405.0 836.2,404.9 836.5,404.7 836.8,404.5 837.1,404.2 837.5,403.9 837.8,403.6 838.1,403.2 838.4,402.9 838.7,402.4 839.0,402.0 839.3,401.5 839.6,401.1 839.9,400.5 840.2,400.0 840.6,399.5 840.9,398.9 841.2,398.3 841.5,397.7 841.8,397.1 842.1,396.5 842.4,395.9 842.7,395.3 843.0,394.6 843.3,394.0 843.6,393.4 844.0,392.8 844.3,392.2 844.6,391.6 844.9,391.0 845.2,390.4 845.5,389.8 845.8,389.3 846.1,388.8 846.4,388.3 846.7,387.8 847.1,387.4 847.4,387.0 847.7,386.6 848.0,386.2 848.3,385.9 848.6,385.6 848.9,385.4 849.2,385.2 849.5,385.0 849.8,384.9 850.2,384.8 850.5,384.7 850.8,384.7 851.1,384.7 851.4,384.8 851.7,384.9 852.0,385.0 852.3,385.2 852.6,385.4 852.9,385.6 853.2,385.9 853.6,386.2 853.9,386.6 854.2,386.9 854.5,387.3 854.8,387.8 855.1,388.3 855.4,388.8 855.7,389.3 856.0,389.8 856.3,390.3 856.7,390.9 857.0,391.5 857.3,392.0 857.6,392.6 857.9,393.2 858.2,393.8 858.5,394.3 858.8,394.9 859.1,395.4 859.4,396.0 859.8,396.5 860.1,397.0 860.4,397.4 860.7,397.9 861.0,398.3 861.3,398.7 861.6,399.1 861.9,399.4 862.2,399.8 862.5,400.0 862.8,400.3 863.2,400.5 863.5,400.6 863.8,400.7 864.1,400.8 864.4,400.8 864.7,400.8 865.0,400.8 865.3,400.7 865.6,400.5 865.9,400.4 866.3,400.1 866.6,399.9 866.9,399.6 867.2,399.2 867.5,398.8 867.8,398.4 868.1,398.0 868.4,397.5 868.7,396.9 869.0,396.4 869.4,395.8 869.7,395.2 870.0,394.5 870.3,393.9 870.6,393.2 870.9,392.5 871.2,391.8 871.5,391.1 871.8,390.3 872.1,389.6 872.5,388.8 872.8,388.1 873.1,387.4 873.4,386.6 873.7,385.9 874.0,385.2 874.3,384.5 874.6,383.8 874.9,383.2 875.2,382.6 875.5,381.9 875.9,381.4 876.2,380.8 876.5,380.3 876.8,379.8 877.1,379.4 877.4,379.0 877.7,378.6 878.0,378.3 878.3,378.0 878.6,377.8 879.0,377.6 879.3,377.4 879.6,377.3 879.9,377.3 880.2,377.3 880.5,377.3 880.8,377.4 881.1,377.6 881.4,377.8 881.7,378.0 882.1,378.3 882.4,378.6 882.7,379.0 883.0,379.4 883.3,379.8 883.6,380.3 883.9,380.8 884.2,381.3 884.5,381.9 884.8,382.5 885.1,383.1 885.5,383.8 885.8,384.4 886.1,385.1 886.4,385.8 886.7,386.5 887.0,387.2 887.3,387.9 887.6,388.6 887.9,389.3 888.2,390.0 888.6,390.7 888.9,391.3 889.2,392.0 889.5,392.6 889.8,393.3 890.1,393.8 890.4,394.4 890.7,394.9 891.0,395.4 891.3,395.9 891.7,396.3 892.0,396.7 892.3,397.0 892.6,397.3 892.9,397.6 893.2,397.8 893.5,397.9 893.8,398.0 894.1,398.1 894.4,398.1 894.8,398.0 895.1,397.9 895.4,397.8 895.7,397.6 896.0,397.3 896.3,397.0 896.6,396.7 896.9,396.3 897.2,395.8 897.5,395.3 897.8,394.8 898.2,394.2 898.5,393.6 898.8,393.0 899.1,392.3 899.4,391.6 899.7,390.8 900.0,390.0 900.3,389.3 900.6,388.4 900.9,387.6 901.3,386.8 901.6,385.9 901.9,385.1 902.2,384.2 902.5,383.4 902.8,382.5 903.1,381.7 903.4,380.8 903.7,380.0 904.0,379.2 904.4,378.5 904.7,377.7 905.0,377.0 905.3,376.3 905.6,375.6 905.9,375.0 906.2,374.4 906.5,373.9 906.8,373.4 907.1,373.0 907.4,372.6 907.8,372.2 908.1,371.9 908.4,371.7 908.7,371.5 909.0,371.3 909.3,371.2 909.6,371.2 909.9,371.2 910.2,371.3 910.5,371.5 910.9,371.7 911.2,372.0 911.5,372.3 911.8,372.7 912.1,373.1 912.4,373.6 912.7,374.1 913.0,374.7 913.3,375.3 913.6,375.9 914.0,376.6 914.3,377.4 914.6,378.2 914.9,379.0 915.2,379.8 915.5,380.6 915.8,381.5 916.1,382.4 916.4,383.3 916.7,384.2 917.1,385.2 917.4,386.1 917.7,387.0 918.0,387.9 918.3,388.8 918.6,389.7 918.9,390.6 919.2,391.4 919.5,392.3 919.8,393.1 920.1,393.8 920.5,394.6 920.8,395.2 921.1,395.9 921.4,396.5 921.7,397.0 922.0,397.5 922.3,397.9 922.6,398.3 922.9,398.6 923.2,398.9 923.6,399.1 923.9,399.2 924.2,399.3 924.5,399.3 924.8,399.3 925.1,399.1 925.4,398.9 925.7,398.7 926.0,398.4 926.3,398.0 926.7,397.5 927.0,397.0 927.3,396.5 927.6,395.8 927.9,395.2 928.2,394.4 928.5,393.7 928.8,392.8 929.1,392.0 929.4,391.1 929.7,390.1 930.1,389.2 930.4,388.2 930.7,387.2 931.0,386.1 931.3,385.1 931.6,384.0 931.9,382.9 932.2,381.9 932.5,380.8 932.8,379.8 933.2,378.7 933.5,377.7 933.8,376.7 934.1,375.7 934.4,374.8 934.7,373.9 935.0,373.0 935.3,372.2 935.6,371.4 935.9,370.7 936.3,370.0 936.6,369.4 936.9,368.9 937.2,368.4 937.5,368.0 937.8,367.6 938.1,367.3 938.4,367.1 938.7,367.0 939.0,366.9 939.4,367.0 939.7,367.0 940.0,367.2 940.3,367.5 940.6,367.9 940.9,368.3 941.2,368.8 941.5,369.4 941.8,370.0 942.1,370.7 942.4,371.5 942.8,372.3 943.1,373.1 943.4,374.1 943.7,375.0 944.0,376.1 944.3,377.1 944.6,378.2 944.9,379.3 945.2,380.5 945.5,381.6 945.9,382.8 946.2,384.0 946.5,385.2 946.8,386.4 947.1,387.6 947.4,388.8 947.7,390.0 948.0,391.2 948.3,392.3 948.6,393.4 949.0,394.5 949.3,395.5 949.6,396.5 949.9,397.4 950.2,398.3 950.5,399.2 950.8,399.9 951.1,400.6 951.4,401.3 951.7,401.9 952.0,402.4 952.4,402.8 952.7,403.2 953.0,403.5 953.3,403.7 953.6,403.8 953.9,403.9 954.2,403.8 954.5,403.7 954.8,403.5 955.1,403.3 955.5,402.9 955.8,402.5 956.1,402.0 956.4,401.5 956.7,400.8 957.0,400.1 957.3,399.3 957.6,398.5 957.9,397.6 958.2,396.7 958.6,395.7 958.9,394.6 959.2,393.6 959.5,392.4 959.8,391.3 960.1,390.1 960.4,388.9 960.7,387.7 961.0,386.5 961.3,385.2 961.6,384.0 962.0,382.8 962.3,381.6 962.6,380.4 962.9,379.2 963.2,378.0 963.5,376.9 963.8,375.8 964.1,374.8 964.4,373.8 964.7,372.8 965.1,371.9 965.4,371.1 965.7,370.3 966.0,369.6 966.3,369.0 966.6,368.4 966.9,367.9 967.2,367.5 967.5,367.2 967.8,366.9 968.2,366.7 968.5,366.6 968.8,366.6 969.1,366.7 969.4,366.9 969.7,367.1 970.0,367.5 970.3,367.9 970.6,368.4 970.9,368.9 971.3,369.6 971.6,370.3 971.9,371.1 972.2,371.9 972.5,372.8 972.8,373.8 973.1,374.8 973.4,375.9 973.7,377.1 974.0,378.3 974.3,379.5 974.7,380.8 975.0,382.1 975.3,383.4 975.6,384.7 975.9,386.1 976.2,387.4 976.5,388.8 976.8,390.2 977.1,391.5 977.4,392.9 977.8,394.2 978.1,395.5 978.4,396.7 978.7,397.9 979.0,399.1 979.3,400.2 979.6,401.3 979.9,402.3 980.2,403.3 980.5,404.2 980.9,405.0 981.2,405.7 981.5,406.4 981.8,407.0 982.1,407.5 982.4,407.9 982.7,408.2 983.0,408.5 983.3,408.6 983.6,408.7 983.9,408.6 984.3,408.5 984.6,408.3 984.9,408.0 985.2,407.6 985.5,407.1 985.8,406.5 986.1,405.9 986.4,405.1 986.7,404.3 987.0,403.4 987.4,402.4 987.7,401.4 988.0,400.3 988.3,399.1 988.6,397.9 988.9,396.6 989.2,395.3 989.5,394.0 989.8,392.6 990.1,391.2 990.5,389.8 990.8,388.3 991.1,386.9 991.4,385.5 991.7,384.0 992.0,382.6 992.3,381.2 992.6,379.8 992.9,378.4 993.2,377.1 993.6,375.8 993.9,374.6 994.2,373.4 994.5,372.3 994.8,371.2 995.1,370.2 995.4,369.3 995.7,368.5 996.0,367.7 996.3,367.0 996.6,366.5 997.0,366.0 997.3,365.6 997.6,365.3 997.9,365.1 998.2,364.9 998.5,364.9 998.8,365.0 999.1,365.2 999.4,365.5 999.7,365.9 1000.1,366.4 1000.4,367.0 1000.7,367.7 1001.0,368.5 1001.3,369.3 1001.6,370.3 1001.9,371.3 1002.2,372.4 1002.5,373.6 1002.8,374.9 1003.2,376.2 1003.5,377.6 1003.8,379.0 1004.1,380.5 1004.4,382.0 1004.7,383.6 1005.0,385.2 1005.3,386.8 1005.6,388.4 1005.9,390.0 1006.2,391.7 1006.6,393.3 1006.9,394.9 1007.2,396.5 1007.5,398.1 1007.8,399.6 1008.1,401.1 1008.4,402.6 1008.7,404.0 1009.0,405.3 1009.3,406.6 1009.7,407.8 1010.0,408.9 1010.3,410.0 1010.6,410.9 1010.9,411.8 1011.2,412.6 1011.5,413.3 1011.8,413.9 1012.1,414.4 1012.4,414.8 1012.8,415.0 1013.1,415.2 1013.4,415.2 1013.7,415.1 1014.0,415.0 1014.3,414.8 1014.6,414.6 1014.9,414.4 1015.2,414.0 1015.5,413.7 1015.9,413.2 1016.2,412.8 1016.5,412.2 1016.8,411.7 1017.1,411.0 1017.4,410.4 1017.7,409.7 1018.0,408.9 1018.3,408.1 1018.6,407.3 1018.9,406.4 1019.3,405.5 1019.6,404.6 1019.9,403.7 1020.2,402.7 1020.5,401.7 1020.8,400.6 1021.1,399.6 1021.4,398.5 1021.7,397.4 1022.0,396.3 1022.4,395.2 1022.7,394.1 1023.0,393.0 1023.3,391.9 1023.6,390.8 1023.9,389.7 1024.2,388.6 1024.5,387.5 1024.8,386.4 1025.1,385.3 1025.5,384.2 1025.8,383.2 1026.1,382.2 1026.4,381.2 1026.7,380.3 1027.0,379.3 1027.3,378.4 1027.6,377.6 1027.9,376.7 1028.2,375.9 1028.5,375.2 1028.9,374.5 1029.2,373.8 1029.5,373.2 1029.8,372.6 1030.1,372.1 1030.4,371.6 1030.7,371.2 1031.0,370.8 1031.3,370.5 1031.6,370.2 1032.0,370.0 1032.3,369.8 1032.6,369.7 1032.9,369.6 1033.2,369.6 1033.5,369.9 1033.8,370.3 1034.1,371.0 1034.4,372.0 1034.7,373.1 1035.1,374.5 1035.4,376.0 1035.7,377.7 1036.0,379.6 1036.3,381.7 1036.6,383.8 1036.9,386.1 1037.2,388.4 1037.5,390.8 1037.8,393.2 1038.2,395.7 1038.5,398.1 1038.8,400.5 1039.1,402.9 1039.4,405.2 1039.7,407.3 1040.0,409.4 1040.3,411.3 1040.6,413.0 1040.9,414.6 1041.2,415.9 1041.6,417.1 1041.9,418.1 1042.2,418.8 1042.5,419.3 1042.8,419.5 1043.1,419.5 1043.4,419.4 1043.7,419.2 1044.0,418.8 1044.3,418.4 1044.7,417.8 1045.0,417.1 1045.3,416.3 1045.6,415.3 1045.9,414.3 1046.2,413.2 1046.5,412.0 1046.8,410.6 1047.1,409.2 1047.4,407.8 1047.8,406.2 1048.1,404.6 1048.4,402.9 1048.7,401.1 1049.0,399.3 1049.3,397.5 1049.6,395.6 1049.9,393.7 1050.2,391.8 1050.5,389.8 1050.8,387.9 1051.2,385.9 1051.5,384.0 1051.8,382.0 1052.1,380.1 1052.4,378.2 1052.7,376.4 1053.0,374.6 1053.3,372.8 1053.6,371.1 1053.9,369.5 1054.3,367.9 1054.6,366.4 1054.9,365.0 1055.2,363.7 1055.5,362.5 1055.8,361.4 1056.1,360.3 1056.4,359.4 1056.7,358.6 1057.0,357.9 1057.4,357.3 1057.7,356.8 1058.0,356.4 1058.3,356.2 1058.6,356.0 1058.9,356.0 1059.2,356.1 1059.5,356.3 1059.8,356.6 1060.1,357.0 1060.5,357.5 1060.8,358.0 1061.1,358.7 1061.4,359.4 1061.7,360.2 1062.0,361.1 1062.3,362.1 1062.6,363.2 1062.9,364.3 1063.2,365.6 1063.5,366.8 1063.9,368.2 1064.2,369.6 1064.5,371.0 1064.8,372.5 1065.1,374.1 1065.4,375.7 1065.7,377.3 1066.0,378.9 1066.3,380.6 1066.6,382.3 1067.0,384.0 1067.3,385.7 1067.6,387.5 1067.9,389.2 1068.2,390.9 1068.5,392.6 1068.8,394.3 1069.1,396.0 1069.4,397.6 1069.7,399.2 1070.1,400.8 1070.4,402.3 1070.7,403.8 1071.0,405.2 1071.3,406.6 1071.6,407.9 1071.9,409.2 1072.2,410.4 1072.5,411.5 1072.8,412.5 1073.1,413.5 1073.5,414.3 1073.8,415.1 1074.1,415.8 1074.4,416.4 1074.7,417.0 1075.0,417.4 1075.3,417.7 1075.6,418.0 1075.9,418.1 1076.2,418.2 1076.6,418.0 1076.9,417.4 1077.2,416.4 1077.5,415.0 1077.8,413.3 1078.1,411.3 1078.4,408.9 1078.7,406.3 1079.0,403.4 1079.3,400.4 1079.7,397.1 1080.0,393.8 1080.3,390.4 1080.6,386.9 1080.9,383.5 1081.2,380.2 1081.5,376.9 1081.8,373.9 1082.1,371.0 1082.4,368.4 1082.7,366.0 1083.1,363.9 1083.4,362.2 1083.7,360.8 1084.0,359.8 1084.3,359.2 1084.6,359.0 1084.9,359.1 1085.2,359.3 1085.5,359.6 1085.8,360.1 1086.2,360.7 1086.5,361.4 1086.8,362.3 1087.1,363.3 1087.4,364.4 1087.7,365.6 1088.0,366.9 1088.3,368.4 1088.6,369.9 1088.9,371.6 1089.3,373.3 1089.6,375.2 1089.9,377.1 1090.2,379.1 1090.5,381.1 1090.8,383.2 1091.1,385.4 1091.4,387.6 1091.7,389.9 1092.0,392.2 1092.4,394.5 1092.7,396.8 1093.0,399.1 1093.3,401.5 1093.6,403.8 1093.9,406.1 1094.2,408.4 1094.5,410.7 1094.8,412.9 1095.1,415.1 1095.4,417.2 1095.8,419.2 1096.1,421.2 1096.4,423.1 1096.7,425.0 1097.0,426.7 1097.3,428.4 1097.6,429.9 1097.9,431.4 1098.2,432.7 1098.5,433.9 1098.9,435.0 1099.2,436.0 1099.5,436.9 1099.8,437.6 1100.1,438.2 1100.4,438.7 1100.7,439.1 1101.0,439.3 1101.3,439.3 1101.6,439.3 1102.0,439.1 1102.3,438.9 1102.6,438.6 1102.9,438.2 1103.2,437.7 1103.5,437.1 1103.8,436.4 1104.1,435.6 1104.4,434.7 1104.7,433.8 1105.0,432.7 1105.4,431.6 1105.7,430.4 1106.0,429.1 1106.3,427.8 1106.6,426.4 1106.9,424.9 1107.2,423.3 1107.5,421.7 1107.8,420.1 1108.1,418.3 1108.5,416.5 1108.8,414.7 1109.1,412.8 1109.4,410.9 1109.7,408.9 1110.0,407.0 1110.3,404.9 1110.6,402.9 1110.9,400.8 1111.2,398.7 1111.6,396.6 1111.9,394.5 1112.2,392.4 1112.5,390.2 1112.8,388.1 1113.1,386.0 1113.4,383.9 1113.7,381.8 1114.0,379.7 1114.3,377.7 1114.7,375.6 1115.0,373.6 1115.3,371.7 1115.6,369.8 1115.9,367.9 1116.2,366.1 1116.5,364.3 1116.8,362.5 1117.1,360.9 1117.4,359.2 1117.7,357.7 1118.1,356.2 1118.4,354.8 1118.7,353.4 1119.0,352.2 1119.3,351.0 1119.6,349.9 1119.9,348.8 1120.2,347.9 1120.5,347.0 1120.8,346.2 1121.2,345.5 1121.5,344.9 1121.8,344.4 1122.1,344.0 1122.4,343.7 1122.7,343.4 1123.0,343.3 1123.3,343.2 1123.6,343.4 1123.9,344.1 1124.3,345.1 1124.6,346.5 1124.9,348.3 1125.2,350.5 1125.5,353.1 1125.8,356.0 1126.1,359.3 1126.4,362.8 1126.7,366.7 1127.0,370.8 1127.3,375.2 1127.7,379.8 1128.0,384.6 1128.3,389.5 1128.6,394.6 1128.9,399.8 1129.2,405.1 1129.5,410.4 1129.8,415.7 1130.1,420.9 1130.4,426.2 1130.8,431.3 1131.1,436.3 1131.4,441.2 1131.7,445.9 1132.0,450.4 1132.3,454.6 1132.6,458.6 1132.9,462.4 1133.2,465.8 1133.5,468.8 1133.9,471.6 1134.2,474.0 1134.5,476.0 1134.8,477.6 1135.1,478.8 1135.4,479.6 1135.7,480.0 1136.0,480.0 1136.3,479.8 1136.6,479.2 1137.0,478.4 1137.3,477.4 1137.6,476.0 1137.9,474.4 1138.2,472.6 1138.5,470.5 1138.8,468.1 1139.1,465.6 1139.4,462.8 1139.7,459.8 1140.0,456.6 1140.4,453.1 1140.7,449.5 1141.0,445.8 1141.3,441.8 1141.6,437.7 1141.9,433.5 1142.2,429.1 1142.5,424.7 1142.8,420.1 1143.1,415.4 1143.5,410.7 1143.8,405.9 1144.1,401.1 1144.4,396.3 1144.7,391.4 1145.0,386.6 1145.3,381.7 1145.6,376.9 1145.9,372.2 1146.2,367.5 1146.6,362.9 1146.9,358.3 1147.2,353.9 1147.5,349.6 1147.8,345.5 1148.1,341.5 1148.4,337.6 1148.7,333.9 1149.0,330.4 1149.3,327.1 1149.6,324.0 1150.0,321.1 1150.3,318.4 1150.6,316.0 1150.9,313.8 1151.2,311.8 1151.5,310.1 1151.8,308.6 1152.1,307.4 1152.4,306.5 1152.7,305.8 1153.1,305.4 1153.4,305.3 1153.7,305.4 1154.0,305.9 1154.3,306.7 1154.6,307.7 1154.9,309.1 1155.2,310.8 1155.5,312.7 1155.8,314.9 1156.2,317.4 1156.5,320.1 1156.8,323.1 1157.1,326.3 1157.4,329.8 1157.7,333.4 1158.0,337.3 1158.3,341.3 1158.6,345.5 1158.9,349.9 1159.3,354.4 1159.6,359.0 1159.9,363.7 1160.2,368.5 1160.5,373.3 1160.8,378.2 1161.1,383.1 1161.4,388.0 1161.7,392.9 1162.0,397.7 1162.3,402.5 1162.7,407.3 1163.0,411.9 1163.3,416.5 1163.6,420.9 1163.9,425.2 1164.2,429.3 1164.5,433.2 1164.8,437.0 1165.1,440.5 1165.4,443.8 1165.8,446.9 1166.1,449.8 1166.4,452.4 1166.7,454.7 1167.0,456.8 1167.3,458.6 1167.6,460.1 1167.9,461.3 1168.2,462.2 1168.5,462.8 1168.9,463.1 1169.2,463.1 1169.5,462.8 1169.8,462.2 1170.1,461.3 1170.4,460.2 1170.7,458.8 1171.0,457.1 1171.3,455.2 1171.6,453.0 1171.9,450.5 1172.3,447.8 1172.6,444.9 1172.9,441.7 1173.2,438.3 1173.5,434.8 1173.8,431.0 1174.1,427.1 1174.4,423.0 1174.7,418.7 1175.0,414.4 1175.4,409.9 1175.7,405.3 1176.0,400.6 1176.3,395.8 1176.6,391.0 1176.9,386.1 1177.2,381.2 1177.5,376.3 1177.8,371.4 1178.1,366.5 1178.5,361.7 1178.8,357.0 1179.1,352.3 1179.4,347.7 1179.7,343.2 1180.0,338.8 1180.3,334.6 1180.6,330.5 1180.9,326.6 1181.2,322.8 1181.5,319.2 1181.9,315.9 1182.2,312.8 1182.5,309.8 1182.8,307.2 1183.1,304.7 1183.4,302.5 1183.7,300.6 1184.0,298.9 1184.3,297.5 1184.6,296.4 1185.0,295.6 1185.3,295.0 1185.6,294.7 1185.9,294.6 1186.2,294.7 1186.5,295.1 1186.8,295.8 1187.1,296.8 1187.4,298.0 1187.7,299.6 1188.1,301.5 1188.4,303.6 1188.7,306.0 1189.0,308.7 1189.3,311.6 1189.6,314.8 1189.9,318.3 1190.2,321.9 1190.5,325.8 1190.8,329.9 1191.2,334.1 1191.5,338.6 1191.8,343.2 1192.1,347.9 1192.4,352.8 1192.7,357.8 1193.0,362.9 1193.3,368.1 1193.6,373.3 1193.9,378.6 1194.2,383.9 1194.6,389.2 1194.9,394.5 1195.2,399.7 1195.5,404.9 1195.8,410.1 1196.1,415.1 1196.4,420.1 1196.7,424.9 1197.0,429.6 1197.3,434.1 1197.7,438.5 1198.0,442.7 1198.3,446.7 1198.6,450.4 1198.9,453.9 1199.2,457.2 1199.5,460.2 1199.8,463.0 1200.1,465.5 1200.4,467.6 1200.8,469.5 1201.1,471.1 1201.4,472.4 1201.7,473.3 1202.0,473.9 1202.3,474.1 1202.6,474.1 1202.9,473.7 1203.2,473.0 1203.5,471.9 1203.8,470.6 1204.2,468.9 1204.5,466.9 1204.8,464.5 1205.1,461.9 1205.4,459.0 1205.7,455.8 1206.0,452.3 1206.3,448.5 1206.6,444.5 1206.9,440.2 1207.3,435.7 1207.6,431.0 1207.9,426.1 1208.2,421.0 1208.5,415.7 1208.8,410.3 1209.1,404.7 1209.4,399.1 1209.7,393.3 1210.0,387.5 1210.4,381.6 1210.7,375.7 1211.0,369.7 1211.3,363.8 1211.6,357.9 1211.9,352.0 1212.2,346.2 1212.5,340.5 1212.8,334.8 1213.1,329.3 1213.5,324.0 1213.8,318.8 1214.1,313.8 1214.4,308.9 1214.7,304.3 1215.0,299.9 1215.3,295.8 1215.6,291.9 1215.9,288.3 1216.2,285.0 1216.5,282.0 1216.9,279.3 1217.2,276.9 1217.5,274.8 1217.8,273.1 1218.1,271.7 1218.4,270.7 1218.7,270.0 1219.0,269.6 1219.3,269.7 1219.6,270.2 1220.0,271.0 1220.3,272.2 1220.6,273.7 1220.9,275.6 1221.2,277.9 1221.5,280.4 1221.8,283.3 1222.1,286.5 1222.4,290.0 1222.7,293.8 1223.1,297.9 1223.4,302.2 1223.7,306.8 1224.0,311.6 1224.3,316.7 1224.6,322.0 1224.9,327.4 1225.2,333.0 1225.5,338.8 1225.8,344.7 1226.1,350.7 1226.5,356.8 1226.8,362.9 1227.1,369.1 1227.4,375.4 1227.7,381.6 1228.0,387.8 1228.3,394.0 1228.6,400.1 1228.9,406.2 1229.2,412.1 1229.6,417.9 1229.9,423.6 1230.2,429.1 1230.5,434.4 1230.8,439.6 1231.1,444.5 1231.4,449.1 1231.7,453.5 1232.0,457.7 1232.3,461.5 1232.7,465.1 1233.0,468.3 1233.3,471.3 1233.6,473.8 1233.9,476.1 1234.2,478.0 1234.5,479.5 1234.8,480.6 1235.1,481.4 1235.4,481.8 1235.8,481.9 1236.1,481.5 1236.4,480.8 1236.7,479.7 1237.0,478.2 1237.3,476.4 1237.6,474.2 1237.9,471.7 1238.2,468.8 1238.5,465.5 1238.8,462.0 1239.2,458.1 1239.5,453.9 1239.8,449.4 1240.1,444.7 1240.4,439.6 1240.7,434.4 1241.0,428.9 1241.3,423.2 1241.6,417.3 1241.9,411.3 1242.3,405.1 1242.6,398.8 1242.9,392.3 1243.2,385.8 1243.5,379.2 1243.8,372.6 1244.1,366.0 1244.4,359.3 1244.7,352.7 1245.0,346.2 1245.4,339.7 1245.7,333.3 1246.0,327.0 1246.3,320.9 1246.6,314.9 1246.9,309.1 1247.2,303.5 1247.5,298.2 1247.8,293.0 1248.1,288.1 1248.4,283.5 1248.8,279.2 1249.1,275.2 1249.4,271.5 1249.7,268.1 1250.0,265.1 1250.3,262.8 1250.6,260.8 1250.9,259.1 1251.2,257.9 1251.5,257.0 1251.9,256.6 1252.2,256.5 1252.5,256.8 1252.8,257.5 1253.1,258.6 1253.4,260.1 1253.7,262.0 1254.0,264.2 1254.3,266.8 1254.6,269.8 1255.0,273.1 1255.3,276.7 1255.6,280.7 1255.9,284.9 1256.2,289.5 1256.5,294.3 1256.8,299.4 1257.1,304.8 1257.4,310.4 1257.7,316.2 1258.1,322.1 1258.4,328.3 1258.7,334.6 1259.0,341.0 1259.3,347.5 1259.6,354.1 1259.9,360.8 1260.2,367.5 1260.5,374.2 1260.8,380.9 1261.1,387.6 1261.5,394.2 1261.8,400.8 1262.1,407.2 1262.4,413.6 1262.7,419.8 1263.0,425.8 1263.3,431.6 1263.6,437.3 1263.9,442.7 1264.2,447.9 1264.6,452.9 1264.9,457.6 1265.2,462.0 1265.5,466.0 1265.8,469.8 1266.1,473.3 1266.4,476.4 1266.7,479.1 1267.0,481.6 1267.3,483.6 1267.7,485.3 1268.0,486.6 1268.3,487.5 1268.6,488.0 1268.9,488.2 1269.2,488.0 1269.5,487.5 1269.8,486.6 1270.1,485.3 1270.4,483.7 1270.7,481.7 1271.1,479.3 1271.4,476.6 1271.7,473.5 1272.0,470.2 1272.3,466.5 1272.6,462.5 1272.9,458.2 1273.2,453.7 1273.5,448.9 1273.8,443.8 1274.2,438.6 1274.5,433.1 1274.8,427.5 1275.1,421.7 1275.4,415.7 1275.7,409.7 1276.0,403.5 1276.3,397.2 1276.6,390.9 1276.9,384.6 1277.3,378.3 1277.6,371.9 1277.9,365.6 1278.2,359.4 1278.5,353.2 1278.8,347.1 1279.1,341.2 1279.4,335.3 1279.7,329.7 1280.0,324.2 1280.4,318.9 1280.7,313.9 1281.0,309.1 1281.3,304.5 1281.6,300.2 1281.9,296.2 1282.2,292.5 1282.5,289.1 1282.8,286.0 1283.1,283.3 1283.4,280.9 1283.8,278.8 1284.1,277.1 1284.4,275.8 1284.7,274.9 1285.0,274.3 1285.3,274.1 1285.6,274.3 1285.9,274.8 1286.2,275.5 1286.5,276.6 1286.9,278.1 1287.2,279.9 1287.5,282.1 1287.8,284.7 1288.1,287.6 1288.4,290.8 1288.7,294.4 1289.0,298.3 1289.3,302.5 1289.6,307.0 1290.0,311.8 1290.3,316.9 1290.6,322.1 1290.9,327.7 1291.2,333.4 1291.5,339.3 1291.8,345.4 1292.1,351.6 1292.4,357.9 1292.7,364.4 1293.0,370.9 1293.4,377.5 1293.7,384.2 1294.0,390.9 1294.3,397.5 1294.6,404.2 1294.9,410.7 1295.2,417.2 1295.5,423.7 1295.8,430.0 1296.1,436.1 1296.5,442.1 1296.8,447.9 1297.1,453.5 1297.4,458.9 1297.7,464.1 1298.0,469.0 1298.3,473.6 1298.6,477.9 1298.9,481.9 1299.2,485.7 1299.6,489.0 1299.9,492.0 1300.2,494.7 1300.5,497.0 1300.8,499.0 1301.1,500.5 1301.4,501.6 1301.7,502.3 1302.0,502.5 1302.3,502.4 1302.6,501.8 1303.0,500.9 1303.3,499.6 1303.6,497.9 1303.9,495.8 1304.2,493.4 1304.5,490.5 1304.8,487.3 1305.1,483.8 1305.4,479.9 1305.7,475.7 1306.1,471.2 1306.4,466.5 1306.7,461.4 1307.0,456.1 1307.3,450.5 1307.6,444.7 1307.9,438.7 1308.2,432.5 1308.5,426.2 1308.8,419.7 1309.2,413.1 1309.5,406.4 1309.8,399.6 1310.1,392.8 1310.4,386.0 1310.7,379.1 1311.0,372.3 1311.3,365.5 1311.6,358.8 1311.9,352.2 1312.3,345.7 1312.6,339.3 1312.9,333.1 1313.2,327.0 1313.5,321.2 1313.8,315.6 1314.1,310.2 1314.4,305.0 1314.7,300.2 1315.0,295.6 1315.3,291.4 1315.7,287.4 1316.0,283.8 1316.3,280.6 1316.6,277.7 1316.9,275.2 1317.2,273.0 1317.5,271.3 1317.8,269.9 1318.1,269.0 1318.4,268.5 1318.8,268.3 1319.1,268.6 1319.4,269.3 1319.7,270.4 1320.0,271.9 1320.3,273.8 1320.6,276.1 1320.9,278.7 1321.2,281.7 1321.5,285.1 1321.9,288.8 1322.2,292.9 1322.5,297.3 1322.8,301.9 1323.1,306.9 1323.4,312.2 1323.7,317.7 1324.0,323.4 1324.3,329.3 1324.6,335.5 1324.9,341.8 1325.3,348.3 1325.6,354.9 1325.9,361.6 1326.2,368.4 1326.5,375.3 1326.8,382.2 1327.1,389.1 1327.4,396.0 1327.7,402.9 1328.0,409.7 1328.4,416.4 1328.7,423.1 1329.0,429.6 1329.3,436.0 1329.6,442.2 1329.9,448.2 1330.2,454.0 1330.5,459.5 1330.8,464.9 1331.1,469.9 1331.5,474.7 1331.8,479.1 1332.1,483.3 1332.4,487.1 1332.7,490.6 1333.0,493.7 1333.3,496.5 1333.6,498.8 1333.9,500.8 1334.2,502.4 1334.6,503.6 1334.9,504.5 1335.2,504.9 1335.5,505.0 1335.8,504.6 1336.1,503.8 1336.4,502.6 1336.7,501.1 1337.0,499.1 1337.3,496.8 1337.6,494.0 1338.0,490.9 1338.3,487.5 1338.6,483.7 1338.9,479.6 1339.2,475.1 1339.5,470.3 1339.8,465.3 1340.1,460.0 1340.4,454.4 1340.7,448.6 1341.1,442.6 1341.4,436.4 1341.7,430.0 1342.0,423.5 1342.3,416.8 1342.6,410.1 1342.9,403.2 1343.2,396.3 1343.5,389.4 1343.8,382.4 1344.2,375.5 1344.5,368.6 1344.8,361.8 1345.1,355.0 1345.4,348.4 1345.7,341.9 1346.0,335.5 1346.3,329.4 1346.6,323.4 1346.9,317.6 1347.2,312.1 1347.6,306.8 1347.9,301.8 1348.2,297.1 1348.5,292.7 1348.8,288.7 1349.1,284.9 1349.4,281.6 1349.7,278.5 1350.0,275.9 1350.3,273.6 1350.7,271.8 1351.0,270.3 1351.3,269.2 1351.6,268.6 1351.9,268.3 1352.2,268.5 1352.5,269.1 1352.8,270.0 1353.1,271.4 1353.4,273.2 1353.8,275.4 1354.1,278.0 1354.4,280.9 1354.7,284.2 1355.0,287.9 1355.3,291.9 1355.6,296.3 1355.9,301.0 1356.2,306.0 1356.5,311.2 1356.9,316.8 1357.2,322.6 1357.5,328.6 1357.8,334.8 1358.1,341.2 1358.4,347.8 1358.7,354.6 1359.0,361.4 1359.3,368.4 1359.6,375.4 1359.9,382.5 1360.3,389.6 1360.6,396.7 1360.9,403.8 1361.2,410.9 1361.5,417.8 1361.8,424.7 1362.1,431.5 1362.4,438.1 1362.7,444.6 1363.0,450.8 1363.4,456.9 1363.7,462.8 1364.0,468.4 1364.3,473.7 1364.6,478.7 1364.9,483.5 1365.2,487.9 1365.5,492.0 1365.8,495.7 1366.1,499.1 1366.5,502.1 1366.8,504.7 1367.1,506.9 1367.4,508.8 1367.7,510.2 1368.0,511.2 1368.3,511.7 1368.6,511.7 1368.9,511.4 1369.2,510.6 1369.5,509.4 1369.9,507.8 1370.2,505.8 1370.5,503.4 1370.8,500.7 1371.1,497.5 1371.4,494.0 1371.7,490.1 1372.0,485.8 1372.3,481.3 1372.6,476.4 1373.0,471.2 1373.3,465.8 1373.6,460.1 1373.9,454.1 1374.2,447.9 1374.5,441.6 1374.8,435.0 1375.1,428.3 1375.4,421.5 1375.7,414.5 1376.1,407.5 1376.4,400.4 1376.7,393.3 1377.0,386.1 1377.3,379.0 1377.6,371.9 1377.9,364.9 1378.2,357.9 1378.5,351.1 1378.8,344.4 1379.2,337.8 1379.5,331.4 1379.8,325.2 1380.1,319.3 1380.4,313.6 1380.7,308.1 1381.0,302.9 1381.3,298.0 1381.6,293.4 1381.9,289.2 1382.2,285.3 1382.6,281.7 1382.9,278.5 1383.2,275.7 1383.5,273.3 1383.8,271.3 1384.1,269.6 1384.4,268.4 1384.7,267.6 1385.0,267.2 1385.3,267.2 1385.7,267.6 1386.0,268.5 1386.3,269.9 1386.6,271.6 1386.9,273.7 1387.2,276.3 1387.5,279.2 1387.8,282.4 1388.1,286.1 1388.4,290.0 1388.8,294.4 1389.1,299.0 1389.4,303.9 1389.7,309.1 1390.0,314.6 1390.3,320.3 1390.6,326.3 1390.9,332.5 1391.2,338.8 1391.5,345.3 1391.8,352.0 1392.2,358.7 1392.5,365.6 1392.8,372.6 1393.1,379.5 1393.4,386.5 1393.7,393.6 1394.0,400.5 1394.3,407.5 1394.6,414.3 1394.9,421.1 1395.3,427.8 1395.6,434.3 1395.9,440.6 1396.2,446.8 1396.5,452.7 1396.8,458.5 1397.1,464.0 1397.4,469.2 1397.7,474.1 1398.0,478.8 1398.4,483.1 1398.7,487.1 1399.0,490.8 1399.3,494.1 1399.6,497.0 1399.9,499.6 1400.2,501.9 1400.5,503.7 1400.8,505.3 1401.1,506.4 1401.4,507.1 1401.8,507.4 1402.1,507.2 1402.4,506.7 1402.7,505.8 1403.0,504.5 1403.3,502.8 1403.6,500.7 1403.9,498.2 1404.2,495.4 1404.5,492.1 1404.9,488.6 1405.2,484.7 1405.5,480.4 1405.8,475.9 1406.1,471.1 1406.4,465.9 1406.7,460.6 1407.0,455.0 1407.3,449.1 1407.6,443.1 1408.0,436.9 1408.3,430.5 1408.6,424.0 1408.9,417.3 1409.2,410.6 1409.5,403.8 1409.8,397.0 1410.1,390.1 1410.4,383.3 1410.7,376.4 1411.1,369.7 1411.4,363.0 1411.7,356.4 1412.0,349.9 1412.3,343.5 1412.6,337.3 1412.9,331.3 1413.2,325.5 1413.5,320.0 1413.8,314.6 1414.1,309.6 1414.5,304.8 1414.8,300.3 1415.1,296.1 1415.4,292.3 1415.7,288.8 1416.0,285.7 1416.3,282.9 1416.6,280.5 1416.9,278.4 1417.2,276.8 1417.6,275.5 1417.9,274.7 1418.2,274.3 1418.5,274.2 1418.8,274.6 1419.1,275.3 1419.4,276.3 1419.7,277.7 1420.0,279.6 1420.3,281.8 1420.7,284.3 1421.0,287.3 1421.3,290.6 1421.6,294.3 1421.9,298.3 1422.2,302.6 1422.5,307.3 1422.8,312.2 1423.1,317.4 1423.4,322.9 1423.7,328.6 1424.1,334.6 1424.4,340.7 1424.7,347.1 1425.0,353.6 1425.3,360.2 1425.6,367.0 1425.9,373.8 1426.2,380.8 1426.5,387.7 1426.8,394.7 1427.2,401.7 1427.5,408.7 1427.8,415.6 1428.1,422.4 1428.4,429.2 1428.7,435.8 1429.0,442.3 1429.3,448.6 1429.6,454.8 1429.9,460.7 1430.3,466.4 1430.6,471.8 1430.9,477.0 1431.2,481.9 1431.5,486.5 1431.8,490.7 1432.1,494.6 1432.4,498.2 1432.7,501.4 1433.0,504.3 1433.4,506.8 1433.7,508.8 1434.0,510.5 1434.3,511.8 1434.6,512.6 1434.9,513.0 1435.2,513.0 1435.5,512.5 1435.8,511.7 1436.1,510.4 1436.4,508.7 1436.8,506.6 1437.1,504.1 1437.4,501.3 1437.7,498.0 1438.0,494.4 1438.3,490.4 1438.6,486.1 1438.9,481.4 1439.2,476.5 1439.5,471.2 1439.9,465.7 1440.2,459.9 1440.5,453.8 1440.8,447.6 1441.1,441.1 1441.4,434.4 1441.7,427.7 1442.0,420.7 1442.3,413.7 1442.6,406.6 1443.0,399.4 1443.3,392.2 1443.6,384.9 1443.9,377.7 1444.2,370.5 1444.5,363.4 1444.8,356.4 1445.1,349.4 1445.4,342.7 1445.7,336.0 1446.0,329.6 1446.4,323.3 1446.7,317.3 1447.0,311.5 1447.3,306.0 1447.6,300.8 1447.9,295.8 1448.2,291.2 1448.5,286.9 1448.8,283.0 1449.1,279.4 1449.5,276.3 1449.8,273.6 1450.1,271.3 1450.4,269.4 1450.7,267.9 1451.0,266.9 1451.3,266.3 1451.6,266.1 1451.9,266.3 1452.2,266.9 1452.6,268.0 1452.9,269.4 1453.2,271.3 1453.5,273.6 1453.8,276.3 1454.1,279.4 1454.4,282.8 1454.7,286.7 1455.0,290.8 1455.3,295.3 1455.7,300.2 1456.0,305.3 1456.3,310.7 1456.6,316.4 1456.9,322.3 1457.2,328.5 1457.5,334.9 1457.8,341.4 1458.1,348.2 1458.4,355.0 1458.7,362.0 1459.1,369.1 1459.4,376.3 1459.7,383.5 1460.0,390.7 1460.3,397.9 1460.6,405.1 1460.9,412.2 1461.2,419.2 1461.5,426.2 1461.8,433.0 1462.2,439.7 1462.5,446.2 1462.8,452.5 1463.1,458.6 1463.4,464.4 1463.7,470.0 1464.0,475.4 1464.3,480.4 1464.6,485.1 1464.9,489.5 1465.3,493.6 1465.6,497.3 1465.9,500.6 1466.2,503.6 1466.5,506.1 1466.8,508.3 1467.1,510.1 1467.4,511.4 1467.7,512.4 1468.0,512.9 1468.3,513.0 1468.7,512.7 1469.0,512.0 1469.3,510.9 1469.6,509.3 1469.9,507.4 1470.2,505.0 1470.5,502.3 1470.8,499.2 1471.1,495.7 1471.4,491.9 1471.8,487.7 1472.1,483.2 1472.4,478.3 1472.7,473.2 1473.0,467.8 1473.3,462.1 1473.6,456.2 1473.9,450.1 1474.2,443.8 1474.5,437.2 1474.9,430.6 1475.2,423.8 1475.5,416.9 1475.8,409.9 1476.1,402.8 1476.4,395.8 1476.7,388.7 1477.0,381.6 1477.3,374.5 1477.6,367.5 1478.0,360.6 1478.3,353.8 1478.6,347.1 1478.9,340.6 1479.2,334.3 1479.5,328.2 1479.8,322.2 1480.1,316.6 1480.4,311.1 1480.7,306.0 1481.0,301.2 1481.4,296.6 1481.7,292.4 1482.0,288.6 1482.3,285.0 1482.6,281.9 1482.9,279.1 1483.2,276.8 1483.5,274.8 1483.8,273.2 1484.1,272.0 1484.5,271.2 1484.8,270.8 1485.1,270.8 1485.4,271.2 1485.7,272.1 1486.0,273.4 1486.3,275.1 1486.6,277.1 1486.9,279.6 1487.2,282.5 1487.6,285.7 1487.9,289.3 1488.2,293.3 1488.5,297.6 1488.8,302.2 1489.1,307.1 1489.4,312.3 1489.7,317.8 1490.0,323.6 1490.3,329.6 1490.6,335.8 1491.0,342.2 1491.3,348.7 1491.6,355.4 1491.9,362.3 1492.2,369.2 1492.5,376.3 1492.8,383.4 1493.1,390.5 1493.4,397.6 1493.7,404.7 1494.1,411.8 1494.4,418.8 1494.7,425.7 1495.0,432.5 1495.3,439.1 1495.6,445.6 1495.9,451.9 1496.2,458.1 1496.5,463.9 1496.8,469.6 1497.2,475.0 1497.5,480.1 1497.8,484.9 1498.1,489.3 1498.4,493.5 1498.7,497.3 1499.0,500.8 1499.3,503.8 1499.6,506.5 1499.9,508.8 1500.3,510.7 1500.6,512.2 1500.9,513.3 1501.2,514.0 1501.5,514.3 1501.8,514.2 1502.1,513.6 1502.4,512.7 1502.7,511.3 1503.0,509.5 1503.3,507.3 1503.7,504.8 1504.0,501.8 1504.3,498.5 1504.6,494.8 1504.9,490.7 1505.2,486.4 1505.5,481.6 1505.8,476.6 1506.1,471.3 1506.4,465.8 1506.8,459.9 1507.1,453.9 1507.4,447.6 1507.7,441.2 1508.0,434.5 1508.3,427.8 1508.6,420.9 1508.9,413.9 1509.2,406.8 1509.5,399.7 1509.9,392.6 1510.2,385.4 1510.5,378.3 1510.8,371.3 1511.1,364.3 1511.4,357.4 1511.7,350.6 1512.0,344.0 1512.3,337.5 1512.6,331.2 1512.9,325.1 1513.3,319.3 1513.6,313.7 1513.9,308.4 1514.2,303.4 1514.5,298.7 1514.8,294.3 1515.1,290.2 1515.4,286.5 1515.7,283.2 1516.0,280.2 1516.4,277.6 1516.7,275.5 1517.0,273.7 1517.3,272.3 1517.6,271.4 1517.9,270.9 1518.2,270.8 1518.5,271.1 1518.8,271.9 1519.1,273.1 1519.5,274.7 1519.8,276.7 1520.1,279.1 1520.4,281.9 1520.7,285.0 1521.0,288.6 1521.3,292.5 1521.6,296.8 1521.9,301.4 1522.2,306.3 1522.5,311.5 1522.9,317.0 1523.2,322.8 1523.5,328.8 1523.8,335.0 1524.1,341.4 1524.4,348.1 1524.7,354.8 1525.0,361.8 1525.3,368.8 1525.6,375.9 1526.0,383.1 1526.3,390.3 1526.6,397.6 1526.9,404.8 1527.2,412.0 1527.5,419.1 1527.8,426.2 1528.1,433.1 1528.4,440.0 1528.7,446.6 1529.1,453.1 1529.4,459.4 1529.7,465.5 1530.0,471.3 1530.3,476.9 1530.6,482.2 1530.9,487.1 1531.2,491.8 1531.5,496.2 1531.8,500.2 1532.2,503.8 1532.5,507.1 1532.8,510.0 1533.1,512.5 1533.4,514.6 1533.7,516.2 1534.0,517.5 1534.3,518.4 1534.6,518.8 1534.9,518.8 1535.2,518.4 1535.6,517.5 1535.9,516.3 1536.2,514.6 1536.5,512.5 1536.8,510.0 1537.1,507.1 1537.4,503.9 1537.7,500.2 1538.0,496.2 1538.3,491.9 1538.7,487.3 1539.0,482.3 1539.3,477.0 1539.6,471.5 1539.9,465.7 1540.2,459.6 1540.5,453.4 1540.8,446.9 1541.1,440.3 1541.4,433.5 1541.8,426.6 1542.1,419.6 1542.4,412.5 1542.7,405.3 1543.0,398.1 1543.3,390.9 1543.6,383.8 1543.9,376.7 1544.2,369.6 1544.5,362.6 1544.8,355.8 1545.2,349.1 1545.5,342.5 1545.8,336.2 1546.1,330.0 1546.4,324.1 1546.7,318.4 1547.0,313.0 1547.3,307.8 1547.6,303.0 1547.9,298.5 1548.3,294.4 1548.6,290.5 1548.9,287.1 1549.2,284.0 1549.5,281.3 1549.8,279.0 1550.1,277.2 1550.4,275.7 1550.7,274.6 1551.0,274.0 1551.4,273.7 1551.7,273.8 1552.0,274.4 1552.3,275.3 1552.6,276.7 1552.9,278.5 1553.2,280.7 1553.5,283.3 1553.8,286.3 1554.1,289.7 1554.5,293.4 1554.8,297.5 1555.1,302.0 1555.4,306.7 1555.7,311.8 1556.0,317.2 1556.3,322.8 1556.6,328.8 1556.9,334.9 1557.2,341.3 1557.5,347.8 1557.9,354.5 1558.2,361.4 1558.5,368.4 1558.8,375.5 1559.1,382.7 1559.4,389.9 1559.7,397.2 1560.0,404.4 1560.3,411.7 1560.6,418.8 1561.0,426.0 1561.3,433.0 1561.6,439.9 1561.9,446.6 1562.2,453.2 1562.5,459.6 1562.8,465.8 1563.1,471.7 1563.4,477.4 1563.7,482.9 1564.1,488.0 1564.4,492.8 1564.7,497.3 1565.0,501.4 1565.3,505.2 1565.6,508.7 1565.9,511.7 1566.2,514.3 1566.5,516.6 1566.8,518.4 1567.1,519.8 1567.5,520.8 1567.8,521.4 1568.1,521.5 1568.4,521.2 1568.7,520.5 1569.0,519.3 1569.3,517.8 1569.6,515.8 1569.9,513.3 1570.2,510.4 1570.6,507.2 1570.9,503.5 1571.2,499.5 1571.5,495.2 1571.8,490.5 1572.1,485.4 1572.4,480.1 1572.7,474.5 1573.0,468.6 1573.3,462.4 1573.7,456.1 1574.0,449.5 1574.3,442.7 1574.6,435.8 1574.9,428.7 1575.2,421.6 1575.5,414.3 1575.8,407.0 1576.1,399.6 1576.4,392.2 1576.8,384.8 1577.1,377.5 1577.4,370.2 1577.7,363.0 1578.0,355.9 1578.3,349.0 1578.6,342.2 1578.9,335.6 1579.2,329.2 1579.5,323.0 1579.8,317.0 1580.2,311.4 1580.5,306.0 1580.8,300.9 1581.1,296.1 1581.4,291.7 1581.7,287.6 1582.0,283.9 1582.3,280.6 1582.6,277.7 1582.9,275.1 1583.3,273.0 1583.6,271.3 1583.9,270.0 1584.2,269.1 1584.5,268.7 1584.8,268.6 1585.1,269.1 1585.4,270.0 1585.7,271.3 1586.0,273.0 1586.4,275.1 1586.7,277.7 1587.0,280.6 1587.3,284.0 1587.6,287.7 1587.9,291.8 1588.2,296.2 1588.5,300.9 1588.8,306.0 1589.1,311.4 1589.4,317.0 1589.8,322.9 1590.1,329.0 1590.4,335.4 1590.7,342.0 1591.0,348.7 1591.3,355.6 1591.6,362.6 1591.9,369.7 1592.2,376.9 1592.5,384.1 1592.9,391.4 1593.2,398.7 1593.5,405.9 1593.8,413.1 1594.1,420.2 1594.4,427.3 1594.7,434.2 1595.0,441.0 1595.3,447.6 1595.6,454.0 1596.0,460.2 1596.3,466.2 1596.6,471.9 1596.9,477.4 1597.2,482.5 1597.5,487.4 1597.8,491.9 1598.1,496.1 1598.4,499.9 1598.7,503.4 1599.1,506.4 1599.4,509.1 1599.7,511.4 1600.0,513.3 1600.3,514.8 1600.6,515.8 1600.9,516.4 1601.2,516.6 1601.5,516.4 1601.8,515.8 1602.1,514.7 1602.5,513.2 1602.8,511.3 1603.1,509.0 1603.4,506.3 1603.7,503.2 1604.0,499.7 1604.3,495.9 1604.6,491.7 1604.9,487.2 1605.2,482.3 1605.6,477.2 1605.9,471.7 1606.2,466.0 1606.5,460.0 1606.8,453.8 1607.1,447.4 1607.4,440.8 1607.7,434.1 1608.0,427.2 1608.3,420.2 1608.7,413.1 1609.0,405.9 1609.3,398.7 1609.6,391.4 1609.9,384.2 1610.2,377.0 1610.5,369.8 1610.8,362.8 1611.1,355.8 1611.4,348.9 1611.7,342.2 1612.1,335.7 1612.4,329.4 1612.7,323.3 1613.0,317.4 1613.3,311.8 1613.6,306.5 1613.9,301.4 1614.2,296.7 1614.5,292.3 1614.8,288.2 1615.2,284.5 1615.5,281.2 1615.8,278.2 1616.1,275.6 1616.4,273.4 1616.7,271.7 1617.0,270.3 1617.3,269.4 1617.6,268.8 1617.9,268.7 1618.3,269.1 1618.6,269.7 1618.9,270.8 1619.2,272.3 1619.5,274.2 1619.8,276.6 1620.1,279.3 1620.4,282.3 1620.7,285.8 1621.0,289.6 1621.3,293.8 1621.7,298.3 1622.0,303.1 1622.3,308.2 1622.6,313.6 1622.9,319.3 1623.2,325.2 1623.5,331.3 1623.8,337.6 1624.1,344.1 1624.4,350.8 1624.8,357.6 1625.1,364.5 1625.4,371.5 1625.7,378.6 1626.0,385.7 1626.3,392.8 1626.6,399.9 1626.9,407.0 1627.2,414.0 1627.5,421.0 1627.9,427.8 1628.2,434.5 1628.5,441.0 1628.8,447.4 1629.1,453.6 1629.4,459.5 1629.7,465.2 1630.0,470.7 1630.3,475.8 1630.6,480.7 1631.0,485.3 1631.3,489.5 1631.6,493.4 1631.9,496.9 1632.2,500.1 1632.5,502.8 1632.8,505.2 1633.1,507.2 1633.4,508.8 1633.7,510.0 1634.0,510.7 1634.4,511.1 1634.7,511.0 1635.0,510.5 1635.3,509.7 1635.6,508.4 1635.9,506.8 1636.2,504.7 1636.5,502.2 1636.8,499.3 1637.1,496.0 1637.5,492.4 1637.8,488.4 1638.1,484.1 1638.4,479.4 1638.7,474.4 1639.0,469.2 1639.3,463.6 1639.6,457.8 1639.9,451.7 1640.2,445.4 1640.6,439.0 1640.9,432.3 1641.2,425.5 1641.5,418.5 1641.8,411.5 1642.1,404.3 1642.4,397.1 1642.7,389.9 1643.0,382.6 1643.3,375.4 1643.6,368.2 1644.0,361.1 1644.3,354.0 1644.6,347.1 1644.9,340.3 1645.2,333.7 1645.5,327.2 1645.8,320.9 1646.1,314.9 1646.4,309.1 1646.7,303.6 1647.1,298.4 1647.4,293.5 1647.7,288.9 1648.0,284.6 1648.3,280.7 1648.6,277.1 1648.9,273.9 1649.2,271.2 1649.5,268.8 1649.8,266.8 1650.2,265.2 1650.5,264.1 1650.8,263.3 1651.1,263.0 1651.4,263.1 1651.7,263.7 1652.0,264.7 1652.3,266.2 1652.6,268.1 1652.9,270.3 1653.3,273.0 1653.6,276.1 1653.9,279.5 1654.2,283.4 1654.5,287.5 1654.8,292.1 1655.1,296.9 1655.4,302.1 1655.7,307.5 1656.0,313.3 1656.3,319.3 1656.7,325.5 1657.0,331.9 1657.3,338.6 1657.6,345.4 1657.9,352.3 1658.2,359.4 1658.5,366.6 1658.8,373.8 1659.1,381.1 1659.4,388.4 1659.8,395.7 1660.1,403.0 1660.4,410.3 1660.7,417.4 1661.0,424.5 1661.3,431.4 1661.6,438.2 1661.9,444.8 1662.2,451.3 1662.5,457.5 1662.9,463.4 1663.2,469.2 1663.5,474.6 1663.8,479.7 1664.1,484.6 1664.4,489.1 1664.7,493.2 1665.0,497.0 1665.3,500.4 1665.6,503.5 1665.9,506.1 1666.3,508.3 1666.6,510.2 1666.9,511.6 1667.2,512.6 1667.5,513.1 1667.8,513.2 1668.1,512.8 1668.4,512.0 1668.7,510.8 1669.0,509.2 1669.4,507.1 1669.7,504.6 1670.0,501.8 1670.3,498.5 1670.6,494.9 1670.9,490.9 1671.2,486.5 1671.5,481.9 1671.8,476.9 1672.1,471.5 1672.5,466.0 1672.8,460.1 1673.1,454.0 1673.4,447.7 1673.7,441.1 1674.0,434.4 1674.3,427.6 1674.6,420.6 1674.9,413.5 1675.2,406.3 1675.6,399.0 1675.9,391.7 1676.2,384.4 1676.5,377.1 1676.8,369.9 1677.1,362.7 1677.4,355.6 1677.7,348.6 1678.0,341.7 1678.3,335.0 1678.6,328.5 1679.0,322.2 1679.3,316.1 1679.6,310.3 1679.9,304.7 1680.2,299.4 1680.5,294.5 1680.8,289.8 1681.1,285.5 1681.4,281.5 1681.7,277.9 1682.1,274.6 1682.4,271.8 1682.7,269.3 1683.0,267.2 1683.3,265.6 1683.6,264.4 1683.9,263.6 1684.2,263.2 1684.5,263.2 1684.8,263.7 1685.2,264.6 1685.5,265.9 1685.8,267.6 1686.1,269.7 1686.4,272.3 1686.7,275.2 1687.0,278.5 1687.3,282.2 1687.6,286.2 1687.9,290.6 1688.2,295.3 1688.6,300.3 1688.9,305.5 1689.2,311.1 1689.5,316.9 1689.8,323.0 1690.1,329.3 1690.4,335.7 1690.7,342.3 1691.0,349.1 1691.3,356.0 1691.7,363.0 1692.0,370.1 1692.3,377.2 1692.6,384.4 1692.9,391.5 1693.2,398.7 1693.5,405.7 1693.8,412.7 1694.1,419.7 1694.4,426.5 1694.8,433.1 1695.1,439.6 1695.4,445.9 1695.7,452.0 1696.0,457.9 1696.3,463.5 1696.6,468.8 1696.9,473.9 1697.2,478.6 1697.5,483.1 1697.9,487.2 1698.2,490.9 1698.5,494.3 1698.8,497.3 1699.1,499.9 1699.4,502.2 1699.7,504.0 1700.0,505.4 1700.3,506.5 1700.6,507.1 1700.9,507.3 1701.3,507.1 1701.6,506.5 1701.9,505.4 1702.2,504.0 1702.5,502.2 1702.8,499.9 1703.1,497.3 1703.4,494.3 1703.7,490.9 1704.0,487.2 1704.4,483.1 1704.7,478.7 1705.0,474.0 1705.3,468.9 1705.6,463.6 1705.9,458.0 1706.2,452.2 1706.5,446.2 1706.8,439.9 1707.1,433.5 1707.5,426.9 1707.8,420.1 1708.1,413.3 1708.4,406.3 1708.7,399.3 1709.0,392.2 1709.3,385.1 1709.6,378.1 1709.9,371.0 1710.2,364.0 1710.5,357.1 1710.9,350.3 1711.2,343.6 1711.5,337.0 1711.8,330.6 1712.1,324.4 1712.4,318.4 1712.7,312.7 1713.0,307.2 1713.3,302.0 1713.6,297.0 1714.0,292.4 1714.3,288.1 1714.6,284.1 1714.9,280.5 1715.2,277.2 1715.5,274.3 1715.8,271.8 1716.1,269.7 1716.4,268.0 1716.7,266.6 1717.1,265.7 1717.4,265.2 1717.7,265.1 1718.0,265.4 1718.3,266.1 1718.6,267.2 1718.9,268.6 1719.2,270.5 1719.5,272.8 1719.8,275.5 1720.2,278.5 1720.5,281.9 1720.8,285.7 1721.1,289.8 1721.4,294.3 1721.7,299.0 1722.0,304.1 1722.3,309.4 1722.6,315.0 1722.9,320.8 1723.2,326.9 1723.6,333.1 1723.9,339.6 1724.2,346.2 1724.5,352.9 1724.8,359.7 1725.1,366.7 1725.4,373.6 1725.7,380.7 1726.0,387.7 1726.3,394.8 1726.7,401.8 1727.0,408.7 1727.3,415.6 1727.6,422.3 1727.9,429.0 1728.2,435.5 1728.5,441.8 1728.8,447.9 1729.1,453.8 1729.4,459.5 1729.8,464.9 1730.1,470.0 1730.4,474.9 1730.7,479.4 1731.0,483.6 1731.3,487.5 1731.6,491.0 1731.9,494.1 1732.2,496.9 1732.5,499.3 1732.8,501.3 1733.2,502.9 1733.5,504.1 1733.8,504.9 1734.1,505.2 1734.4,505.2 1734.7,504.9 1735.0,504.1 1735.3,503.0 1735.6,501.4 1735.9,499.5 1736.3,497.1 1736.6,494.4 1736.9,491.2 1737.2,487.7 1737.5,483.9 1737.8,479.6 1738.1,475.1 1738.4,470.2 1738.7,465.1 1739.0,459.6 1739.4,453.9 1739.7,447.9 1740.0,441.8 1740.3,435.4 1740.6,428.8 1740.9,422.1 1741.2,415.2 1741.5,408.2 1741.8,401.1 1742.1,394.0 1742.4,386.8 1742.8,379.6 1743.1,372.4 1743.4,365.2 1743.7,358.1 1744.0,351.1 1744.3,344.2 1744.6,337.4 1744.9,330.8 1745.2,324.4 1745.5,318.1 1745.9,312.1 1746.2,306.3 1746.5,300.8 1746.8,295.5 1747.1,290.6 1747.4,286.0 1747.7,281.7 1748.0,277.7 1748.3,274.2 1748.6,271.0 1749.0,268.2 1749.3,265.8 1749.6,263.8 1749.9,262.2 1750.2,261.0 1750.5,260.3 1750.8,260.0 1751.1,260.1 1751.4,260.7 1751.7,261.7 1752.1,263.1 1752.4,265.0 1752.7,267.3 1753.0,270.1 1753.3,273.3 1753.6,276.9 1753.9,280.9 1754.2,285.3 1754.5,290.0 1754.8,295.0 1755.1,300.3 1755.5,306.0 1755.8,311.9 1756.1,318.1 1756.4,324.5 1756.7,331.2 1757.0,338.0 1757.3,345.0 1757.6,352.2 1757.9,359.5 1758.2,366.8 1758.6,374.3 1758.9,381.8 1759.2,389.4 1759.5,396.9 1759.8,404.4 1760.1,411.9 1760.4,419.3 1760.7,426.5 1761.0,433.7 1761.3,440.7 1761.7,447.5 1762.0,454.2 1762.3,460.6 1762.6,466.8 1762.9,472.7 1763.2,478.3 1763.5,483.7 1763.8,488.7 1764.1,493.4 1764.4,497.7 1764.7,501.6 1765.1,505.2 1765.4,508.4 1765.7,511.2 1766.0,513.6 1766.3,515.6 1766.6,517.1 1766.9,518.2 1767.2,518.7 1767.5,518.9 1767.8,518.6 1768.2,517.9 1768.5,516.7 1768.8,515.1 1769.1,513.1 1769.4,510.7 1769.7,507.8 1770.0,504.6 1770.3,501.0 1770.6,497.0 1770.9,492.7 1771.3,488.0 1771.6,483.0 1771.9,477.7 1772.2,472.1 1772.5,466.2 1772.8,460.1 1773.1,453.8 1773.4,447.3 1773.7,440.5 1774.0,433.6 1774.4,426.6 1774.7,419.5 1775.0,412.3 1775.3,405.0 1775.6,397.7 1775.9,390.4 1776.2,383.1 1776.5,375.8 1776.8,368.6 1777.1,361.5 1777.4,354.5 1777.8,347.6 1778.1,340.9 1778.4,334.4 1778.7,328.1 1779.0,322.0 1779.3,316.2 1779.6,310.7 1779.9,305.4 1780.2,300.4 1780.5,295.8 1780.9,291.5 1781.2,287.6 1781.5,284.0 1781.8,280.8 1782.1,278.0 1782.4,275.6 1782.7,273.6 1783.0,272.1 1783.3,270.9 1783.6,270.2 1784.0,269.8 1784.3,269.8 1784.6,270.3 1784.9,271.2 1785.2,272.5 1785.5,274.2 1785.8,276.4 1786.1,278.9 1786.4,281.9 1786.7,285.2 1787.0,288.9 1787.4,293.0 1787.7,297.5 1788.0,302.2 1788.3,307.3 1788.6,312.7 1788.9,318.4 1789.2,324.4 1789.5,330.5 1789.8,336.9 1790.1,343.6 1790.5,350.3 1790.8,357.3 1791.1,364.4 1791.4,371.6 1791.7,378.8 1792.0,386.1 1792.3,393.5 1792.6,400.9 1792.9,408.2 1793.2,415.5 1793.6,422.8 1793.9,429.9 1794.2,436.9 1794.5,443.8 1794.8,450.5 1795.1,457.1 1795.4,463.4 1795.7,469.5 1796.0,475.3 1796.3,480.9 1796.7,486.2 1797.0,491.2 1797.3,495.8 1797.6,500.1 1797.9,504.0 1798.2,507.6 1798.5,510.8 1798.8,513.6 1799.1,516.0 1799.4,518.0 1799.7,519.5 1800.1,520.7 1800.4,521.4 1800.7,521.7 1801.0,521.6 1801.3,521.0 1801.6,520.0 1801.9,518.6 1802.2,516.8 1802.5,514.6 1802.8,511.9 1803.2,508.8 1803.5,505.4 1803.8,501.6 1804.1,497.4 1804.4,492.9 1804.7,488.0 1805.0,482.8 1805.3,477.4 1805.6,471.6 1805.9,465.6 1806.3,459.3 1806.6,452.8 1806.9,446.2 1807.2,439.3 1807.5,432.3 1807.8,425.2 1808.1,417.9 1808.4,410.6 1808.7,403.3 1809.0,395.9 1809.3,388.5 1809.7,381.1 1810.0,373.8 1810.3,366.6 1810.6,359.4 1810.9,352.4 1811.2,345.6 1811.5,338.9 1811.8,332.4 1812.1,326.1 1812.4,320.0 1812.8,314.3 1813.1,308.7 1813.4,303.5 1813.7,298.7 1814.0,294.1 1814.3,289.9 1814.6,286.1 1814.9,282.6 1815.2,279.5 1815.5,276.9 1815.9,274.6 1816.2,272.8 1816.5,271.5 1816.8,270.6 1817.1,270.1 1817.4,270.1 1817.7,270.4 1818.0,271.3 1818.3,272.5 1818.6,274.2 1819.0,276.3 1819.3,278.9 1819.6,281.8 1819.9,285.1 1820.2,288.8 1820.5,292.9 1820.8,297.4 1821.1,302.2 1821.4,307.3 1821.7,312.7 1822.0,318.5 1822.4,324.5 1822.7,330.7 1823.0,337.2 1823.3,343.9 1823.6,350.8 1823.9,357.9 1824.2,365.0 1824.5,372.3 1824.8,379.7 1825.1,387.2 1825.5,394.7 1825.8,402.2 1826.1,409.7 1826.4,417.2 1826.7,424.6 1827.0,431.9 1827.3,439.1 1827.6,446.2 1827.9,453.1 1828.2,459.8 1828.6,466.4 1828.9,472.7 1829.2,478.7 1829.5,484.5 1829.8,490.0 1830.1,495.1 1830.4,500.0 1830.7,504.5 1831.0,508.6 1831.3,512.4 1831.6,515.8 1832.0,518.8 1832.3,521.4 1832.6,523.6 1832.9,525.3 1833.2,526.6 1833.5,527.5 1833.8,528.0 1834.1,527.9 1834.4,527.4 1834.7,526.4 1835.1,525.0 1835.4,523.2 1835.7,520.9 1836.0,518.3 1836.3,515.3 1836.6,511.8 1836.9,508.0 1837.2,503.8 1837.5,499.3 1837.8,494.4 1838.2,489.3 1838.5,483.8 1838.8,478.0 1839.1,472.0 1839.4,465.8 1839.7,459.3 1840.0,452.6 1840.3,445.8 1840.6,438.8 1840.9,431.7 1841.2,424.5 1841.6,417.3 1841.9,409.9 1842.2,402.6 1842.5,395.2 1842.8,387.9 1843.1,380.6 1843.4,373.4 1843.7,366.3 1844.0,359.4 1844.3,352.6 1844.7,345.9 1845.0,339.5 1845.3,333.2 1845.6,327.2 1845.9,321.5 1846.2,316.0 1846.5,310.8 1846.8,306.0 1847.1,301.4 1847.4,297.3 1847.8,293.4 1848.1,290.0 1848.4,286.8 1848.7,284.1 1849.0,281.7 1849.3,279.7 1849.6,278.2 1849.9,277.0 1850.2,276.3 1850.5,276.0 1850.9,276.2 1851.2,276.8 1851.5,277.7 1851.8,279.2 1852.1,281.0 1852.4,283.2 1852.7,285.8 1853.0,288.9 1853.3,292.3 1853.6,296.0 1853.9,300.2 1854.3,304.6 1854.6,309.4 1854.9,314.5 1855.2,319.9 1855.5,325.6 1855.8,331.5 1856.1,337.6 1856.4,344.0 1856.7,350.5 1857.0,357.3 1857.4,364.1 1857.7,371.1 1858.0,378.2 1858.3,385.3 1858.6,392.5 1858.9,399.7 1859.2,406.9 1859.5,414.1 1859.8,421.2 1860.1,428.2 1860.5,435.2 1860.8,442.0 1861.1,448.7 1861.4,455.2 1861.7,461.5 1862.0,467.5 1862.3,473.4 1862.6,479.0 1862.9,484.3 1863.2,489.3 1863.5,494.0 1863.9,498.4 1864.2,502.4 1864.5,506.1 1864.8,509.4 1865.1,512.3 1865.4,514.9 1865.7,517.0 1866.0,518.7 1866.3,520.0 1866.6,521.0 1867.0,521.5 1867.3,521.6 1867.6,521.2 1867.9,520.5 1868.2,519.3 1868.5,517.7 1868.8,515.7 1869.1,513.3 1869.4,510.5 1869.7,507.3 1870.1,503.8 1870.4,499.8 1870.7,495.5 1871.0,490.9 1871.3,486.0 1871.6,480.7 1871.9,475.2 1872.2,469.4 1872.5,463.4 1872.8,457.1 1873.2,450.6 1873.5,444.0 1873.8,437.1 1874.1,430.2 1874.4,423.1 1874.7,415.9 1875.0,408.7 1875.3,401.4 1875.6,394.2 1875.9,386.9 1876.2,379.6 1876.6,372.5 1876.9,365.4 1877.2,358.4 1877.5,351.5 1877.8,344.8 1878.1,338.3 1878.4,332.0 1878.7,325.8 1879.0,320.0 1879.3,314.4 1879.7,309.1 1880.0,304.0 1880.3,299.3 1880.6,295.0 1880.9,291.0 1881.2,287.3 1881.5,284.0 1881.8,281.1 1882.1,278.6 1882.4,276.5 1882.8,274.8 1883.1,273.6 1883.4,272.8 1883.7,272.4 1884.0,272.4 1884.3,272.9 1884.6,273.7 1884.9,275.1 1885.2,276.8 1885.5,278.9 1885.8,281.4 1886.2,284.4 1886.5,287.7 1886.8,291.4 1887.1,295.4 1887.4,299.8 1887.7,304.5 1888.0,309.6 1888.3,314.9 1888.6,320.5 1888.9,326.4 1889.3,332.5 1889.6,338.8 1889.9,345.4 1890.2,352.1 1890.5,358.9 1890.8,365.9 1891.1,373.0 1891.4,380.2 1891.7,387.4 1892.0,394.6 1892.4,401.9 1892.7,409.1 1893.0,416.3 1893.3,423.5 1893.6,430.5 1893.9,437.4 1894.2,444.2 1894.5,450.8 1894.8,457.2 1895.1,463.4 1895.5,469.4 1895.8,475.1 1896.1,480.6 1896.4,485.8 1896.7,490.6 1897.0,495.2 1897.3,499.4 1897.6,503.2 1897.9,506.7 1898.2,509.8 1898.5,512.5 1898.9,514.8 1899.2,516.7 1899.5,518.2 1899.8,519.3 1900.1,520.0 1900.4,520.3 1900.7,520.2 1901.0,519.6 1901.3,518.6 1901.6,517.2 1902.0,515.4 1902.3,513.2 1902.6,510.6 1902.9,507.5 1903.2,504.1 1903.5,500.4 1903.8,496.2 1904.1,491.8 1904.4,487.0 1904.7,481.8 1905.1,476.4 1905.4,470.8 1905.7,464.8 1906.0,458.7 1906.3,452.3 1906.6,445.7 1906.9,438.9 1907.2,432.0 1907.5,425.0 1907.8,417.9 1908.1,410.7 1908.5,403.5 1908.8,396.2 1909.1,389.0 1909.4,381.7 1909.7,374.5 1910.0,367.4 1910.3,360.4 1910.6,353.5 1910.9,346.7 1911.2,340.2 1911.6,333.8 1911.9,327.6 1912.2,321.7 1912.5,316.0 1912.8,310.6 1913.1,305.5 1913.4,300.7 1913.7,296.2 1914.0,292.1 1914.3,288.3 1914.7,284.9 1915.0,281.9 1915.3,279.3 1915.6,277.1 1915.9,275.3 1916.2,273.9 1916.5,273.0 1916.8,272.4 1917.1,272.3 1917.4,272.6 1917.8,273.4 1918.1,274.5 1918.4,276.1 1918.7,278.1 1919.0,280.6 1919.3,283.4 1919.6,286.6 1919.9,290.2 1920.2,294.1 1920.5,298.4 1920.8,303.1 1921.2,308.1 1921.5,313.4 1921.8,319.0 1922.1,324.8 1922.4,330.9 1922.7,337.3 1923.0,343.8 1923.3,350.5 1923.6,357.4 1923.9,364.5 1924.3,371.6 1924.6,378.9 1924.9,386.2 1925.2,393.5 1925.5,400.9 1925.8,408.2 1926.1,415.6 1926.4,422.8 1926.7,430.0 1927.0,437.1 1927.4,444.1 1927.7,450.9 1928.0,457.5 1928.3,463.9 1928.6,470.1 1928.9,476.0 1929.2,481.7 1929.5,487.1 1929.8,492.2 1930.1,496.9 1930.4,501.4 1930.8,505.4 1931.1,509.2 1931.4,512.5 1931.7,515.4 1932.0,518.0 1932.3,520.1 1932.6,521.8 1932.9,523.1 1933.2,523.9 1933.5,524.3 1933.9,524.3 1934.2,523.9 1934.5,523.0 1934.8,521.7 1935.1,520.0 1935.4,517.8 1935.7,515.3 1936.0,512.3 1936.3,509.0 1936.6,505.2 1937.0,501.1 1937.3,496.7 1937.6,491.9 1937.9,486.8 1938.2,481.4 1938.5,475.7 1938.8,469.7 1939.1,463.5 1939.4,457.1 1939.7,450.4 1940.1,443.6 1940.4,436.6 1940.7,429.5 1941.0,422.3 1941.3,415.0 1941.6,407.6 1941.9,400.2 1942.2,392.8 1942.5,385.5 1942.8,378.1 1943.1,370.9 1943.5,363.7 1943.8,356.6 1944.1,349.7 1944.4,342.9 1944.7,336.4 1945.0,330.0 1945.3,323.9 1945.6,318.0 1945.9,312.4 1946.2,307.2 1946.6,302.2 1946.9,297.5 1947.2,293.2 1947.5,289.2 1947.8,285.7 1948.1,282.5 1948.4,279.7 1948.7,277.3 1949.0,275.3 1949.3,273.8 1949.7,272.7 1950.0,272.1 1950.3,271.8 1950.6,272.0 1950.9,272.7 1951.2,273.7 1951.5,275.2 1951.8,277.1 1952.1,279.5 1952.4,282.2 1952.7,285.4 1953.1,288.9 1953.4,292.8 1953.7,297.1 1954.0,301.7 1954.3,306.7 1954.6,312.0 1954.9,317.5 1955.2,323.4 1955.5,329.5 1955.8,335.8 1956.2,342.4 1956.5,349.2 1956.8,356.1 1957.1,363.2 1957.4,370.4 1957.7,377.7 1958.0,385.1 1958.3,392.5 1958.6,400.0 1958.9,407.4 1959.3,414.8 1959.6,422.2 1959.9,429.5 1960.2,436.7 1960.5,443.8 1960.8,450.7 1961.1,457.4 1961.4,463.9 1961.7,470.2 1962.0,476.3 1962.3,482.1 1962.7,487.7 1963.0,492.9 1963.3,497.8 1963.6,502.4 1963.9,506.6 1964.2,510.4 1964.5,513.9 1964.8,517.0 1965.1,519.7 1965.4,522.0 1965.8,523.7 1966.1,525.1 1966.4,526.0 1966.7,526.5 1967.0,526.5 1967.3,526.1 1967.6,525.3 1967.9,524.1 1968.2,522.4 1968.5,520.3 1968.9,517.8 1969.2,514.9 1969.5,511.6 1969.8,507.9 1970.1,503.8 1970.4,499.4 1970.7,494.7 1971.0,489.6 1971.3,484.2 1971.6,478.6 1972.0,472.6 1972.3,466.4 1972.6,460.0 1972.9,453.4 1973.2,446.6 1973.5,439.7 1973.8,432.6 1974.1,425.4 1974.4,418.1 1974.7,410.8 1975.0,403.4 1975.4,396.0 1975.7,388.7 1976.0,381.3 1976.3,374.1 1976.6,366.9 1976.9,359.8 1977.2,352.9 1977.5,346.1 1977.8,339.6 1978.1,333.2 1978.5,327.1 1978.8,321.2 1979.1,315.6 1979.4,310.2 1979.7,305.2 1980.0,300.5 1980.3,296.2 1980.6,292.1 1980.9,288.5 1981.2,285.3 1981.6,282.4 1981.9,279.9 1982.2,277.9 1982.5,276.2 1982.8,275.0 1983.1,274.2 1983.4,273.8 1983.7,273.8 1984.0,274.3 1984.3,275.2 1984.6,276.5 1985.0,278.2 1985.3,280.3 1985.6,282.9 1985.9,285.8 1986.2,289.1 1986.5,292.8 1986.8,296.9 1987.1,301.3 1987.4,306.0 1987.7,311.1 1988.1,316.4 1988.4,322.0 1988.7,327.9 1989.0,334.0 1989.3,340.3 1989.6,346.9 1989.9,353.6 1990.2,360.4 1990.5,367.4 1990.8,374.4 1991.2,381.6 1991.5,388.8 1991.8,396.0 1992.1,403.2 1992.4,410.5 1992.7,417.6 1993.0,424.7 1993.3,431.7 1993.6,438.6 1993.9,445.3 1994.3,451.9 1994.6,458.2 1994.9,464.4 1995.2,470.3 1995.5,476.0 1995.8,481.4 1996.1,486.5 1996.4,491.3 1996.7,495.8 1997.0,500.0 1997.3,503.8 1997.7,507.2 1998.0,510.2 1998.3,512.9 1998.6,515.2 1998.9,517.0 1999.2,518.4 1999.5,519.5 1999.8,520.1 2000.1,520.3 2000.4,520.1 2000.8,519.5 2001.1,518.5 2001.4,517.1 2001.7,515.3 2002.0,513.1 2002.3,510.4 2002.6,507.4 2002.9,504.0 2003.2,500.3 2003.5,496.2 2003.9,491.7 2004.2,486.9 2004.5,481.9 2004.8,476.5 2005.1,470.8 2005.4,464.9 2005.7,458.8 2006.0,452.4 2006.3,445.9 2006.6,439.2 2006.9,432.3 2007.3,425.4 2007.6,418.3 2007.9,411.1 2008.2,404.0 2008.5,396.7 2008.8,389.5 2009.1,382.3 2009.4,375.2 2009.7,368.1 2010.0,361.1 2010.4,354.3 2010.7,347.6 2011.0,341.1 2011.3,334.7 2011.6,328.6 2011.9,322.7 2012.2,317.1 2012.5,311.7 2012.8,306.6 2013.1,301.9 2013.5,297.4 2013.8,293.3 2014.1,289.6 2014.4,286.2 2014.7,283.3 2015.0,280.7 2015.3,278.5 2015.6,276.7 2015.9,275.3 2016.2,274.3 2016.6,273.7 2016.9,273.5 2017.2,273.8 2017.5,274.5 2017.8,275.6 2018.1,277.1 2018.4,279.1 2018.7,281.4 2019.0,284.2 2019.3,287.3 2019.6,290.8 2020.0,294.7 2020.3,298.9 2020.6,303.5 2020.9,308.4 2021.2,313.7 2021.5,319.2 2021.8,325.0 2022.1,331.0 2022.4,337.3 2022.7,343.7 2023.1,350.4 2023.4,357.2 2023.7,364.2 2024.0,371.3 2024.3,378.5 2024.6,385.8 2024.9,393.1 2025.2,400.4 2025.5,407.7 2025.8,415.0 2026.2,422.2 2026.5,429.4 2026.8,436.4 2027.1,443.4 2027.4,450.1 2027.7,456.7 2028.0,463.1 2028.3,469.3 2028.6,475.2 2028.9,480.8 2029.2,486.2 2029.6,491.3 2029.9,496.1 2030.2,500.5 2030.5,504.6 2030.8,508.3 2031.1,511.6 2031.4,514.5 2031.7,517.1 2032.0,519.2 2032.3,520.9 2032.7,522.2 2033.0,523.0 2033.3,523.4 2033.6,523.3 2033.9,522.8 2034.2,521.9 2034.5,520.6 2034.8,518.8 2035.1,516.6 2035.4,514.0 2035.8,511.0 2036.1,507.6 2036.4,503.8 2036.7,499.6 2037.0,495.1 2037.3,490.3 2037.6,485.1 2037.9,479.6 2038.2,473.9 2038.5,467.8 2038.9,461.5 2039.2,455.0 2039.5,448.3 2039.8,441.4 2040.1,434.4 2040.4,427.2 2040.7,419.9 2041.0,412.5 2041.3,405.1 2041.6,397.6 2041.9,390.1 2042.3,382.7 2042.6,375.2 2042.9,367.9 2043.2,360.6 2043.5,353.5 2043.8,346.5 2044.1,339.6 2044.4,333.0 2044.7,326.5 2045.0,320.3 2045.4,314.4 2045.7,308.7 2046.0,303.3 2046.3,298.3 2046.6,293.5 2046.9,289.1 2047.2,285.1 2047.5,281.5 2047.8,278.2 2048.1,275.3 2048.5,272.9 2048.8,270.8 2049.1,269.2 2049.4,268.0 2049.7,267.3 2050.0,267.0" fill="none" stroke="#FFC000" stroke-width="10" stroke-linejoin="round" stroke-linecap="round" stroke-dasharray="57 44"/>
<rect x="1635.6" y="52.3" width="402.7" height="124.7" fill="#fff" stroke="#000" stroke-width="5"/>
<line x1="1648.7" y1="84.4" x2="1835.1" y2="84.4" stroke="#000" stroke-width="7" stroke-linecap="round"/>
<line x1="1648.7" y1="145.2" x2="1835.1" y2="145.2" stroke="#FFC000" stroke-width="7" stroke-linecap="round" stroke-dasharray="37.8 28.3"/>
<text x="1860" y="102.9" class="lb">DCM</text>
<text x="1860" y="164.8" class="lb">ROM</text>
<path d="M1557.5,566.4 L1739.9,566.4 L1739.9,207.9 L1557.5,207.9 Z" fill="none" stroke="#0022EE" stroke-width="3.8" stroke-dasharray="12.2 4.3"/>
<line x1="751.8" y1="537.6" x2="1534" y2="551" stroke="#0022EE" stroke-width="4" stroke-dasharray="12 4.5"/>
<path d="M1557,551.8 L1532.3,539.2 Q1536,551.8 1532.3,564.4 Z" fill="#0022EE"/>
<text x="258.4" y="502.9" class="an">Zoom in on the curve</text>
<text x="259.2" y="568.6" class="an">inside the dashed box</text>
<text x="1121" y="796" text-anchor="middle" class="lb">Time (s)</text>
<text transform="translate(62.5,341) rotate(-90)" text-anchor="middle" class="lb" style="font-size:57px">Voltage (V)</text>
<text x="350.7" y="927" class="cap" textLength="1405" lengthAdjust="spacingAndGlyphs">(<tspan font-weight="bold">a</tspan>) The time ranges from 0.08 s to 0.2 s</text>
<line x1="190" y1="1595.0" x2="210" y2="1595.0" stroke="#222222" stroke-width="3.6"/>
<line x1="190" y1="1476.4" x2="210" y2="1476.4" stroke="#222222" stroke-width="3.6"/>
<line x1="190" y1="1357.8" x2="210" y2="1357.8" stroke="#222222" stroke-width="3.6"/>
<line x1="190" y1="1239.2" x2="210" y2="1239.2" stroke="#222222" stroke-width="3.6"/>
<line x1="190" y1="1120.6" x2="210" y2="1120.6" stroke="#222222" stroke-width="3.6"/>
<line x1="190" y1="1002.0" x2="210" y2="1002.0" stroke="#222222" stroke-width="3.6"/>
<line x1="190.0" y1="1595" x2="190.0" y2="1576" stroke="#222222" stroke-width="3.6"/>
<line x1="374.8" y1="1595" x2="374.8" y2="1576" stroke="#222222" stroke-width="3.6"/>
<line x1="559.6" y1="1595" x2="559.6" y2="1576" stroke="#222222" stroke-width="3.6"/>
<line x1="744.4" y1="1595" x2="744.4" y2="1576" stroke="#222222" stroke-width="3.6"/>
<line x1="929.2" y1="1595" x2="929.2" y2="1576" stroke="#222222" stroke-width="3.6"/>
<line x1="1114.0" y1="1595" x2="1114.0" y2="1576" stroke="#222222" stroke-width="3.6"/>
<line x1="1298.8" y1="1595" x2="1298.8" y2="1576" stroke="#222222" stroke-width="3.6"/>
<line x1="1483.6" y1="1595" x2="1483.6" y2="1576" stroke="#222222" stroke-width="3.6"/>
<line x1="1668.4" y1="1595" x2="1668.4" y2="1576" stroke="#222222" stroke-width="3.6"/>
<line x1="1853.2" y1="1595" x2="1853.2" y2="1576" stroke="#222222" stroke-width="3.6"/>
<line x1="2038.0" y1="1595" x2="2038.0" y2="1576" stroke="#222222" stroke-width="3.6"/>
<rect x="190" y="1002" width="1848" height="593" fill="none" stroke="#222222" stroke-width="3.8"/>
<text x="176.5" y="1615.0" text-anchor="end" class="tk">180</text>
<text x="176.5" y="1496.4" text-anchor="end" class="tk">185</text>
<text x="176.5" y="1377.8" text-anchor="end" class="tk">190</text>
<text x="176.5" y="1259.2" text-anchor="end" class="tk">195</text>
<text x="176.5" y="1140.6" text-anchor="end" class="tk">200</text>
<text x="176.5" y="1022.0" text-anchor="end" class="tk">205</text>
<text x="190.5" y="1677.5" text-anchor="middle" class="tk">0.17</text>
<text x="371.6" y="1677.5" text-anchor="middle" class="tk">0.171</text>
<text x="561.8" y="1677.5" text-anchor="middle" class="tk">0.172</text>
<text x="744.4" y="1677.5" text-anchor="middle" class="tk">0.173</text>
<text x="932.0" y="1677.5" text-anchor="middle" class="tk">0.174</text>
<text x="1115.0" y="1677.5" text-anchor="middle" class="tk">0.175</text>
<text x="1298.7" y="1677.5" text-anchor="middle" class="tk">0.176</text>
<text x="1486.0" y="1677.5" text-anchor="middle" class="tk">0.177</text>
<text x="1669.0" y="1677.5" text-anchor="middle" class="tk">0.178</text>
<text x="1856.8" y="1677.5" text-anchor="middle" class="tk">0.179</text>
<text x="2037.8" y="1677.5" text-anchor="middle" class="tk">0.18</text>
<path d="M190.0,1155.7 190.6,1155.6 191.2,1155.4 191.8,1155.3 192.5,1155.2 193.1,1155.1 193.7,1155.0 194.3,1155.0 194.9,1154.9 195.5,1154.9 196.2,1154.9 196.8,1154.9 197.4,1154.9 198.0,1154.9 198.6,1154.9 199.2,1155.0 199.9,1155.0 200.5,1155.1 201.1,1155.2 201.7,1155.3 202.3,1155.5 202.9,1155.6 203.6,1155.8 204.2,1155.9 204.8,1156.1 205.4,1156.3 206.0,1156.5 206.6,1156.8 207.3,1157.0 207.9,1157.2 208.5,1157.5 209.1,1157.8 209.7,1158.1 210.3,1158.4 211.0,1158.7 211.6,1159.1 212.2,1159.4 212.8,1159.8 213.4,1160.2 214.0,1160.6 214.6,1161.0 215.3,1161.4 215.9,1161.8 216.5,1162.3 217.1,1162.7 217.7,1163.2 218.3,1163.7 219.0,1164.2 219.6,1164.7 220.2,1165.3 220.8,1165.8 221.4,1166.4 222.0,1166.9 222.7,1167.5 223.3,1168.1 223.9,1168.7 224.5,1169.3 225.1,1170.0 225.7,1170.6 226.4,1171.3 227.0,1171.9 227.6,1172.6 228.2,1173.3 228.8,1174.0 229.4,1174.7 230.1,1175.5 230.7,1176.2 231.3,1177.0 231.9,1177.7 232.5,1178.5 233.1,1179.3 233.8,1180.1 234.4,1180.9 235.0,1181.8 235.6,1182.6 236.2,1183.5 236.8,1184.3 237.4,1185.2 238.1,1186.1 238.7,1187.0 239.3,1187.9 239.9,1188.8 240.5,1189.7 241.1,1190.7 241.8,1191.6 242.4,1192.6 243.0,1193.5 243.6,1194.5 244.2,1195.5 244.8,1196.5 245.5,1197.5 246.1,1198.6 246.7,1199.6 247.3,1200.6 247.9,1201.7 248.5,1202.7 249.2,1203.8 249.8,1204.9 250.4,1206.0 251.0,1207.1 251.6,1208.2 252.2,1209.3 252.9,1210.4 253.5,1211.6 254.1,1212.7 254.7,1213.9 255.3,1215.0 255.9,1216.2 256.6,1217.4 257.2,1218.6 257.8,1219.8 258.4,1221.0 259.0,1222.2 259.6,1223.4 260.2,1224.6 260.9,1225.8 261.5,1227.1 262.1,1228.3 262.7,1229.6 263.3,1230.8 263.9,1232.1 264.6,1233.4 265.2,1234.7 265.8,1236.0 266.4,1237.3 267.0,1238.6 267.6,1239.9 268.3,1241.2 268.9,1242.5 269.5,1243.8 270.1,1245.1 270.7,1246.5 271.3,1247.8 272.0,1249.2 272.6,1250.5 273.2,1251.9 273.8,1253.2 274.4,1254.6 275.0,1256.0 275.7,1257.3 276.3,1258.7 276.9,1260.1 277.5,1261.5 278.1,1262.9 278.7,1264.3 279.3,1265.7 280.0,1267.1 280.6,1268.5 281.2,1269.9 281.8,1271.3 282.4,1272.7 283.0,1274.1 283.7,1275.5 284.3,1277.0 284.9,1278.4 285.5,1279.8 286.1,1281.2 286.7,1282.7 287.4,1284.1 288.0,1285.5 288.6,1287.0 289.2,1288.4 289.8,1289.8 290.4,1291.3 291.1,1292.7 291.7,1294.2 292.3,1295.6 292.9,1297.0 293.5,1298.5 294.1,1299.9 294.8,1301.4 295.4,1302.8 296.0,1304.3 296.6,1305.7 297.2,1307.1 297.8,1308.6 298.5,1310.0 299.1,1311.5 299.7,1312.9 300.3,1314.3 300.9,1315.8 301.5,1317.2 302.1,1318.7 302.8,1320.1 303.4,1321.5 304.0,1323.0 304.6,1324.4 305.2,1325.8 305.8,1327.2 306.5,1328.7 307.1,1330.1 307.7,1331.5 308.3,1332.9 308.9,1334.3 309.5,1335.7 310.2,1337.1 310.8,1338.5 311.4,1339.9 312.0,1341.3 312.6,1342.7 313.2,1344.1 313.9,1345.5 314.5,1346.8 315.1,1348.2 315.7,1349.6 316.3,1351.0 316.9,1352.3 317.6,1353.7 318.2,1355.0 318.8,1356.4 319.4,1357.7 320.0,1359.0 320.6,1360.4 321.3,1361.7 321.9,1363.0 322.5,1364.3 323.1,1365.6 323.7,1366.9 324.3,1368.2 324.9,1369.5 325.6,1370.8 326.2,1372.1 326.8,1373.3 327.4,1374.6 328.0,1375.8 328.6,1377.1 329.3,1378.3 329.9,1379.6 330.5,1380.8 331.1,1382.0 331.7,1383.2 332.3,1384.4 333.0,1385.6 333.6,1386.8 334.2,1388.0 334.8,1389.1 335.4,1390.3 336.0,1391.4 336.7,1392.6 337.3,1393.7 337.9,1394.9 338.5,1396.0 339.1,1397.1 339.7,1398.2 340.4,1399.3 341.0,1400.3 341.6,1401.4 342.2,1402.5 342.8,1403.5 343.4,1404.6 344.1,1405.6 344.7,1406.6 345.3,1407.6 345.9,1408.6 346.5,1409.6 347.1,1410.6 347.7,1411.6 348.4,1412.6 349.0,1413.5 349.6,1414.4 350.2,1415.4 350.8,1416.3 351.4,1417.2 352.1,1418.1 352.7,1419.0 353.3,1419.9 353.9,1420.7 354.5,1421.6 355.1,1422.4 355.8,1423.2 356.4,1424.1 357.0,1424.9 357.6,1425.7 358.2,1426.4 358.8,1427.2 359.5,1428.0 360.1,1428.7 360.7,1429.5 361.3,1430.2 361.9,1430.9 362.5,1431.6 363.2,1432.3 363.8,1432.9 364.4,1433.6 365.0,1434.2 365.6,1434.9 366.2,1435.5 366.9,1436.1 367.5,1436.7 368.1,1437.3 368.7,1437.9 369.3,1438.4 369.9,1439.0 370.5,1439.5 371.2,1440.0 371.8,1440.5 372.4,1441.0 373.0,1441.5 373.6,1442.0 374.2,1442.4 374.9,1442.8 375.5,1443.3 376.1,1443.7 376.7,1444.1 377.3,1444.5 377.9,1444.8 378.6,1445.2 379.2,1445.5 379.8,1445.9 380.4,1446.2 381.0,1446.5 381.6,1446.8 382.3,1447.0 382.9,1447.3 383.5,1447.6 384.1,1447.8 384.7,1448.0 385.3,1448.2 386.0,1448.4 386.6,1448.6 387.2,1448.7 387.8,1448.9 388.4,1449.0 389.0,1449.1 389.7,1449.3 390.3,1449.3 390.9,1449.4 391.5,1449.5 392.1,1449.5 392.7,1449.6 393.3,1449.6 394.0,1449.6 394.6,1449.6 395.2,1449.6 395.8,1449.5 396.4,1449.5 397.0,1449.4 397.7,1449.3 398.3,1449.2 398.9,1449.1 399.5,1449.0 400.1,1448.9 400.7,1448.7 401.4,1448.5 402.0,1448.4 402.6,1448.2 403.2,1448.0 403.8,1447.7 404.4,1447.5 405.1,1447.3 405.7,1447.0 406.3,1446.7 406.9,1446.4 407.5,1446.1 408.1,1445.8 408.8,1445.5 409.4,1445.1 410.0,1444.8 410.6,1444.4 411.2,1444.0 411.8,1443.6 412.5,1443.2 413.1,1442.8 413.7,1442.3 414.3,1441.9 414.9,1441.4 415.5,1440.9 416.1,1440.4 416.8,1439.9 417.4,1439.4 418.0,1438.9 418.6,1438.3 419.2,1437.8 419.8,1437.2 420.5,1436.6 421.1,1436.0 421.7,1435.4 422.3,1434.8 422.9,1434.1 423.5,1433.5 424.2,1432.8 424.8,1432.1 425.4,1431.4 426.0,1430.8 426.6,1430.0 427.2,1429.3 427.9,1428.6 428.5,1427.8 429.1,1427.1 429.7,1426.3 430.3,1425.5 430.9,1424.7 431.6,1423.9 432.2,1423.1 432.8,1422.3 433.4,1421.4 434.0,1420.6 434.6,1419.7 435.2,1418.8 435.9,1417.9 436.5,1417.0 437.1,1416.1 437.7,1415.2 438.3,1414.3 438.9,1413.3 439.6,1412.4 440.2,1411.4 440.8,1410.4 441.4,1409.4 442.0,1408.4 442.6,1407.4 443.3,1406.4 443.9,1405.4 444.5,1404.4 445.1,1403.3 445.7,1402.3 446.3,1401.2 447.0,1400.1 447.6,1399.0 448.2,1398.0 448.8,1396.9 449.4,1395.7 450.0,1394.6 450.7,1393.5 451.3,1392.4 451.9,1391.2 452.5,1390.1 453.1,1388.9 453.7,1387.7 454.4,1386.5 455.0,1385.3 455.6,1384.2 456.2,1382.9 456.8,1381.7 457.4,1380.5 458.0,1379.3 458.7,1378.1 459.3,1376.8 459.9,1375.6 460.5,1374.3 461.1,1373.0 461.7,1371.8 462.4,1370.5 463.0,1369.2 463.6,1367.9 464.2,1366.6 464.8,1365.3 465.4,1364.0 466.1,1362.7 466.7,1361.4 467.3,1360.1 467.9,1358.7 468.5,1357.4 469.1,1356.1 469.8,1354.7 470.4,1353.4 471.0,1352.0 471.6,1350.6 472.2,1349.3 472.8,1347.9 473.5,1346.5 474.1,1345.1 474.7,1343.8 475.3,1342.4 475.9,1341.0 476.5,1339.6 477.2,1338.2 477.8,1336.8 478.4,1335.4 479.0,1334.0 479.6,1332.5 480.2,1331.1 480.8,1329.7 481.5,1328.3 482.1,1326.9 482.7,1325.4 483.3,1324.0 483.9,1322.6 484.5,1321.1 485.2,1319.7 485.8,1318.3 486.4,1316.8 487.0,1315.4 487.6,1313.9 488.2,1312.5 488.9,1311.1 489.5,1309.6 490.1,1308.2 490.7,1306.7 491.3,1305.3 491.9,1303.8 492.6,1302.4 493.2,1300.9 493.8,1299.5 494.4,1298.0 495.0,1296.6 495.6,1295.1 496.3,1293.7 496.9,1292.2 497.5,1290.8 498.1,1289.4 498.7,1287.9 499.3,1286.5 500.0,1285.0 500.6,1283.6 501.2,1282.2 501.8,1280.7 502.4,1279.3 503.0,1277.8 503.6,1276.4 504.3,1275.0 504.9,1273.6 505.5,1272.1 506.1,1270.7 506.7,1269.3 507.3,1267.9 508.0,1266.5 508.6,1265.1 509.2,1263.7 509.8,1262.3 510.4,1260.9 511.0,1259.5 511.7,1258.1 512.3,1256.7 512.9,1255.3 513.5,1253.9 514.1,1252.6 514.7,1251.2 515.4,1249.8 516.0,1248.5 516.6,1247.1 517.2,1245.8 517.8,1244.4 518.4,1243.1 519.1,1241.8 519.7,1240.4 520.3,1239.1 520.9,1237.8 521.5,1236.5 522.1,1235.2 522.8,1233.9 523.4,1232.6 524.0,1231.3 524.6,1230.0 525.2,1228.8 525.8,1227.5 526.4,1226.3 527.1,1225.0 527.7,1223.8 528.3,1222.5 528.9,1221.3 529.5,1220.1 530.1,1218.9 530.8,1217.7 531.4,1216.5 532.0,1215.3 532.6,1214.1 533.2,1212.9 533.8,1211.7 534.5,1210.6 535.1,1209.4 535.7,1208.3 536.3,1207.2 536.9,1206.0 537.5,1204.9 538.2,1203.8 538.8,1202.7 539.4,1201.6 540.0,1200.6 540.6,1199.5 541.2,1198.4 541.9,1197.4 542.5,1196.4 543.1,1195.3 543.7,1194.3 544.3,1193.3 544.9,1192.3 545.6,1191.3 546.2,1190.3 546.8,1189.4 547.4,1188.4 548.0,1187.5 548.6,1186.5 549.2,1185.6 549.9,1184.7 550.5,1183.8 551.1,1182.9 551.7,1182.0 552.3,1181.1 552.9,1180.3 553.6,1179.4 554.2,1178.6 554.8,1177.8 555.4,1177.0 556.0,1176.1 556.6,1175.4 557.3,1174.6 557.9,1173.8 558.5,1173.1 559.1,1172.3 559.7,1171.6 560.3,1170.9 561.0,1170.2 561.6,1169.5 562.2,1168.8 562.8,1168.1 563.4,1167.5 564.0,1166.8 564.7,1166.2 565.3,1165.6 565.9,1165.0 566.5,1164.4 567.1,1163.8 567.7,1163.2 568.4,1162.7 569.0,1162.1 569.6,1161.6 570.2,1161.1 570.8,1160.6 571.4,1160.1 572.0,1159.6 572.7,1159.1 573.3,1158.7 573.9,1158.3 574.5,1157.8 575.1,1157.4 575.7,1157.0 576.4,1156.6 577.0,1156.3 577.6,1155.9 578.2,1155.6 578.8,1155.2 579.4,1154.9 580.1,1154.6 580.7,1154.3 581.3,1154.1 581.9,1153.8 582.5,1153.6 583.1,1153.3 583.8,1153.1 584.4,1152.9 585.0,1152.7 585.6,1152.5 586.2,1152.4 586.8,1152.2 587.5,1152.1 588.1,1152.0 588.7,1151.8 589.3,1151.8 589.9,1151.7 590.5,1151.6 591.1,1151.6 591.8,1151.5 592.4,1151.5 593.0,1151.5 593.6,1151.5 594.2,1151.5 594.8,1151.5 595.5,1151.6 596.1,1151.6 596.7,1151.7 597.3,1151.8 597.9,1151.9 598.5,1152.0 599.2,1152.1 599.8,1152.2 600.4,1152.4 601.0,1152.5 601.6,1152.7 602.2,1152.9 602.9,1153.1 603.5,1153.3 604.1,1153.6 604.7,1153.8 605.3,1154.1 605.9,1154.3 606.6,1154.6 607.2,1154.9 607.8,1155.2 608.4,1155.5 609.0,1155.9 609.6,1156.2 610.3,1156.6 610.9,1157.0 611.5,1157.4 612.1,1157.8 612.7,1158.2 613.3,1158.6 613.9,1159.1 614.6,1159.5 615.2,1160.0 615.8,1160.5 616.4,1161.0 617.0,1161.5 617.6,1162.0 618.3,1162.5 618.9,1163.1 619.5,1163.7 620.1,1164.2 620.7,1164.8 621.3,1165.4 622.0,1166.0 622.6,1166.7 623.2,1167.3 623.8,1167.9 624.4,1168.6 625.0,1169.3 625.7,1170.0 626.3,1170.7 626.9,1171.4 627.5,1172.1 628.1,1172.8 628.7,1173.6 629.4,1174.3 630.0,1175.1 630.6,1175.9 631.2,1176.7 631.8,1177.5 632.4,1178.3 633.1,1179.1 633.7,1179.9 634.3,1180.8 634.9,1181.6 635.5,1182.5 636.1,1183.4 636.7,1184.3 637.4,1185.2 638.0,1186.1 638.6,1187.0 639.2,1188.0 639.8,1188.9 640.4,1189.9 641.1,1190.8 641.7,1191.8 642.3,1192.8 642.9,1193.8 643.5,1194.8 644.1,1195.8 644.8,1196.8 645.4,1197.8 646.0,1198.9 646.6,1199.9 647.2,1201.0 647.8,1202.1 648.5,1203.1 649.1,1204.2 649.7,1205.3 650.3,1206.4 650.9,1207.5 651.5,1208.7 652.2,1209.8 652.8,1210.9 653.4,1212.1 654.0,1213.2 654.6,1214.4 655.2,1215.6 655.9,1216.7 656.5,1217.9 657.1,1219.1 657.7,1220.3 658.3,1221.5 658.9,1222.7 659.5,1224.0 660.2,1225.2 660.8,1226.4 661.4,1227.7 662.0,1228.9 662.6,1230.2 663.2,1231.4 663.9,1232.7 664.5,1234.0 665.1,1235.2 665.7,1236.5 666.3,1237.8 666.9,1239.1 667.6,1240.4 668.2,1241.7 668.8,1243.0 669.4,1244.3 670.0,1245.7 670.6,1247.0 671.3,1248.3 671.9,1249.7 672.5,1251.0 673.1,1252.3 673.7,1253.7 674.3,1255.0 675.0,1256.4 675.6,1257.7 676.2,1259.1 676.8,1260.5 677.4,1261.8 678.0,1263.2 678.7,1264.6 679.3,1266.0 679.9,1267.3 680.5,1268.7 681.1,1270.1 681.7,1271.5 682.3,1272.9 683.0,1274.3 683.6,1275.7 684.2,1277.1 684.8,1278.5 685.4,1279.9 686.0,1281.3 686.7,1282.7 687.3,1284.1 687.9,1285.5 688.5,1286.9 689.1,1288.3 689.7,1289.7 690.4,1291.1 691.0,1292.5 691.6,1293.9 692.2,1295.3 692.8,1296.7 693.4,1298.2 694.1,1299.6 694.7,1301.0 695.3,1302.4 695.9,1303.8 696.5,1305.2 697.1,1306.6 697.8,1308.0 698.4,1309.4 699.0,1310.8 699.6,1312.2 700.2,1313.6 700.8,1315.0 701.5,1316.4 702.1,1317.8 702.7,1319.2 703.3,1320.5 703.9,1321.9 704.5,1323.3 705.1,1324.7 705.8,1326.1 706.4,1327.4 707.0,1328.8 707.6,1330.2 708.2,1331.5 708.8,1332.9 709.5,1334.2 710.1,1335.6 710.7,1336.9 711.3,1338.3 711.9,1339.6 712.5,1341.0 713.2,1342.3 713.8,1343.6 714.4,1344.9 715.0,1346.3 715.6,1347.6 716.2,1348.9 716.9,1350.2 717.5,1351.5 718.1,1352.8 718.7,1354.1 719.3,1355.3 719.9,1356.6 720.6,1357.9 721.2,1359.1 721.8,1360.4 722.4,1361.6 723.0,1362.9 723.6,1364.1 724.3,1365.4 724.9,1366.6 725.5,1367.8 726.1,1369.0 726.7,1370.2 727.3,1371.4 727.9,1372.6 728.6,1373.8 729.2,1374.9 729.8,1376.1 730.4,1377.3 731.0,1378.4 731.6,1379.5 732.3,1380.7 732.9,1381.8 733.5,1382.9 734.1,1384.0 734.7,1385.1 735.3,1386.2 736.0,1387.3 736.6,1388.4 737.2,1389.4 737.8,1390.5 738.4,1391.5 739.0,1392.6 739.7,1393.6 740.3,1394.6 740.9,1395.6 741.5,1396.6 742.1,1397.6 742.7,1398.6 743.4,1399.5 744.0,1400.5 744.6,1401.5 745.2,1402.4 745.8,1403.3 746.4,1404.2 747.0,1405.1 747.7,1406.0 748.3,1406.9 748.9,1407.8 749.5,1408.7 750.1,1409.5 750.7,1410.3 751.4,1411.2 752.0,1412.0 752.6,1412.8 753.2,1413.6 753.8,1414.4 754.4,1415.2 755.1,1415.9 755.7,1416.7 756.3,1417.4 756.9,1418.1 757.5,1418.8 758.1,1419.5 758.8,1420.2 759.4,1420.9 760.0,1421.6 760.6,1422.2 761.2,1422.9 761.8,1423.5 762.5,1424.1 763.1,1424.7 763.7,1425.3 764.3,1425.9 764.9,1426.5 765.5,1427.0 766.2,1427.6 766.8,1428.1 767.4,1428.6 768.0,1429.1 768.6,1429.6 769.2,1430.1 769.8,1430.5 770.5,1431.0 771.1,1431.4 771.7,1431.8 772.3,1432.3 772.9,1432.7 773.5,1433.0 774.2,1433.4 774.8,1433.8 775.4,1434.1 776.0,1434.4 776.6,1434.8 777.2,1435.1 777.9,1435.4 778.5,1435.6 779.1,1435.9 779.7,1436.1 780.3,1436.4 780.9,1436.6 781.6,1436.8 782.2,1437.0 782.8,1437.2 783.4,1437.4 784.0,1437.5 784.6,1437.7 785.3,1437.8 785.9,1437.9 786.5,1438.0 787.1,1438.1 787.7,1438.1 788.3,1438.2 789.0,1438.2 789.6,1438.3 790.2,1438.3 790.8,1438.3 791.4,1438.3 792.0,1438.3 792.6,1438.2 793.3,1438.2 793.9,1438.1 794.5,1438.0 795.1,1437.9 795.7,1437.8 796.3,1437.7 797.0,1437.6 797.6,1437.5 798.2,1437.3 798.8,1437.2 799.4,1437.0 800.0,1436.8 800.7,1436.6 801.3,1436.4 801.9,1436.1 802.5,1435.9 803.1,1435.6 803.7,1435.3 804.4,1435.1 805.0,1434.8 805.6,1434.4 806.2,1434.1 806.8,1433.8 807.4,1433.4 808.1,1433.0 808.7,1432.7 809.3,1432.3 809.9,1431.9 810.5,1431.4 811.1,1431.0 811.8,1430.6 812.4,1430.1 813.0,1429.6 813.6,1429.1 814.2,1428.6 814.8,1428.1 815.4,1427.6 816.1,1427.0 816.7,1426.5 817.3,1425.9 817.9,1425.3 818.5,1424.8 819.1,1424.1 819.8,1423.5 820.4,1422.9 821.0,1422.3 821.6,1421.6 822.2,1420.9 822.8,1420.3 823.5,1419.6 824.1,1418.9 824.7,1418.1 825.3,1417.4 825.9,1416.7 826.5,1415.9 827.2,1415.2 827.8,1414.4 828.4,1413.6 829.0,1412.8 829.6,1412.0 830.2,1411.2 830.9,1410.3 831.5,1409.5 832.1,1408.6 832.7,1407.8 833.3,1406.9 833.9,1406.0 834.6,1405.1 835.2,1404.2 835.8,1403.3 836.4,1402.3 837.0,1401.4 837.6,1400.4 838.2,1399.5 838.9,1398.5 839.5,1397.5 840.1,1396.5 840.7,1395.5 841.3,1394.5 841.9,1393.5 842.6,1392.5 843.2,1391.4 843.8,1390.4 844.4,1389.3 845.0,1388.2 845.6,1387.1 846.3,1386.1 846.9,1385.0 847.5,1383.8 848.1,1382.7 848.7,1381.6 849.3,1380.5 850.0,1379.3 850.6,1378.2 851.2,1377.0 851.8,1375.8 852.4,1374.7 853.0,1373.5 853.7,1372.3 854.3,1371.1 854.9,1369.9 855.5,1368.7 856.1,1367.5 856.7,1366.2 857.4,1365.0 858.0,1363.7 858.6,1362.5 859.2,1361.2 859.8,1360.0 860.4,1358.7 861.0,1357.4 861.7,1356.1 862.3,1354.9 862.9,1353.6 863.5,1352.3 864.1,1350.9 864.7,1349.6 865.4,1348.3 866.0,1347.0 866.6,1345.7 867.2,1344.3 867.8,1343.0 868.4,1341.6 869.1,1340.3 869.7,1338.9 870.3,1337.6 870.9,1336.2 871.5,1334.8 872.1,1333.5 872.8,1332.1 873.4,1330.7 874.0,1329.3 874.6,1327.9 875.2,1326.5 875.8,1325.2 876.5,1323.8 877.1,1322.4 877.7,1320.9 878.3,1319.5 878.9,1318.1 879.5,1316.7 880.2,1315.3 880.8,1313.9 881.4,1312.5 882.0,1311.0 882.6,1309.6 883.2,1308.2 883.8,1306.8 884.5,1305.3 885.1,1303.9 885.7,1302.5 886.3,1301.0 886.9,1299.6 887.5,1298.2 888.2,1296.7 888.8,1295.3 889.4,1293.9 890.0,1292.4 890.6,1291.0 891.2,1289.5 891.9,1288.1 892.5,1286.7 893.1,1285.2 893.7,1283.8 894.3,1282.4 894.9,1280.9 895.6,1279.5 896.2,1278.1 896.8,1276.6 897.4,1275.2 898.0,1273.8 898.6,1272.3 899.3,1270.9 899.9,1269.5 900.5,1268.1 901.1,1266.6 901.7,1265.2 902.3,1263.8 902.9,1262.4 903.6,1261.0 904.2,1259.6 904.8,1258.2 905.4,1256.8 906.0,1255.4 906.6,1254.0 907.3,1252.6 907.9,1251.2 908.5,1249.8 909.1,1248.4 909.7,1247.1 910.3,1245.7 911.0,1244.3 911.6,1242.9 912.2,1241.6 912.8,1240.2 913.4,1238.9 914.0,1237.5 914.7,1236.2 915.3,1234.9 915.9,1233.5 916.5,1232.2 917.1,1230.9 917.7,1229.6 918.4,1228.3 919.0,1227.0 919.6,1225.7 920.2,1224.4 920.8,1223.1 921.4,1221.8 922.1,1220.5 922.7,1219.3 923.3,1218.0 923.9,1216.8 924.5,1215.5 925.1,1214.3 925.7,1213.1 926.4,1211.8 927.0,1210.6 927.6,1209.4 928.2,1208.2 928.8,1207.0 929.4,1205.8 930.1,1204.7 930.7,1203.5 931.3,1202.3 931.9,1201.2 932.5,1200.0 933.1,1198.9 933.8,1197.8 934.4,1196.7 935.0,1195.5 935.6,1194.4 936.2,1193.4 936.8,1192.3 937.5,1191.2 938.1,1190.1 938.7,1189.1 939.3,1188.0 939.9,1187.0 940.5,1186.0 941.2,1185.0 941.8,1184.0 942.4,1183.0 943.0,1182.0 943.6,1181.0 944.2,1180.0 944.9,1179.1 945.5,1178.2 946.1,1177.2 946.7,1176.3 947.3,1175.4 947.9,1174.5 948.5,1173.6 949.2,1172.7 949.8,1171.9 950.4,1171.0 951.0,1170.2 951.6,1169.3 952.2,1168.5 952.9,1167.7 953.5,1166.9 954.1,1166.1 954.7,1165.3 955.3,1164.6 955.9,1163.8 956.6,1163.1 957.2,1162.4 957.8,1161.7 958.4,1160.9 959.0,1160.3 959.6,1159.6 960.3,1158.9 960.9,1158.3 961.5,1157.6 962.1,1157.0 962.7,1156.4 963.3,1155.8 964.0,1155.2 964.6,1154.6 965.2,1154.1 965.8,1153.5 966.4,1153.0 967.0,1152.4 967.7,1151.9 968.3,1151.4 968.9,1150.9 969.5,1150.5 970.1,1150.0 970.7,1149.6 971.3,1149.1 972.0,1148.7 972.6,1148.3 973.2,1147.9 973.8,1147.5 974.4,1147.2 975.0,1146.8 975.7,1146.5 976.3,1146.2 976.9,1145.9 977.5,1145.6 978.1,1145.3 978.7,1145.0 979.4,1144.7 980.0,1144.5 980.6,1144.3 981.2,1144.1 981.8,1143.9 982.4,1143.7 983.1,1143.5 983.7,1143.3 984.3,1143.2 984.9,1143.1 985.5,1143.0 986.1,1142.9 986.8,1142.8 987.4,1142.7 988.0,1142.6 988.6,1142.6 989.2,1142.5 989.8,1142.5 990.5,1142.5 991.1,1142.5 991.7,1142.6 992.3,1142.6 992.9,1142.6 993.5,1142.7 994.1,1142.8 994.8,1142.9 995.4,1143.0 996.0,1143.2 996.6,1143.3 997.2,1143.5 997.8,1143.6 998.5,1143.8 999.1,1144.0 999.7,1144.3 1000.3,1144.5 1000.9,1144.8 1001.5,1145.0 1002.2,1145.3 1002.8,1145.6 1003.4,1145.9 1004.0,1146.2 1004.6,1146.5 1005.2,1146.9 1005.9,1147.2 1006.5,1147.6 1007.1,1148.0 1007.7,1148.4 1008.3,1148.8 1008.9,1149.2 1009.6,1149.7 1010.2,1150.1 1010.8,1150.6 1011.4,1151.1 1012.0,1151.6 1012.6,1152.1 1013.3,1152.6 1013.9,1153.1 1014.5,1153.7 1015.1,1154.2 1015.7,1154.8 1016.3,1155.4 1016.9,1156.0 1017.6,1156.6 1018.2,1157.2 1018.8,1157.8 1019.4,1158.5 1020.0,1159.1 1020.6,1159.8 1021.3,1160.5 1021.9,1161.2 1022.5,1161.9 1023.1,1162.6 1023.7,1163.3 1024.3,1164.1 1025.0,1164.8 1025.6,1165.6 1026.2,1166.4 1026.8,1167.2 1027.4,1168.0 1028.0,1168.8 1028.7,1169.6 1029.3,1170.5 1029.9,1171.3 1030.5,1172.2 1031.1,1173.0 1031.7,1173.9 1032.4,1174.8 1033.0,1175.7 1033.6,1176.6 1034.2,1177.6 1034.8,1178.5 1035.4,1179.4 1036.1,1180.4 1036.7,1181.4 1037.3,1182.3 1037.9,1183.3 1038.5,1184.3 1039.1,1185.3 1039.7,1186.3 1040.4,1187.4 1041.0,1188.4 1041.6,1189.5 1042.2,1190.5 1042.8,1191.6 1043.4,1192.7 1044.1,1193.7 1044.7,1194.8 1045.3,1195.9 1045.9,1197.0 1046.5,1198.2 1047.1,1199.3 1047.8,1200.4 1048.4,1201.6 1049.0,1202.7 1049.6,1203.9 1050.2,1205.1 1050.8,1206.2 1051.5,1207.4 1052.1,1208.6 1052.7,1209.8 1053.3,1211.0 1053.9,1212.3 1054.5,1213.5 1055.2,1214.7 1055.8,1215.9 1056.4,1217.2 1057.0,1218.4 1057.6,1219.7 1058.2,1221.0 1058.8,1222.2 1059.5,1223.5 1060.1,1224.8 1060.7,1226.1 1061.3,1227.4 1061.9,1228.7 1062.5,1230.0 1063.2,1231.3 1063.8,1232.6 1064.4,1234.0 1065.0,1235.3 1065.6,1236.6 1066.2,1238.0 1066.9,1239.3 1067.5,1240.7 1068.1,1242.0 1068.7,1243.4 1069.3,1244.7 1069.9,1246.1 1070.6,1247.5 1071.2,1248.9 1071.8,1250.2 1072.4,1251.6 1073.0,1253.0 1073.6,1254.4 1074.3,1255.8 1074.9,1257.2 1075.5,1258.6 1076.1,1260.0 1076.7,1261.4 1077.3,1262.8 1078.0,1264.2 1078.6,1265.6 1079.2,1267.0 1079.8,1268.5 1080.4,1269.9 1081.0,1271.3 1081.6,1272.7 1082.3,1274.1 1082.9,1275.6 1083.5,1277.0 1084.1,1278.4 1084.7,1279.9 1085.3,1281.3 1086.0,1282.7 1086.6,1284.1 1087.2,1285.6 1087.8,1287.0 1088.4,1288.4 1089.0,1289.9 1089.7,1291.3 1090.3,1292.7 1090.9,1294.2 1091.5,1295.6 1092.1,1297.0 1092.7,1298.5 1093.4,1299.9 1094.0,1301.3 1094.6,1302.7 1095.2,1304.2 1095.8,1305.6 1096.4,1307.0 1097.1,1308.4 1097.7,1309.9 1098.3,1311.3 1098.9,1312.7 1099.5,1314.1 1100.1,1315.5 1100.8,1316.9 1101.4,1318.3 1102.0,1319.7 1102.6,1321.1 1103.2,1322.5 1103.8,1323.9 1104.4,1325.3 1105.1,1326.7 1105.7,1328.1 1106.3,1329.4 1106.9,1330.8 1107.5,1332.2 1108.1,1333.6 1108.8,1334.9 1109.4,1336.3 1110.0,1337.6 1110.6,1339.0 1111.2,1340.3 1111.8,1341.7 1112.5,1343.0 1113.1,1344.3 1113.7,1345.6 1114.3,1347.0 1114.9,1348.3 1115.5,1349.6 1116.2,1350.9 1116.8,1352.2 1117.4,1353.5 1118.0,1354.8 1118.6,1356.0 1119.2,1357.3 1119.9,1358.6 1120.5,1359.8 1121.1,1361.1 1121.7,1362.3 1122.3,1363.6 1122.9,1364.8 1123.6,1366.0 1124.2,1367.2 1124.8,1368.4 1125.4,1369.6 1126.0,1370.8 1126.6,1372.0 1127.2,1373.2 1127.9,1374.4 1128.5,1375.5 1129.1,1376.7 1129.7,1377.8 1130.3,1379.0 1130.9,1380.1 1131.6,1381.2 1132.2,1382.3 1132.8,1383.4 1133.4,1384.5 1134.0,1385.6 1134.6,1386.7 1135.3,1387.7 1135.9,1388.8 1136.5,1389.8 1137.1,1390.9 1137.7,1391.9 1138.3,1392.9 1139.0,1393.9 1139.6,1394.9 1140.2,1395.9 1140.8,1396.9 1141.4,1397.8 1142.0,1398.8 1142.7,1399.7 1143.3,1400.7 1143.9,1401.6 1144.5,1402.5 1145.1,1403.4 1145.7,1404.3 1146.4,1405.2 1147.0,1406.1 1147.6,1406.9 1148.2,1407.8 1148.8,1408.6 1149.4,1409.4 1150.0,1410.2 1150.7,1411.0 1151.3,1411.8 1151.9,1412.6 1152.5,1413.4 1153.1,1414.1 1153.7,1414.9 1154.4,1415.6 1155.0,1416.3 1155.6,1417.0 1156.2,1417.7 1156.8,1418.4 1157.4,1419.1 1158.1,1419.7 1158.7,1420.4 1159.3,1421.0 1159.9,1421.6 1160.5,1422.2 1161.1,1422.8 1161.8,1423.4 1162.4,1424.0 1163.0,1424.5 1163.6,1425.1 1164.2,1425.6 1164.8,1426.1 1165.5,1426.6 1166.1,1427.1 1166.7,1427.6 1167.3,1428.1 1167.9,1428.5 1168.5,1429.0 1169.2,1429.4 1169.8,1429.8 1170.4,1430.2 1171.0,1430.6 1171.6,1431.0 1172.2,1431.3 1172.8,1431.7 1173.5,1432.0 1174.1,1432.3 1174.7,1432.6 1175.3,1432.9 1175.9,1433.2 1176.5,1433.5 1177.2,1433.7 1177.8,1433.9 1178.4,1434.2 1179.0,1434.4 1179.6,1434.6 1180.2,1434.7 1180.9,1434.9 1181.5,1435.1 1182.1,1435.2 1182.7,1435.3 1183.3,1435.4 1183.9,1435.5 1184.6,1435.6 1185.2,1435.7 1185.8,1435.7 1186.4,1435.8 1187.0,1435.8 1187.6,1435.8 1188.3,1435.9 1188.9,1435.9 1189.5,1435.8 1190.1,1435.8 1190.7,1435.8 1191.3,1435.7 1191.9,1435.6 1192.6,1435.6 1193.2,1435.5 1193.8,1435.3 1194.4,1435.2 1195.0,1435.1 1195.6,1434.9 1196.3,1434.8 1196.9,1434.6 1197.5,1434.4 1198.1,1434.2 1198.7,1433.9 1199.3,1433.7 1200.0,1433.5 1200.6,1433.2 1201.2,1432.9 1201.8,1432.6 1202.4,1432.3 1203.0,1432.0 1203.7,1431.7 1204.3,1431.3 1204.9,1431.0 1205.5,1430.6 1206.1,1430.2 1206.7,1429.8 1207.4,1429.4 1208.0,1429.0 1208.6,1428.5 1209.2,1428.1 1209.8,1427.6 1210.4,1427.1 1211.1,1426.6 1211.7,1426.1 1212.3,1425.6 1212.9,1425.1 1213.5,1424.5 1214.1,1424.0 1214.7,1423.4 1215.4,1422.8 1216.0,1422.2 1216.6,1421.6 1217.2,1421.0 1217.8,1420.4 1218.4,1419.7 1219.1,1419.1 1219.7,1418.4 1220.3,1417.7 1220.9,1417.0 1221.5,1416.3 1222.1,1415.6 1222.8,1414.9 1223.4,1414.1 1224.0,1413.4 1224.6,1412.6 1225.2,1411.8 1225.8,1411.0 1226.5,1410.2 1227.1,1409.4 1227.7,1408.6 1228.3,1407.7 1228.9,1406.9 1229.5,1406.0 1230.2,1405.2 1230.8,1404.3 1231.4,1403.4 1232.0,1402.5 1232.6,1401.6 1233.2,1400.7 1233.9,1399.7 1234.5,1398.8 1235.1,1397.8 1235.7,1396.8 1236.3,1395.9 1236.9,1394.9 1237.5,1393.9 1238.2,1392.9 1238.8,1391.9 1239.4,1390.8 1240.0,1389.8 1240.6,1388.8 1241.2,1387.7 1241.9,1386.6 1242.5,1385.6 1243.1,1384.5 1243.7,1383.4 1244.3,1382.3 1244.9,1381.2 1245.6,1380.1 1246.2,1378.9 1246.8,1377.8 1247.4,1376.7 1248.0,1375.5 1248.6,1374.3 1249.3,1373.2 1249.9,1372.0 1250.5,1370.8 1251.1,1369.6 1251.7,1368.4 1252.3,1367.2 1253.0,1366.0 1253.6,1364.8 1254.2,1363.6 1254.8,1362.3 1255.4,1361.1 1256.0,1359.8 1256.7,1358.6 1257.3,1357.3 1257.9,1356.0 1258.5,1354.8 1259.1,1353.5 1259.7,1352.2 1260.3,1350.9 1261.0,1349.6 1261.6,1348.3 1262.2,1347.0 1262.8,1345.7 1263.4,1344.3 1264.0,1343.0 1264.7,1341.7 1265.3,1340.3 1265.9,1339.0 1266.5,1337.6 1267.1,1336.3 1267.7,1334.9 1268.4,1333.6 1269.0,1332.2 1269.6,1330.8 1270.2,1329.5 1270.8,1328.1 1271.4,1326.7 1272.1,1325.3 1272.7,1323.9 1273.3,1322.5 1273.9,1321.2 1274.5,1319.8 1275.1,1318.4 1275.8,1317.0 1276.4,1315.5 1277.0,1314.1 1277.6,1312.7 1278.2,1311.3 1278.8,1309.9 1279.5,1308.5 1280.1,1307.1 1280.7,1305.7 1281.3,1304.2 1281.9,1302.8 1282.5,1301.4 1283.1,1300.0 1283.8,1298.5 1284.4,1297.1 1285.0,1295.7 1285.6,1294.2 1286.2,1292.8 1286.8,1291.4 1287.5,1290.0 1288.1,1288.5 1288.7,1287.1 1289.3,1285.7 1289.9,1284.2 1290.5,1282.8 1291.2,1281.4 1291.8,1280.0 1292.4,1278.5 1293.0,1277.1 1293.6,1275.7 1294.2,1274.3 1294.9,1272.8 1295.5,1271.4 1296.1,1270.0 1296.7,1268.6 1297.3,1267.2 1297.9,1265.8 1298.6,1264.4 1299.2,1263.0 1299.8,1261.6 1300.4,1260.2 1301.0,1258.8 1301.6,1257.4 1302.3,1256.0 1302.9,1254.6 1303.5,1253.2 1304.1,1251.8 1304.7,1250.4 1305.3,1249.1 1305.9,1247.7 1306.6,1246.3 1307.2,1245.0 1307.8,1243.6 1308.4,1242.2 1309.0,1240.9 1309.6,1239.5 1310.3,1238.2 1310.9,1236.9 1311.5,1235.5 1312.1,1234.2 1312.7,1232.9 1313.3,1231.6 1314.0,1230.3 1314.6,1229.0 1315.2,1227.7 1315.8,1226.4 1316.4,1225.1 1317.0,1223.8 1317.7,1222.5 1318.3,1221.3 1318.9,1220.0 1319.5,1218.8 1320.1,1217.5 1320.7,1216.3 1321.4,1215.0 1322.0,1213.8 1322.6,1212.6 1323.2,1211.4 1323.8,1210.2 1324.4,1209.0 1325.1,1207.8 1325.7,1206.6 1326.3,1205.4 1326.9,1204.3 1327.5,1203.1 1328.1,1202.0 1328.7,1200.8 1329.4,1199.7 1330.0,1198.6 1330.6,1197.5 1331.2,1196.4 1331.8,1195.3 1332.4,1194.2 1333.1,1193.1 1333.7,1192.0 1334.3,1191.0 1334.9,1189.9 1335.5,1188.9 1336.1,1187.9 1336.8,1186.8 1337.4,1185.8 1338.0,1184.8 1338.6,1183.8 1339.2,1182.8 1339.8,1181.9 1340.5,1180.9 1341.1,1180.0 1341.7,1179.0 1342.3,1178.1 1342.9,1177.2 1343.5,1176.3 1344.2,1175.4 1344.8,1174.5 1345.4,1173.6 1346.0,1172.8 1346.6,1171.9 1347.2,1171.1 1347.8,1170.2 1348.5,1169.4 1349.1,1168.6 1349.7,1167.8 1350.3,1167.0 1350.9,1166.3 1351.5,1165.5 1352.2,1164.8 1352.8,1164.0 1353.4,1163.3 1354.0,1162.6 1354.6,1161.9 1355.2,1161.2 1355.9,1160.5 1356.5,1159.9 1357.1,1159.2 1357.7,1158.6 1358.3,1157.9 1358.9,1157.3 1359.6,1156.7 1360.2,1156.1 1360.8,1155.6 1361.4,1155.0 1362.0,1154.5 1362.6,1153.9 1363.3,1153.4 1363.9,1152.9 1364.5,1152.4 1365.1,1151.9 1365.7,1151.4 1366.3,1151.0 1367.0,1150.5 1367.6,1150.1 1368.2,1149.7 1368.8,1149.3 1369.4,1148.9 1370.0,1148.5 1370.6,1148.2 1371.3,1147.8 1371.9,1147.5 1372.5,1147.2 1373.1,1146.9 1373.7,1146.6 1374.3,1146.3 1375.0,1146.0 1375.6,1145.8 1376.2,1145.5 1376.8,1145.3 1377.4,1145.1 1378.0,1144.9 1378.7,1144.7 1379.3,1144.5 1379.9,1144.4 1380.5,1144.2 1381.1,1144.1 1381.7,1144.0 1382.4,1143.9 1383.0,1143.8 1383.6,1143.7 1384.2,1143.7 1384.8,1143.6 1385.4,1143.6 1386.1,1143.6 1386.7,1143.6 1387.3,1143.6 1387.9,1143.6 1388.5,1143.7 1389.1,1143.8 1389.8,1143.8 1390.4,1143.9 1391.0,1144.1 1391.6,1144.2 1392.2,1144.3 1392.8,1144.5 1393.4,1144.6 1394.1,1144.8 1394.7,1145.0 1395.3,1145.2 1395.9,1145.5 1396.5,1145.7 1397.1,1145.9 1397.8,1146.2 1398.4,1146.5 1399.0,1146.8 1399.6,1147.1 1400.2,1147.4 1400.8,1147.7 1401.5,1148.1 1402.1,1148.5 1402.7,1148.8 1403.3,1149.2 1403.9,1149.6 1404.5,1150.0 1405.2,1150.5 1405.8,1150.9 1406.4,1151.4 1407.0,1151.8 1407.6,1152.3 1408.2,1152.8 1408.9,1153.3 1409.5,1153.9 1410.1,1154.4 1410.7,1154.9 1411.3,1155.5 1411.9,1156.1 1412.6,1156.7 1413.2,1157.3 1413.8,1157.9 1414.4,1158.5 1415.0,1159.1 1415.6,1159.8 1416.2,1160.5 1416.9,1161.1 1417.5,1161.8 1418.1,1162.5 1418.7,1163.2 1419.3,1164.0 1419.9,1164.7 1420.6,1165.5 1421.2,1166.2 1421.8,1167.0 1422.4,1167.8 1423.0,1168.6 1423.6,1169.4 1424.3,1170.2 1424.9,1171.0 1425.5,1171.9 1426.1,1172.7 1426.7,1173.6 1427.3,1174.5 1428.0,1175.4 1428.6,1176.3 1429.2,1177.2 1429.8,1178.1 1430.4,1179.0 1431.0,1180.0 1431.7,1180.9 1432.3,1181.9 1432.9,1182.9 1433.5,1183.9 1434.1,1184.9 1434.7,1185.9 1435.4,1186.9 1436.0,1187.9 1436.6,1188.9 1437.2,1190.0 1437.8,1191.0 1438.4,1192.1 1439.0,1193.2 1439.7,1194.3 1440.3,1195.4 1440.9,1196.5 1441.5,1197.6 1442.1,1198.7 1442.7,1199.8 1443.4,1201.0 1444.0,1202.1 1444.6,1203.3 1445.2,1204.4 1445.8,1205.6 1446.4,1206.8 1447.1,1208.0 1447.7,1209.2 1448.3,1210.4 1448.9,1211.6 1449.5,1212.8 1450.1,1214.0 1450.8,1215.3 1451.4,1216.5 1452.0,1217.7 1452.6,1219.0 1453.2,1220.3 1453.8,1221.5 1454.5,1222.8 1455.1,1224.1 1455.7,1225.4 1456.3,1226.7 1456.9,1228.0 1457.5,1229.3 1458.2,1230.6 1458.8,1231.9 1459.4,1233.3 1460.0,1234.6 1460.6,1235.9 1461.2,1237.3 1461.8,1238.6 1462.5,1240.0 1463.1,1241.3 1463.7,1242.7 1464.3,1244.1 1464.9,1245.4 1465.5,1246.8 1466.2,1248.2 1466.8,1249.6 1467.4,1251.0 1468.0,1252.3 1468.6,1253.7 1469.2,1255.1 1469.9,1256.5 1470.5,1258.0 1471.1,1259.4 1471.7,1260.8 1472.3,1262.2 1472.9,1263.6 1473.6,1265.0 1474.2,1266.5 1474.8,1267.9 1475.4,1269.3 1476.0,1270.8 1476.6,1272.2 1477.3,1273.6 1477.9,1275.1 1478.5,1276.5 1479.1,1277.9 1479.7,1279.4 1480.3,1280.8 1481.0,1282.3 1481.6,1283.7 1482.2,1285.2 1482.8,1286.6 1483.4,1288.1 1484.0,1289.5 1484.6,1291.0 1485.3,1292.4 1485.9,1293.9 1486.5,1295.3 1487.1,1296.7 1487.7,1298.2 1488.3,1299.6 1489.0,1301.1 1489.6,1302.5 1490.2,1304.0 1490.8,1305.4 1491.4,1306.9 1492.0,1308.3 1492.7,1309.7 1493.3,1311.2 1493.9,1312.6 1494.5,1314.1 1495.1,1315.5 1495.7,1316.9 1496.4,1318.3 1497.0,1319.8 1497.6,1321.2 1498.2,1322.6 1498.8,1324.0 1499.4,1325.4 1500.1,1326.9 1500.7,1328.3 1501.3,1329.7 1501.9,1331.1 1502.5,1332.5 1503.1,1333.9 1503.7,1335.3 1504.4,1336.6 1505.0,1338.0 1505.6,1339.4 1506.2,1340.8 1506.8,1342.1 1507.4,1343.5 1508.1,1344.9 1508.7,1346.2 1509.3,1347.6 1509.9,1348.9 1510.5,1350.3 1511.1,1351.6 1511.8,1352.9 1512.4,1354.2 1513.0,1355.6 1513.6,1356.9 1514.2,1358.2 1514.8,1359.5 1515.5,1360.8 1516.1,1362.0 1516.7,1363.3 1517.3,1364.6 1517.9,1365.9 1518.5,1367.1 1519.2,1368.4 1519.8,1369.6 1520.4,1370.9 1521.0,1372.1 1521.6,1373.3 1522.2,1374.5 1522.9,1375.7 1523.5,1376.9 1524.1,1378.1 1524.7,1379.3 1525.3,1380.5 1525.9,1381.6 1526.5,1382.8 1527.2,1383.9 1527.8,1385.1 1528.4,1386.2 1529.0,1387.3 1529.6,1388.5 1530.2,1389.6 1530.9,1390.7 1531.5,1391.7 1532.1,1392.8 1532.7,1393.9 1533.3,1395.0 1533.9,1396.0 1534.6,1397.0 1535.2,1398.1 1535.8,1399.1 1536.4,1400.1 1537.0,1401.1 1537.6,1402.1 1538.3,1403.1 1538.9,1404.0 1539.5,1405.0 1540.1,1405.9 1540.7,1406.9 1541.3,1407.8 1542.0,1408.7 1542.6,1409.6 1543.2,1410.5 1543.8,1411.4 1544.4,1412.3 1545.0,1413.1 1545.7,1414.0 1546.3,1414.8 1546.9,1415.7 1547.5,1416.5 1548.1,1417.3 1548.7,1418.1 1549.3,1418.8 1550.0,1419.6 1550.6,1420.4 1551.2,1421.1 1551.8,1421.8 1552.4,1422.6 1553.0,1423.3 1553.7,1424.0 1554.3,1424.6 1554.9,1425.3 1555.5,1426.0 1556.1,1426.6 1556.7,1427.3 1557.4,1427.9 1558.0,1428.5 1558.6,1429.1 1559.2,1429.7 1559.8,1430.2 1560.4,1430.8 1561.1,1431.3 1561.7,1431.9 1562.3,1432.4 1562.9,1432.9 1563.5,1433.4 1564.1,1433.8 1564.8,1434.3 1565.4,1434.8 1566.0,1435.2 1566.6,1435.6 1567.2,1436.0 1567.8,1436.4 1568.5,1436.8 1569.1,1437.2 1569.7,1437.5 1570.3,1437.9 1570.9,1438.2 1571.5,1438.5 1572.1,1438.8 1572.8,1439.1 1573.4,1439.4 1574.0,1439.7 1574.6,1439.9 1575.2,1440.1 1575.8,1440.4 1576.5,1440.6 1577.1,1440.8 1577.7,1440.9 1578.3,1441.1 1578.9,1441.3 1579.5,1441.4 1580.2,1441.5 1580.8,1441.6 1581.4,1441.7 1582.0,1441.8 1582.6,1441.9 1583.2,1441.9 1583.9,1442.0 1584.5,1442.0 1585.1,1442.0 1585.7,1442.0 1586.3,1442.0 1586.9,1442.0 1587.6,1441.9 1588.2,1441.9 1588.8,1441.8 1589.4,1441.7 1590.0,1441.6 1590.6,1441.5 1591.3,1441.4 1591.9,1441.3 1592.5,1441.1 1593.1,1441.0 1593.7,1440.8 1594.3,1440.6 1594.9,1440.4 1595.6,1440.2 1596.2,1439.9 1596.8,1439.7 1597.4,1439.4 1598.0,1439.2 1598.6,1438.9 1599.3,1438.6 1599.9,1438.3 1600.5,1437.9 1601.1,1437.6 1601.7,1437.2 1602.3,1436.9 1603.0,1436.5 1603.6,1436.1 1604.2,1435.7 1604.8,1435.3 1605.4,1434.8 1606.0,1434.4 1606.7,1433.9 1607.3,1433.5 1607.9,1433.0 1608.5,1432.5 1609.1,1432.0 1609.7,1431.4 1610.4,1430.9 1611.0,1430.3 1611.6,1429.8 1612.2,1429.2 1612.8,1428.6 1613.4,1428.0 1614.1,1427.4 1614.7,1426.8 1615.3,1426.1 1615.9,1425.5 1616.5,1424.8 1617.1,1424.1 1617.7,1423.4 1618.4,1422.7 1619.0,1422.0 1619.6,1421.3 1620.2,1420.6 1620.8,1419.8 1621.4,1419.1 1622.1,1418.3 1622.7,1417.5 1623.3,1416.7 1623.9,1415.9 1624.5,1415.1 1625.1,1414.3 1625.8,1413.4 1626.4,1412.6 1627.0,1411.7 1627.6,1410.8 1628.2,1409.9 1628.8,1409.1 1629.5,1408.1 1630.1,1407.2 1630.7,1406.3 1631.3,1405.4 1631.9,1404.4 1632.5,1403.5 1633.2,1402.5 1633.8,1401.5 1634.4,1400.5 1635.0,1399.5 1635.6,1398.5 1636.2,1397.5 1636.9,1396.5 1637.5,1395.4 1638.1,1394.4 1638.7,1393.3 1639.3,1392.3 1639.9,1391.2 1640.5,1390.1 1641.2,1389.0 1641.8,1387.9 1642.4,1386.8 1643.0,1385.7 1643.6,1384.6 1644.2,1383.4 1644.9,1382.3 1645.5,1381.2 1646.1,1380.0 1646.7,1378.8 1647.3,1377.7 1647.9,1376.5 1648.6,1375.3 1649.2,1374.1 1649.8,1372.9 1650.4,1371.7 1651.0,1370.5 1651.6,1369.2 1652.3,1368.0 1652.9,1366.8 1653.5,1365.5 1654.1,1364.3 1654.7,1363.0 1655.3,1361.7 1656.0,1360.5 1656.6,1359.2 1657.2,1357.9 1657.8,1356.6 1658.4,1355.3 1659.0,1354.0 1659.6,1352.7 1660.3,1351.4 1660.9,1350.1 1661.5,1348.8 1662.1,1347.5 1662.7,1346.1 1663.3,1344.8 1664.0,1343.5 1664.6,1342.1 1665.2,1340.8 1665.8,1339.4 1666.4,1338.1 1667.0,1336.7 1667.7,1335.3 1668.3,1334.0 1668.9,1332.6 1669.5,1331.2 1670.1,1329.9 1670.7,1328.5 1671.4,1327.1 1672.0,1325.7 1672.6,1324.3 1673.2,1322.9 1673.8,1321.5 1674.4,1320.2 1675.1,1318.8 1675.7,1317.4 1676.3,1316.0 1676.9,1314.6 1677.5,1313.1 1678.1,1311.7 1678.8,1310.3 1679.4,1308.9 1680.0,1307.5 1680.6,1306.1 1681.2,1304.7 1681.8,1303.3 1682.4,1301.9 1683.1,1300.5 1683.7,1299.1 1684.3,1297.6 1684.9,1296.2 1685.5,1294.8 1686.1,1293.4 1686.8,1292.0 1687.4,1290.6 1688.0,1289.2 1688.6,1287.8 1689.2,1286.4 1689.8,1285.0 1690.5,1283.5 1691.1,1282.1 1691.7,1280.7 1692.3,1279.3 1692.9,1277.9 1693.5,1276.5 1694.2,1275.2 1694.8,1273.8 1695.4,1272.4 1696.0,1271.0 1696.6,1269.6 1697.2,1268.2 1697.9,1266.8 1698.5,1265.5 1699.1,1264.1 1699.7,1262.7 1700.3,1261.3 1700.9,1260.0 1701.6,1258.6 1702.2,1257.3 1702.8,1255.9 1703.4,1254.6 1704.0,1253.2 1704.6,1251.9 1705.2,1250.6 1705.9,1249.2 1706.5,1247.9 1707.1,1246.6 1707.7,1245.3 1708.3,1244.0 1708.9,1242.6 1709.6,1241.3 1710.2,1240.1 1710.8,1238.8 1711.4,1237.5 1712.0,1236.2 1712.6,1234.9 1713.3,1233.7 1713.9,1232.4 1714.5,1231.2 1715.1,1229.9 1715.7,1228.7 1716.3,1227.4 1717.0,1226.2 1717.6,1225.0 1718.2,1223.8 1718.8,1222.6 1719.4,1221.4 1720.0,1220.2 1720.7,1219.0 1721.3,1217.8 1721.9,1216.7 1722.5,1215.5 1723.1,1214.4 1723.7,1213.2 1724.4,1212.1 1725.0,1211.0 1725.6,1209.8 1726.2,1208.7 1726.8,1207.6 1727.4,1206.5 1728.0,1205.5 1728.7,1204.4 1729.3,1203.3 1729.9,1202.3 1730.5,1201.2 1731.1,1200.2 1731.7,1199.1 1732.4,1198.1 1733.0,1197.1 1733.6,1196.1 1734.2,1195.1 1734.8,1194.2 1735.4,1193.2 1736.1,1192.2 1736.7,1191.3 1737.3,1190.3 1737.9,1189.4 1738.5,1188.5 1739.1,1187.6 1739.8,1186.7 1740.4,1185.8 1741.0,1184.9 1741.6,1184.1 1742.2,1183.2 1742.8,1182.4 1743.5,1181.5 1744.1,1180.7 1744.7,1179.9 1745.3,1179.1 1745.9,1178.3 1746.5,1177.6 1747.2,1176.8 1747.8,1176.0 1748.4,1175.3 1749.0,1174.6 1749.6,1173.9 1750.2,1173.2 1750.8,1172.5 1751.5,1171.8 1752.1,1171.1 1752.7,1170.5 1753.3,1169.8 1753.9,1169.2 1754.5,1168.6 1755.2,1168.0 1755.8,1167.4 1756.4,1166.8 1757.0,1166.2 1757.6,1165.7 1758.2,1165.2 1758.9,1164.6 1759.5,1164.1 1760.1,1163.6 1760.7,1163.1 1761.3,1162.6 1761.9,1162.2 1762.6,1161.7 1763.2,1161.3 1763.8,1160.9 1764.4,1160.5 1765.0,1160.1 1765.6,1159.7 1766.3,1159.3 1766.9,1159.0 1767.5,1158.6 1768.1,1158.3 1768.7,1158.0 1769.3,1157.7 1770.0,1157.4 1770.6,1157.1 1771.2,1156.8 1771.8,1156.6 1772.4,1156.4 1773.0,1156.1 1773.6,1155.9 1774.3,1155.7 1774.9,1155.6 1775.5,1155.4 1776.1,1155.3 1776.7,1155.1 1777.3,1155.0 1778.0,1154.9 1778.6,1154.8 1779.2,1154.7 1779.8,1154.6 1780.4,1154.6 1781.0,1154.5 1781.7,1154.5 1782.3,1154.5 1782.9,1154.5 1783.5,1154.5 1784.1,1154.5 1784.7,1154.6 1785.4,1154.6 1786.0,1154.7 1786.6,1154.8 1787.2,1154.9 1787.8,1155.0 1788.4,1155.1 1789.1,1155.2 1789.7,1155.4 1790.3,1155.5 1790.9,1155.7 1791.5,1155.9 1792.1,1156.1 1792.8,1156.3 1793.4,1156.5 1794.0,1156.8 1794.6,1157.0 1795.2,1157.3 1795.8,1157.6 1796.4,1157.9 1797.1,1158.2 1797.7,1158.5 1798.3,1158.9 1798.9,1159.2 1799.5,1159.6 1800.1,1160.0 1800.8,1160.3 1801.4,1160.8 1802.0,1161.2 1802.6,1161.6 1803.2,1162.1 1803.8,1162.5 1804.5,1163.0 1805.1,1163.5 1805.7,1164.0 1806.3,1164.5 1806.9,1165.0 1807.5,1165.6 1808.2,1166.1 1808.8,1166.7 1809.4,1167.2 1810.0,1167.8 1810.6,1168.4 1811.2,1169.1 1811.9,1169.7 1812.5,1170.3 1813.1,1171.0 1813.7,1171.6 1814.3,1172.3 1814.9,1173.0 1815.5,1173.7 1816.2,1174.4 1816.8,1175.2 1817.4,1175.9 1818.0,1176.6 1818.6,1177.4 1819.2,1178.2 1819.9,1179.0 1820.5,1179.8 1821.1,1180.6 1821.7,1181.4 1822.3,1182.2 1822.9,1183.1 1823.6,1183.9 1824.2,1184.8 1824.8,1185.7 1825.4,1186.6 1826.0,1187.5 1826.6,1188.4 1827.3,1189.3 1827.9,1190.2 1828.5,1191.2 1829.1,1192.1 1829.7,1193.1 1830.3,1194.1 1831.0,1195.1 1831.6,1196.1 1832.2,1197.1 1832.8,1198.1 1833.4,1199.1 1834.0,1200.1 1834.7,1201.2 1835.3,1202.2 1835.9,1203.3 1836.5,1204.4 1837.1,1205.5 1837.7,1206.5 1838.3,1207.6 1839.0,1208.8 1839.6,1209.9 1840.2,1211.0 1840.8,1212.1 1841.4,1213.3 1842.0,1214.4 1842.7,1215.6 1843.3,1216.8 1843.9,1218.0 1844.5,1219.1 1845.1,1220.3 1845.7,1221.5 1846.4,1222.8 1847.0,1224.0 1847.6,1225.2 1848.2,1226.4 1848.8,1227.7 1849.4,1228.9 1850.1,1230.2 1850.7,1231.4 1851.3,1232.7 1851.9,1234.0 1852.5,1235.3 1853.1,1236.5 1853.8,1237.8 1854.4,1239.1 1855.0,1240.5 1855.6,1241.8 1856.2,1243.1 1856.8,1244.4 1857.5,1245.7 1858.1,1247.1 1858.7,1248.4 1859.3,1249.8 1859.9,1251.1 1860.5,1252.5 1861.1,1253.8 1861.8,1255.2 1862.4,1256.6 1863.0,1257.9 1863.6,1259.3 1864.2,1260.7 1864.8,1262.1 1865.5,1263.5 1866.1,1264.9 1866.7,1266.3 1867.3,1267.7 1867.9,1269.1 1868.5,1270.5 1869.2,1271.9 1869.8,1273.3 1870.4,1274.7 1871.0,1276.1 1871.6,1277.6 1872.2,1279.0 1872.9,1280.4 1873.5,1281.9 1874.1,1283.3 1874.7,1284.7 1875.3,1286.2 1875.9,1287.6 1876.6,1289.0 1877.2,1290.5 1877.8,1291.9 1878.4,1293.4 1879.0,1294.8 1879.6,1296.2 1880.3,1297.7 1880.9,1299.1 1881.5,1300.6 1882.1,1302.0 1882.7,1303.5 1883.3,1304.9 1883.9,1306.4 1884.6,1307.8 1885.2,1309.3 1885.8,1310.7 1886.4,1312.1 1887.0,1313.6 1887.6,1315.0 1888.3,1316.5 1888.9,1317.9 1889.5,1319.4 1890.1,1320.8 1890.7,1322.2 1891.3,1323.7 1892.0,1325.1 1892.6,1326.5 1893.2,1327.9 1893.8,1329.4 1894.4,1330.8 1895.0,1332.2 1895.7,1333.6 1896.3,1335.1 1896.9,1336.5 1897.5,1337.9 1898.1,1339.3 1898.7,1340.7 1899.4,1342.1 1900.0,1343.5 1900.6,1344.9 1901.2,1346.3 1901.8,1347.6 1902.4,1349.0 1903.1,1350.4 1903.7,1351.8 1904.3,1353.1 1904.9,1354.5 1905.5,1355.9 1906.1,1357.2 1906.7,1358.5 1907.4,1359.9 1908.0,1361.2 1908.6,1362.6 1909.2,1363.9 1909.8,1365.2 1910.4,1366.5 1911.1,1367.8 1911.7,1369.1 1912.3,1370.4 1912.9,1371.7 1913.5,1373.0 1914.1,1374.3 1914.8,1375.5 1915.4,1376.8 1916.0,1378.1 1916.6,1379.3 1917.2,1380.6 1917.8,1381.8 1918.5,1383.0 1919.1,1384.2 1919.7,1385.4 1920.3,1386.6 1920.9,1387.8 1921.5,1389.0 1922.2,1390.2 1922.8,1391.4 1923.4,1392.5 1924.0,1393.7 1924.6,1394.9 1925.2,1396.0 1925.9,1397.1 1926.5,1398.2 1927.1,1399.4 1927.7,1400.5 1928.3,1401.5 1928.9,1402.6 1929.5,1403.7 1930.2,1404.8 1930.8,1405.8 1931.4,1406.9 1932.0,1407.9 1932.6,1408.9 1933.2,1410.0 1933.9,1411.0 1934.5,1412.0 1935.1,1412.9 1935.7,1413.9 1936.3,1414.9 1936.9,1415.8 1937.6,1416.8 1938.2,1417.7 1938.8,1418.6 1939.4,1419.6 1940.0,1420.5 1940.6,1421.3 1941.3,1422.2 1941.9,1423.1 1942.5,1423.9 1943.1,1424.8 1943.7,1425.6 1944.3,1426.5 1945.0,1427.3 1945.6,1428.1 1946.2,1428.8 1946.8,1429.6 1947.4,1430.4 1948.0,1431.1 1948.7,1431.9 1949.3,1432.6 1949.9,1433.3 1950.5,1434.0 1951.1,1434.7 1951.7,1435.4 1952.3,1436.1 1953.0,1436.7 1953.6,1437.3 1954.2,1438.0 1954.8,1438.6 1955.4,1439.2 1956.0,1439.8 1956.7,1440.4 1957.3,1440.9 1957.9,1441.5 1958.5,1442.0 1959.1,1442.5 1959.7,1443.0 1960.4,1443.5 1961.0,1444.0 1961.6,1444.5 1962.2,1445.0 1962.8,1445.4 1963.4,1445.8 1964.1,1446.3 1964.7,1446.7 1965.3,1447.1 1965.9,1447.4 1966.5,1447.8 1967.1,1448.1 1967.8,1448.5 1968.4,1448.8 1969.0,1449.1 1969.6,1449.4 1970.2,1449.7 1970.8,1450.0 1971.4,1450.2 1972.1,1450.5 1972.7,1450.7 1973.3,1450.9 1973.9,1451.1 1974.5,1451.3 1975.1,1451.4 1975.8,1451.6 1976.4,1451.7 1977.0,1451.9 1977.6,1452.0 1978.2,1452.1 1978.8,1452.2 1979.5,1452.2 1980.1,1452.3 1980.7,1452.4 1981.3,1452.4 1981.9,1452.4 1982.5,1452.4 1983.2,1452.4 1983.8,1452.4 1984.4,1452.3 1985.0,1452.2 1985.6,1452.2 1986.2,1452.1 1986.9,1452.0 1987.5,1451.8 1988.1,1451.7 1988.7,1451.5 1989.3,1451.4 1989.9,1451.2 1990.6,1451.0 1991.2,1450.8 1991.8,1450.6 1992.4,1450.3 1993.0,1450.1 1993.6,1449.8 1994.2,1449.6 1994.9,1449.3 1995.5,1449.0 1996.1,1448.7 1996.7,1448.3 1997.3,1448.0 1997.9,1447.6 1998.6,1447.2 1999.2,1446.9 1999.8,1446.5 2000.4,1446.1 2001.0,1445.6 2001.6,1445.2 2002.3,1444.7 2002.9,1444.3 2003.5,1443.8 2004.1,1443.3 2004.7,1442.8 2005.3,1442.3 2006.0,1441.7 2006.6,1441.2 2007.2,1440.6 2007.8,1440.1 2008.4,1439.5 2009.0,1438.9 2009.7,1438.3 2010.3,1437.7 2010.9,1437.0 2011.5,1436.4 2012.1,1435.7 2012.7,1435.1 2013.4,1434.4 2014.0,1433.7 2014.6,1433.0 2015.2,1432.3 2015.8,1431.5 2016.4,1430.8 2017.0,1430.0 2017.7,1429.3 2018.3,1428.5 2018.9,1427.7 2019.5,1426.9 2020.1,1426.1 2020.7,1425.2 2021.4,1424.4 2022.0,1423.6 2022.6,1422.7 2023.2,1421.8 2023.8,1420.9 2024.4,1420.0 2025.1,1419.1 2025.7,1418.2 2026.3,1417.3 2026.9,1416.4 2027.5,1415.4 2028.1,1414.5 2028.8,1413.5 2029.4,1412.5 2030.0,1411.5 2030.6,1410.5 2031.2,1409.5 2031.8,1408.5 2032.5,1407.5 2033.1,1406.4 2033.7,1405.4 2034.3,1404.3 2034.9,1403.3 2035.5,1402.2 2036.2,1401.1 2036.8,1400.0 2037.4,1398.9 2038.0,1397.8" fill="none" stroke="#000" stroke-width="10" stroke-linejoin="round" stroke-linecap="round"/>
<path d="M190.0,1159.2 190.6,1159.4 191.2,1159.7 191.8,1159.9 192.5,1160.2 193.1,1160.5 193.7,1160.8 194.3,1161.2 194.9,1161.5 195.5,1161.9 196.2,1162.2 196.8,1162.6 197.4,1163.0 198.0,1163.4 198.6,1163.9 199.2,1164.3 199.9,1164.8 200.5,1165.2 201.1,1165.7 201.7,1166.2 202.3,1166.7 202.9,1167.2 203.6,1167.7 204.2,1168.3 204.8,1168.8 205.4,1169.4 206.0,1170.0 206.6,1170.6 207.3,1171.2 207.9,1171.8 208.5,1172.5 209.1,1173.1 209.7,1173.8 210.3,1174.4 211.0,1175.1 211.6,1175.8 212.2,1176.5 212.8,1177.3 213.4,1178.0 214.0,1178.7 214.6,1179.5 215.3,1180.3 215.9,1181.1 216.5,1181.8 217.1,1182.7 217.7,1183.5 218.3,1184.3 219.0,1185.1 219.6,1186.0 220.2,1186.9 220.8,1187.7 221.4,1188.6 222.0,1189.5 222.7,1190.4 223.3,1191.3 223.9,1192.3 224.5,1193.2 225.1,1194.2 225.7,1195.1 226.4,1196.1 227.0,1197.1 227.6,1198.1 228.2,1199.1 228.8,1200.1 229.4,1201.1 230.1,1202.1 230.7,1203.2 231.3,1204.2 231.9,1205.3 232.5,1206.4 233.1,1207.4 233.8,1208.5 234.4,1209.6 235.0,1210.7 235.6,1211.9 236.2,1213.0 236.8,1214.1 237.4,1215.3 238.1,1216.4 238.7,1217.6 239.3,1218.7 239.9,1219.9 240.5,1221.1 241.1,1222.3 241.8,1223.5 242.4,1224.7 243.0,1225.9 243.6,1227.1 244.2,1228.4 244.8,1229.6 245.5,1230.9 246.1,1232.1 246.7,1233.4 247.3,1234.6 247.9,1235.9 248.5,1237.2 249.2,1238.5 249.8,1239.8 250.4,1241.1 251.0,1242.4 251.6,1243.7 252.2,1245.0 252.9,1246.3 253.5,1247.6 254.1,1249.0 254.7,1250.3 255.3,1251.7 255.9,1253.0 256.6,1254.4 257.2,1255.7 257.8,1257.1 258.4,1258.4 259.0,1259.8 259.6,1261.2 260.2,1262.6 260.9,1264.0 261.5,1265.3 262.1,1266.7 262.7,1268.1 263.3,1269.5 263.9,1270.9 264.6,1272.3 265.2,1273.7 265.8,1275.1 266.4,1276.6 267.0,1278.0 267.6,1279.4 268.3,1280.8 268.9,1282.2 269.5,1283.7 270.1,1285.1 270.7,1286.5 271.3,1287.9 272.0,1289.4 272.6,1290.8 273.2,1292.2 273.8,1293.7 274.4,1295.1 275.0,1296.6 275.7,1298.0 276.3,1299.4 276.9,1300.9 277.5,1302.3 278.1,1303.8 278.7,1305.2 279.3,1306.6 280.0,1308.1 280.6,1309.5 281.2,1311.0 281.8,1312.4 282.4,1313.8 283.0,1315.3 283.7,1316.7 284.3,1318.1 284.9,1319.6 285.5,1321.0 286.1,1322.4 286.7,1323.9 287.4,1325.3 288.0,1326.7 288.6,1328.1 289.2,1329.6 289.8,1331.0 290.4,1332.4 291.1,1333.8 291.7,1335.2 292.3,1336.6 292.9,1338.0 293.5,1339.4 294.1,1340.8 294.8,1342.2 295.4,1343.6 296.0,1345.0 296.6,1346.4 297.2,1347.7 297.8,1349.1 298.5,1350.5 299.1,1351.8 299.7,1353.2 300.3,1354.6 300.9,1355.9 301.5,1357.3 302.1,1358.6 302.8,1359.9 303.4,1361.3 304.0,1362.6 304.6,1363.9 305.2,1365.2 305.8,1366.5 306.5,1367.8 307.1,1369.1 307.7,1370.4 308.3,1371.7 308.9,1373.0 309.5,1374.3 310.2,1375.5 310.8,1376.8 311.4,1378.0 312.0,1379.3 312.6,1380.5 313.2,1381.7 313.9,1383.0 314.5,1384.2 315.1,1385.4 315.7,1386.6 316.3,1387.8 316.9,1388.9 317.6,1390.1 318.2,1391.3 318.8,1392.4 319.4,1393.6 320.0,1394.7 320.6,1395.9 321.3,1397.0 321.9,1398.1 322.5,1399.2 323.1,1400.3 323.7,1401.4 324.3,1402.5 324.9,1403.5 325.6,1404.6 326.2,1405.7 326.8,1406.7 327.4,1407.7 328.0,1408.7 328.6,1409.8 329.3,1410.8 329.9,1411.7 330.5,1412.7 331.1,1413.7 331.7,1414.7 332.3,1415.6 333.0,1416.5 333.6,1417.5 334.2,1418.4 334.8,1419.3 335.4,1420.2 336.0,1421.1 336.7,1421.9 337.3,1422.8 337.9,1423.7 338.5,1424.5 339.1,1425.3 339.7,1426.1 340.4,1426.9 341.0,1427.7 341.6,1428.5 342.2,1429.3 342.8,1430.0 343.4,1430.8 344.1,1431.5 344.7,1432.2 345.3,1433.0 345.9,1433.6 346.5,1434.3 347.1,1435.0 347.7,1435.7 348.4,1436.3 349.0,1436.9 349.6,1437.6 350.2,1438.2 350.8,1438.8 351.4,1439.4 352.1,1439.9 352.7,1440.5 353.3,1441.0 353.9,1441.6 354.5,1442.1 355.1,1442.6 355.8,1443.1 356.4,1443.6 357.0,1444.0 357.6,1444.5 358.2,1444.9 358.8,1445.3 359.5,1445.8 360.1,1446.1 360.7,1446.5 361.3,1446.9 361.9,1447.3 362.5,1447.6 363.2,1447.9 363.8,1448.3 364.4,1448.6 365.0,1448.9 365.6,1449.1 366.2,1449.4 366.9,1449.6 367.5,1449.9 368.1,1450.1 368.7,1450.3 369.3,1450.5 369.9,1450.7 370.5,1450.8 371.2,1451.0 371.8,1451.1 372.4,1451.3 373.0,1451.4 373.6,1451.5 374.2,1451.5 374.9,1451.6 375.5,1451.7 376.1,1451.7 376.7,1451.7 377.3,1451.7 377.9,1451.7 378.6,1451.7 379.2,1451.7 379.8,1451.6 380.4,1451.6 381.0,1451.5 381.6,1451.4 382.3,1451.3 382.9,1451.2 383.5,1451.1 384.1,1450.9 384.7,1450.8 385.3,1450.6 386.0,1450.4 386.6,1450.2 387.2,1450.0 387.8,1449.8 388.4,1449.5 389.0,1449.3 389.7,1449.0 390.3,1448.7 390.9,1448.4 391.5,1448.1 392.1,1447.8 392.7,1447.5 393.3,1447.1 394.0,1446.8 394.6,1446.4 395.2,1446.0 395.8,1445.6 396.4,1445.2 397.0,1444.7 397.7,1444.3 398.3,1443.8 398.9,1443.4 399.5,1442.9 400.1,1442.4 400.7,1441.9 401.4,1441.3 402.0,1440.8 402.6,1440.3 403.2,1439.7 403.8,1439.1 404.4,1438.5 405.1,1437.9 405.7,1437.3 406.3,1436.7 406.9,1436.1 407.5,1435.4 408.1,1434.7 408.8,1434.1 409.4,1433.4 410.0,1432.7 410.6,1432.0 411.2,1431.2 411.8,1430.5 412.5,1429.8 413.1,1429.0 413.7,1428.2 414.3,1427.4 414.9,1426.6 415.5,1425.8 416.1,1425.0 416.8,1424.2 417.4,1423.3 418.0,1422.5 418.6,1421.6 419.2,1420.8 419.8,1419.9 420.5,1419.0 421.1,1418.1 421.7,1417.1 422.3,1416.2 422.9,1415.3 423.5,1414.3 424.2,1413.4 424.8,1412.4 425.4,1411.4 426.0,1410.4 426.6,1409.4 427.2,1408.4 427.9,1407.4 428.5,1406.3 429.1,1405.3 429.7,1404.3 430.3,1403.2 430.9,1402.1 431.6,1401.0 432.2,1400.0 432.8,1398.9 433.4,1397.8 434.0,1396.6 434.6,1395.5 435.2,1394.4 435.9,1393.2 436.5,1392.1 437.1,1390.9 437.7,1389.8 438.3,1388.6 438.9,1387.4 439.6,1386.2 440.2,1385.0 440.8,1383.8 441.4,1382.6 442.0,1381.4 442.6,1380.2 443.3,1378.9 443.9,1377.7 444.5,1376.4 445.1,1375.2 445.7,1373.9 446.3,1372.6 447.0,1371.4 447.6,1370.1 448.2,1368.8 448.8,1367.5 449.4,1366.2 450.0,1364.9 450.7,1363.6 451.3,1362.3 451.9,1361.0 452.5,1359.6 453.1,1358.3 453.7,1357.0 454.4,1355.6 455.0,1354.3 455.6,1352.9 456.2,1351.6 456.8,1350.2 457.4,1348.8 458.0,1347.5 458.7,1346.1 459.3,1344.7 459.9,1343.3 460.5,1341.9 461.1,1340.6 461.7,1339.2 462.4,1337.8 463.0,1336.4 463.6,1335.0 464.2,1333.6 464.8,1332.2 465.4,1330.7 466.1,1329.3 466.7,1327.9 467.3,1326.5 467.9,1325.1 468.5,1323.7 469.1,1322.2 469.8,1320.8 470.4,1319.4 471.0,1318.0 471.6,1316.5 472.2,1315.1 472.8,1313.7 473.5,1312.2 474.1,1310.8 474.7,1309.4 475.3,1307.9 475.9,1306.5 476.5,1305.1 477.2,1303.6 477.8,1302.2 478.4,1300.8 479.0,1299.3 479.6,1297.9 480.2,1296.5 480.8,1295.1 481.5,1293.6 482.1,1292.2 482.7,1290.8 483.3,1289.3 483.9,1287.9 484.5,1286.5 485.2,1285.1 485.8,1283.7 486.4,1282.2 487.0,1280.8 487.6,1279.4 488.2,1278.0 488.9,1276.6 489.5,1275.2 490.1,1273.8 490.7,1272.4 491.3,1271.0 491.9,1269.6 492.6,1268.2 493.2,1266.8 493.8,1265.4 494.4,1264.1 495.0,1262.7 495.6,1261.3 496.3,1259.9 496.9,1258.6 497.5,1257.2 498.1,1255.9 498.7,1254.5 499.3,1253.2 500.0,1251.8 500.6,1250.5 501.2,1249.2 501.8,1247.8 502.4,1246.5 503.0,1245.2 503.6,1243.9 504.3,1242.6 504.9,1241.3 505.5,1240.0 506.1,1238.7 506.7,1237.4 507.3,1236.2 508.0,1234.9 508.6,1233.6 509.2,1232.4 509.8,1231.2 510.4,1229.9 511.0,1228.7 511.7,1227.5 512.3,1226.2 512.9,1225.0 513.5,1223.8 514.1,1222.6 514.7,1221.5 515.4,1220.3 516.0,1219.1 516.6,1217.9 517.2,1216.8 517.8,1215.6 518.4,1214.5 519.1,1213.4 519.7,1212.3 520.3,1211.1 520.9,1210.0 521.5,1209.0 522.1,1207.9 522.8,1206.8 523.4,1205.7 524.0,1204.7 524.6,1203.6 525.2,1202.6 525.8,1201.6 526.4,1200.5 527.1,1199.5 527.7,1198.5 528.3,1197.6 528.9,1196.6 529.5,1195.6 530.1,1194.6 530.8,1193.7 531.4,1192.8 532.0,1191.8 532.6,1190.9 533.2,1190.0 533.8,1189.1 534.5,1188.2 535.1,1187.4 535.7,1186.5 536.3,1185.7 536.9,1184.8 537.5,1184.0 538.2,1183.2 538.8,1182.4 539.4,1181.6 540.0,1180.8 540.6,1180.0 541.2,1179.3 541.9,1178.5 542.5,1177.8 543.1,1177.1 543.7,1176.4 544.3,1175.7 544.9,1175.0 545.6,1174.3 546.2,1173.7 546.8,1173.0 547.4,1172.4 548.0,1171.8 548.6,1171.1 549.2,1170.5 549.9,1170.0 550.5,1169.4 551.1,1168.8 551.7,1168.3 552.3,1167.7 552.9,1167.2 553.6,1166.7 554.2,1166.2 554.8,1165.7 555.4,1165.3 556.0,1164.8 556.6,1164.4 557.3,1163.9 557.9,1163.5 558.5,1163.1 559.1,1162.7 559.7,1162.4 560.3,1162.0 561.0,1161.6 561.6,1161.3 562.2,1161.0 562.8,1160.7 563.4,1160.4 564.0,1160.1 564.7,1159.8 565.3,1159.6 565.9,1159.3 566.5,1159.1 567.1,1158.9 567.7,1158.7 568.4,1158.5 569.0,1158.3 569.6,1158.2 570.2,1158.0 570.8,1157.9 571.4,1157.8 572.0,1157.7 572.7,1157.6 573.3,1157.5 573.9,1157.5 574.5,1157.4 575.1,1157.4 575.7,1157.4 576.4,1157.4 577.0,1157.4 577.6,1157.4 578.2,1157.4 578.8,1157.5 579.4,1157.5 580.1,1157.6 580.7,1157.7 581.3,1157.8 581.9,1157.9 582.5,1158.0 583.1,1158.2 583.8,1158.3 584.4,1158.5 585.0,1158.7 585.6,1158.9 586.2,1159.1 586.8,1159.3 587.5,1159.5 588.1,1159.8 588.7,1160.0 589.3,1160.3 589.9,1160.6 590.5,1160.9 591.1,1161.2 591.8,1161.5 592.4,1161.8 593.0,1162.2 593.6,1162.6 594.2,1162.9 594.8,1163.3 595.5,1163.7 596.1,1164.2 596.7,1164.6 597.3,1165.0 597.9,1165.5 598.5,1166.0 599.2,1166.5 599.8,1167.0 600.4,1167.5 601.0,1168.0 601.6,1168.5 602.2,1169.1 602.9,1169.6 603.5,1170.2 604.1,1170.8 604.7,1171.4 605.3,1172.0 605.9,1172.6 606.6,1173.3 607.2,1173.9 607.8,1174.6 608.4,1175.3 609.0,1176.0 609.6,1176.7 610.3,1177.4 610.9,1178.1 611.5,1178.8 612.1,1179.6 612.7,1180.3 613.3,1181.1 613.9,1181.9 614.6,1182.7 615.2,1183.5 615.8,1184.3 616.4,1185.1 617.0,1185.9 617.6,1186.8 618.3,1187.6 618.9,1188.5 619.5,1189.4 620.1,1190.3 620.7,1191.2 621.3,1192.1 622.0,1193.0 622.6,1194.0 623.2,1194.9 623.8,1195.9 624.4,1196.8 625.0,1197.8 625.7,1198.8 626.3,1199.8 626.9,1200.8 627.5,1201.8 628.1,1202.8 628.7,1203.9 629.4,1204.9 630.0,1205.9 630.6,1207.0 631.2,1208.1 631.8,1209.2 632.4,1210.2 633.1,1211.3 633.7,1212.4 634.3,1213.6 634.9,1214.7 635.5,1215.8 636.1,1216.9 636.7,1218.1 637.4,1219.2 638.0,1220.4 638.6,1221.6 639.2,1222.8 639.8,1223.9 640.4,1225.1 641.1,1226.3 641.7,1227.5 642.3,1228.7 642.9,1230.0 643.5,1231.2 644.1,1232.4 644.8,1233.7 645.4,1234.9 646.0,1236.2 646.6,1237.4 647.2,1238.7 647.8,1240.0 648.5,1241.3 649.1,1242.5 649.7,1243.8 650.3,1245.1 650.9,1246.4 651.5,1247.7 652.2,1249.0 652.8,1250.4 653.4,1251.7 654.0,1253.0 654.6,1254.3 655.2,1255.7 655.9,1257.0 656.5,1258.3 657.1,1259.7 657.7,1261.0 658.3,1262.4 658.9,1263.8 659.5,1265.1 660.2,1266.5 660.8,1267.9 661.4,1269.2 662.0,1270.6 662.6,1272.0 663.2,1273.4 663.9,1274.7 664.5,1276.1 665.1,1277.5 665.7,1278.9 666.3,1280.3 666.9,1281.7 667.6,1283.1 668.2,1284.5 668.8,1285.9 669.4,1287.3 670.0,1288.7 670.6,1290.1 671.3,1291.5 671.9,1292.9 672.5,1294.3 673.1,1295.7 673.7,1297.1 674.3,1298.6 675.0,1300.0 675.6,1301.4 676.2,1302.8 676.8,1304.2 677.4,1305.6 678.0,1307.0 678.7,1308.4 679.3,1309.8 679.9,1311.2 680.5,1312.6 681.1,1314.0 681.7,1315.5 682.3,1316.9 683.0,1318.3 683.6,1319.7 684.2,1321.0 684.8,1322.4 685.4,1323.8 686.0,1325.2 686.7,1326.6 687.3,1328.0 687.9,1329.4 688.5,1330.8 689.1,1332.1 689.7,1333.5 690.4,1334.9 691.0,1336.3 691.6,1337.6 692.2,1339.0 692.8,1340.4 693.4,1341.7 694.1,1343.1 694.7,1344.4 695.3,1345.7 695.9,1347.1 696.5,1348.4 697.1,1349.7 697.8,1351.1 698.4,1352.4 699.0,1353.7 699.6,1355.0 700.2,1356.3 700.8,1357.6 701.5,1358.9 702.1,1360.2 702.7,1361.5 703.3,1362.8 703.9,1364.0 704.5,1365.3 705.1,1366.6 705.8,1367.8 706.4,1369.1 707.0,1370.3 707.6,1371.5 708.2,1372.8 708.8,1374.0 709.5,1375.2 710.1,1376.4 710.7,1377.6 711.3,1378.8 711.9,1380.0 712.5,1381.2 713.2,1382.3 713.8,1383.5 714.4,1384.6 715.0,1385.8 715.6,1386.9 716.2,1388.0 716.9,1389.2 717.5,1390.3 718.1,1391.4 718.7,1392.5 719.3,1393.6 719.9,1394.6 720.6,1395.7 721.2,1396.8 721.8,1397.8 722.4,1398.9 723.0,1399.9 723.6,1400.9 724.3,1401.9 724.9,1402.9 725.5,1403.9 726.1,1404.9 726.7,1405.9 727.3,1406.8 727.9,1407.8 728.6,1408.7 729.2,1409.7 729.8,1410.6 730.4,1411.5 731.0,1412.4 731.6,1413.3 732.3,1414.2 732.9,1415.0 733.5,1415.9 734.1,1416.7 734.7,1417.6 735.3,1418.4 736.0,1419.2 736.6,1420.0 737.2,1420.8 737.8,1421.6 738.4,1422.4 739.0,1423.1 739.7,1423.9 740.3,1424.6 740.9,1425.3 741.5,1426.0 742.1,1426.7 742.7,1427.4 743.4,1428.1 744.0,1428.7 744.6,1429.4 745.2,1430.0 745.8,1430.6 746.4,1431.3 747.0,1431.9 747.7,1432.4 748.3,1433.0 748.9,1433.6 749.5,1434.1 750.1,1434.7 750.7,1435.2 751.4,1435.7 752.0,1436.2 752.6,1436.7 753.2,1437.1 753.8,1437.6 754.4,1438.0 755.1,1438.5 755.7,1438.9 756.3,1439.3 756.9,1439.7 757.5,1440.1 758.1,1440.4 758.8,1440.8 759.4,1441.1 760.0,1441.4 760.6,1441.8 761.2,1442.0 761.8,1442.3 762.5,1442.6 763.1,1442.9 763.7,1443.1 764.3,1443.3 764.9,1443.5 765.5,1443.7 766.2,1443.9 766.8,1444.1 767.4,1444.3 768.0,1444.4 768.6,1444.6 769.2,1444.7 769.8,1444.8 770.5,1444.9 771.1,1445.0 771.7,1445.0 772.3,1445.1 772.9,1445.1 773.5,1445.1 774.2,1445.1 774.8,1445.1 775.4,1445.1 776.0,1445.1 776.6,1445.0 777.2,1445.0 777.9,1444.9 778.5,1444.8 779.1,1444.8 779.7,1444.7 780.3,1444.5 780.9,1444.4 781.6,1444.3 782.2,1444.1 782.8,1443.9 783.4,1443.8 784.0,1443.6 784.6,1443.3 785.3,1443.1 785.9,1442.9 786.5,1442.6 787.1,1442.4 787.7,1442.1 788.3,1441.8 789.0,1441.5 789.6,1441.2 790.2,1440.8 790.8,1440.5 791.4,1440.1 792.0,1439.7 792.6,1439.3 793.3,1438.9 793.9,1438.5 794.5,1438.1 795.1,1437.7 795.7,1437.2 796.3,1436.7 797.0,1436.3 797.6,1435.8 798.2,1435.3 798.8,1434.7 799.4,1434.2 800.0,1433.7 800.7,1433.1 801.3,1432.5 801.9,1431.9 802.5,1431.3 803.1,1430.7 803.7,1430.1 804.4,1429.5 805.0,1428.8 805.6,1428.2 806.2,1427.5 806.8,1426.8 807.4,1426.1 808.1,1425.4 808.7,1424.7 809.3,1424.0 809.9,1423.2 810.5,1422.5 811.1,1421.7 811.8,1420.9 812.4,1420.1 813.0,1419.3 813.6,1418.5 814.2,1417.7 814.8,1416.8 815.4,1416.0 816.1,1415.1 816.7,1414.3 817.3,1413.4 817.9,1412.5 818.5,1411.6 819.1,1410.7 819.8,1409.7 820.4,1408.8 821.0,1407.9 821.6,1406.9 822.2,1405.9 822.8,1405.0 823.5,1404.0 824.1,1403.0 824.7,1402.0 825.3,1400.9 825.9,1399.9 826.5,1398.9 827.2,1397.8 827.8,1396.8 828.4,1395.7 829.0,1394.6 829.6,1393.6 830.2,1392.5 830.9,1391.4 831.5,1390.3 832.1,1389.1 832.7,1388.0 833.3,1386.9 833.9,1385.7 834.6,1384.6 835.2,1383.4 835.8,1382.2 836.4,1381.1 837.0,1379.9 837.6,1378.7 838.2,1377.5 838.9,1376.3 839.5,1375.0 840.1,1373.8 840.7,1372.6 841.3,1371.4 841.9,1370.1 842.6,1368.9 843.2,1367.6 843.8,1366.3 844.4,1365.1 845.0,1363.8 845.6,1362.5 846.3,1361.2 846.9,1359.9 847.5,1358.6 848.1,1357.3 848.7,1356.0 849.3,1354.7 850.0,1353.3 850.6,1352.0 851.2,1350.7 851.8,1349.3 852.4,1348.0 853.0,1346.6 853.7,1345.3 854.3,1343.9 854.9,1342.6 855.5,1341.2 856.1,1339.8 856.7,1338.4 857.4,1337.1 858.0,1335.7 858.6,1334.3 859.2,1332.9 859.8,1331.5 860.4,1330.1 861.0,1328.7 861.7,1327.3 862.3,1325.9 862.9,1324.5 863.5,1323.1 864.1,1321.7 864.7,1320.2 865.4,1318.8 866.0,1317.4 866.6,1316.0 867.2,1314.6 867.8,1313.1 868.4,1311.7 869.1,1310.3 869.7,1308.8 870.3,1307.4 870.9,1306.0 871.5,1304.5 872.1,1303.1 872.8,1301.7 873.4,1300.2 874.0,1298.8 874.6,1297.4 875.2,1295.9 875.8,1294.5 876.5,1293.1 877.1,1291.6 877.7,1290.2 878.3,1288.8 878.9,1287.3 879.5,1285.9 880.2,1284.5 880.8,1283.0 881.4,1281.6 882.0,1280.2 882.6,1278.8 883.2,1277.3 883.8,1275.9 884.5,1274.5 885.1,1273.1 885.7,1271.7 886.3,1270.3 886.9,1268.8 887.5,1267.4 888.2,1266.0 888.8,1264.6 889.4,1263.2 890.0,1261.8 890.6,1260.5 891.2,1259.1 891.9,1257.7 892.5,1256.3 893.1,1254.9 893.7,1253.6 894.3,1252.2 894.9,1250.8 895.6,1249.5 896.2,1248.1 896.8,1246.8 897.4,1245.4 898.0,1244.1 898.6,1242.7 899.3,1241.4 899.9,1240.1 900.5,1238.8 901.1,1237.5 901.7,1236.2 902.3,1234.9 902.9,1233.6 903.6,1232.3 904.2,1231.0 904.8,1229.7 905.4,1228.4 906.0,1227.2 906.6,1225.9 907.3,1224.7 907.9,1223.4 908.5,1222.2 909.1,1221.0 909.7,1219.7 910.3,1218.5 911.0,1217.3 911.6,1216.1 912.2,1214.9 912.8,1213.7 913.4,1212.6 914.0,1211.4 914.7,1210.2 915.3,1209.1 915.9,1207.9 916.5,1206.8 917.1,1205.7 917.7,1204.6 918.4,1203.5 919.0,1202.4 919.6,1201.3 920.2,1200.2 920.8,1199.1 921.4,1198.1 922.1,1197.0 922.7,1196.0 923.3,1194.9 923.9,1193.9 924.5,1192.9 925.1,1191.9 925.7,1190.9 926.4,1189.9 927.0,1188.9 927.6,1188.0 928.2,1187.0 928.8,1186.1 929.4,1185.2 930.1,1184.2 930.7,1183.3 931.3,1182.4 931.9,1181.5 932.5,1180.7 933.1,1179.8 933.8,1178.9 934.4,1178.1 935.0,1177.3 935.6,1176.4 936.2,1175.6 936.8,1174.8 937.5,1174.1 938.1,1173.3 938.7,1172.5 939.3,1171.8 939.9,1171.0 940.5,1170.3 941.2,1169.6 941.8,1168.9 942.4,1168.2 943.0,1167.5 943.6,1166.9 944.2,1166.2 944.9,1165.6 945.5,1164.9 946.1,1164.3 946.7,1163.7 947.3,1163.1 947.9,1162.6 948.5,1162.0 949.2,1161.5 949.8,1160.9 950.4,1160.4 951.0,1159.9 951.6,1159.4 952.2,1158.9 952.9,1158.4 953.5,1158.0 954.1,1157.5 954.7,1157.1 955.3,1156.7 955.9,1156.3 956.6,1155.9 957.2,1155.5 957.8,1155.2 958.4,1154.8 959.0,1154.5 959.6,1154.1 960.3,1153.8 960.9,1153.5 961.5,1153.3 962.1,1153.0 962.7,1152.7 963.3,1152.5 964.0,1152.3 964.6,1152.1 965.2,1151.9 965.8,1151.7 966.4,1151.5 967.0,1151.4 967.7,1151.2 968.3,1151.1 968.9,1151.0 969.5,1150.9 970.1,1150.8 970.7,1150.7 971.3,1150.7 972.0,1150.6 972.6,1150.6 973.2,1150.6 973.8,1150.6 974.4,1150.6 975.0,1150.6 975.7,1150.7 976.3,1150.7 976.9,1150.8 977.5,1150.9 978.1,1151.0 978.7,1151.1 979.4,1151.2 980.0,1151.4 980.6,1151.5 981.2,1151.7 981.8,1151.9 982.4,1152.1 983.1,1152.3 983.7,1152.6 984.3,1152.8 984.9,1153.1 985.5,1153.4 986.1,1153.6 986.8,1153.9 987.4,1154.3 988.0,1154.6 988.6,1154.9 989.2,1155.3 989.8,1155.7 990.5,1156.1 991.1,1156.5 991.7,1156.9 992.3,1157.3 992.9,1157.7 993.5,1158.2 994.1,1158.7 994.8,1159.1 995.4,1159.6 996.0,1160.1 996.6,1160.7 997.2,1161.2 997.8,1161.7 998.5,1162.3 999.1,1162.9 999.7,1163.4 1000.3,1164.0 1000.9,1164.7 1001.5,1165.3 1002.2,1165.9 1002.8,1166.6 1003.4,1167.2 1004.0,1167.9 1004.6,1168.6 1005.2,1169.3 1005.9,1170.0 1006.5,1170.7 1007.1,1171.4 1007.7,1172.2 1008.3,1173.0 1008.9,1173.7 1009.6,1174.5 1010.2,1175.3 1010.8,1176.1 1011.4,1176.9 1012.0,1177.8 1012.6,1178.6 1013.3,1179.5 1013.9,1180.3 1014.5,1181.2 1015.1,1182.1 1015.7,1183.0 1016.3,1183.9 1016.9,1184.8 1017.6,1185.7 1018.2,1186.7 1018.8,1187.6 1019.4,1188.6 1020.0,1189.6 1020.6,1190.6 1021.3,1191.6 1021.9,1192.6 1022.5,1193.6 1023.1,1194.6 1023.7,1195.6 1024.3,1196.7 1025.0,1197.7 1025.6,1198.8 1026.2,1199.9 1026.8,1201.0 1027.4,1202.0 1028.0,1203.1 1028.7,1204.3 1029.3,1205.4 1029.9,1206.5 1030.5,1207.6 1031.1,1208.8 1031.7,1209.9 1032.4,1211.1 1033.0,1212.3 1033.6,1213.5 1034.2,1214.6 1034.8,1215.8 1035.4,1217.0 1036.1,1218.3 1036.7,1219.5 1037.3,1220.7 1037.9,1221.9 1038.5,1223.2 1039.1,1224.4 1039.7,1225.7 1040.4,1226.9 1041.0,1228.2 1041.6,1229.5 1042.2,1230.8 1042.8,1232.1 1043.4,1233.4 1044.1,1234.7 1044.7,1236.0 1045.3,1237.3 1045.9,1238.6 1046.5,1239.9 1047.1,1241.3 1047.8,1242.6 1048.4,1243.9 1049.0,1245.3 1049.6,1246.6 1050.2,1248.0 1050.8,1249.4 1051.5,1250.7 1052.1,1252.1 1052.7,1253.5 1053.3,1254.9 1053.9,1256.2 1054.5,1257.6 1055.2,1259.0 1055.8,1260.4 1056.4,1261.8 1057.0,1263.2 1057.6,1264.6 1058.2,1266.0 1058.8,1267.5 1059.5,1268.9 1060.1,1270.3 1060.7,1271.7 1061.3,1273.1 1061.9,1274.6 1062.5,1276.0 1063.2,1277.4 1063.8,1278.9 1064.4,1280.3 1065.0,1281.7 1065.6,1283.2 1066.2,1284.6 1066.9,1286.1 1067.5,1287.5 1068.1,1289.0 1068.7,1290.4 1069.3,1291.8 1069.9,1293.3 1070.6,1294.7 1071.2,1296.2 1071.8,1297.6 1072.4,1299.1 1073.0,1300.5 1073.6,1302.0 1074.3,1303.4 1074.9,1304.9 1075.5,1306.3 1076.1,1307.8 1076.7,1309.2 1077.3,1310.7 1078.0,1312.1 1078.6,1313.6 1079.2,1315.0 1079.8,1316.4 1080.4,1317.9 1081.0,1319.3 1081.6,1320.7 1082.3,1322.2 1082.9,1323.6 1083.5,1325.0 1084.1,1326.5 1084.7,1327.9 1085.3,1329.3 1086.0,1330.7 1086.6,1332.1 1087.2,1333.5 1087.8,1335.0 1088.4,1336.4 1089.0,1337.8 1089.7,1339.2 1090.3,1340.6 1090.9,1341.9 1091.5,1343.3 1092.1,1344.7 1092.7,1346.1 1093.4,1347.5 1094.0,1348.8 1094.6,1350.2 1095.2,1351.5 1095.8,1352.9 1096.4,1354.3 1097.1,1355.6 1097.7,1356.9 1098.3,1358.3 1098.9,1359.6 1099.5,1360.9 1100.1,1362.2 1100.8,1363.5 1101.4,1364.8 1102.0,1366.1 1102.6,1367.4 1103.2,1368.7 1103.8,1370.0 1104.4,1371.3 1105.1,1372.5 1105.7,1373.8 1106.3,1375.0 1106.9,1376.3 1107.5,1377.5 1108.1,1378.7 1108.8,1379.9 1109.4,1381.2 1110.0,1382.4 1110.6,1383.6 1111.2,1384.8 1111.8,1385.9 1112.5,1387.1 1113.1,1388.3 1113.7,1389.4 1114.3,1390.6 1114.9,1391.7 1115.5,1392.8 1116.2,1394.0 1116.8,1395.1 1117.4,1396.2 1118.0,1397.3 1118.6,1398.3 1119.2,1399.4 1119.9,1400.5 1120.5,1401.5 1121.1,1402.6 1121.7,1403.6 1122.3,1404.6 1122.9,1405.7 1123.6,1406.7 1124.2,1407.7 1124.8,1408.6 1125.4,1409.6 1126.0,1410.6 1126.6,1411.5 1127.2,1412.5 1127.9,1413.4 1128.5,1414.3 1129.1,1415.2 1129.7,1416.1 1130.3,1417.0 1130.9,1417.9 1131.6,1418.8 1132.2,1419.6 1132.8,1420.5 1133.4,1421.3 1134.0,1422.1 1134.6,1422.9 1135.3,1423.7 1135.9,1424.5 1136.5,1425.3 1137.1,1426.0 1137.7,1426.8 1138.3,1427.5 1139.0,1428.2 1139.6,1429.0 1140.2,1429.6 1140.8,1430.3 1141.4,1431.0 1142.0,1431.7 1142.7,1432.3 1143.3,1433.0 1143.9,1433.6 1144.5,1434.2 1145.1,1434.8 1145.7,1435.4 1146.4,1435.9 1147.0,1436.5 1147.6,1437.0 1148.2,1437.6 1148.8,1438.1 1149.4,1438.6 1150.0,1439.1 1150.7,1439.6 1151.3,1440.0 1151.9,1440.5 1152.5,1440.9 1153.1,1441.4 1153.7,1441.8 1154.4,1442.2 1155.0,1442.6 1155.6,1442.9 1156.2,1443.3 1156.8,1443.6 1157.4,1444.0 1158.1,1444.3 1158.7,1444.6 1159.3,1444.9 1159.9,1445.1 1160.5,1445.4 1161.1,1445.7 1161.8,1445.9 1162.4,1446.1 1163.0,1446.3 1163.6,1446.5 1164.2,1446.7 1164.8,1446.8 1165.5,1447.0 1166.1,1447.1 1166.7,1447.2 1167.3,1447.4 1167.9,1447.4 1168.5,1447.5 1169.2,1447.6 1169.8,1447.6 1170.4,1447.7 1171.0,1447.7 1171.6,1447.7 1172.2,1447.7 1172.8,1447.6 1173.5,1447.6 1174.1,1447.5 1174.7,1447.4 1175.3,1447.3 1175.9,1447.2 1176.5,1447.1 1177.2,1447.0 1177.8,1446.8 1178.4,1446.7 1179.0,1446.5 1179.6,1446.3 1180.2,1446.1 1180.9,1445.9 1181.5,1445.6 1182.1,1445.4 1182.7,1445.1 1183.3,1444.9 1183.9,1444.6 1184.6,1444.3 1185.2,1444.0 1185.8,1443.6 1186.4,1443.3 1187.0,1442.9 1187.6,1442.6 1188.3,1442.2 1188.9,1441.8 1189.5,1441.4 1190.1,1440.9 1190.7,1440.5 1191.3,1440.0 1191.9,1439.6 1192.6,1439.1 1193.2,1438.6 1193.8,1438.1 1194.4,1437.6 1195.0,1437.1 1195.6,1436.5 1196.3,1436.0 1196.9,1435.4 1197.5,1434.8 1198.1,1434.2 1198.7,1433.6 1199.3,1433.0 1200.0,1432.3 1200.6,1431.7 1201.2,1431.0 1201.8,1430.4 1202.4,1429.7 1203.0,1429.0 1203.7,1428.3 1204.3,1427.5 1204.9,1426.8 1205.5,1426.1 1206.1,1425.3 1206.7,1424.5 1207.4,1423.8 1208.0,1423.0 1208.6,1422.2 1209.2,1421.3 1209.8,1420.5 1210.4,1419.7 1211.1,1418.8 1211.7,1417.9 1212.3,1417.1 1212.9,1416.2 1213.5,1415.3 1214.1,1414.4 1214.7,1413.5 1215.4,1412.5 1216.0,1411.6 1216.6,1410.6 1217.2,1409.7 1217.8,1408.7 1218.4,1407.7 1219.1,1406.7 1219.7,1405.7 1220.3,1404.7 1220.9,1403.7 1221.5,1402.7 1222.1,1401.6 1222.8,1400.6 1223.4,1399.5 1224.0,1398.4 1224.6,1397.3 1225.2,1396.2 1225.8,1395.1 1226.5,1394.0 1227.1,1392.9 1227.7,1391.8 1228.3,1390.7 1228.9,1389.5 1229.5,1388.4 1230.2,1387.2 1230.8,1386.0 1231.4,1384.9 1232.0,1383.7 1232.6,1382.5 1233.2,1381.3 1233.9,1380.1 1234.5,1378.8 1235.1,1377.6 1235.7,1376.4 1236.3,1375.1 1236.9,1373.9 1237.5,1372.6 1238.2,1371.4 1238.8,1370.1 1239.4,1368.8 1240.0,1367.6 1240.6,1366.3 1241.2,1365.0 1241.9,1363.7 1242.5,1362.4 1243.1,1361.1 1243.7,1359.7 1244.3,1358.4 1244.9,1357.1 1245.6,1355.7 1246.2,1354.4 1246.8,1353.1 1247.4,1351.7 1248.0,1350.4 1248.6,1349.0 1249.3,1347.6 1249.9,1346.3 1250.5,1344.9 1251.1,1343.5 1251.7,1342.1 1252.3,1340.7 1253.0,1339.3 1253.6,1338.0 1254.2,1336.6 1254.8,1335.2 1255.4,1333.7 1256.0,1332.3 1256.7,1330.9 1257.3,1329.5 1257.9,1328.1 1258.5,1326.7 1259.1,1325.3 1259.7,1323.8 1260.3,1322.4 1261.0,1321.0 1261.6,1319.5 1262.2,1318.1 1262.8,1316.7 1263.4,1315.2 1264.0,1313.8 1264.7,1312.4 1265.3,1310.9 1265.9,1309.5 1266.5,1308.0 1267.1,1306.6 1267.7,1305.1 1268.4,1303.7 1269.0,1302.2 1269.6,1300.8 1270.2,1299.4 1270.8,1297.9 1271.4,1296.5 1272.1,1295.0 1272.7,1293.6 1273.3,1292.1 1273.9,1290.7 1274.5,1289.2 1275.1,1287.8 1275.8,1286.4 1276.4,1284.9 1277.0,1283.5 1277.6,1282.0 1278.2,1280.6 1278.8,1279.2 1279.5,1277.7 1280.1,1276.3 1280.7,1274.9 1281.3,1273.5 1281.9,1272.0 1282.5,1270.6 1283.1,1269.2 1283.8,1267.8 1284.4,1266.4 1285.0,1265.0 1285.6,1263.6 1286.2,1262.2 1286.8,1260.8 1287.5,1259.4 1288.1,1258.0 1288.7,1256.6 1289.3,1255.2 1289.9,1253.8 1290.5,1252.5 1291.2,1251.1 1291.8,1249.7 1292.4,1248.4 1293.0,1247.0 1293.6,1245.7 1294.2,1244.3 1294.9,1243.0 1295.5,1241.6 1296.1,1240.3 1296.7,1239.0 1297.3,1237.7 1297.9,1236.4 1298.6,1235.1 1299.2,1233.8 1299.8,1232.5 1300.4,1231.2 1301.0,1229.9 1301.6,1228.6 1302.3,1227.4 1302.9,1226.1 1303.5,1224.8 1304.1,1223.6 1304.7,1222.4 1305.3,1221.1 1305.9,1219.9 1306.6,1218.7 1307.2,1217.5 1307.8,1216.3 1308.4,1215.1 1309.0,1213.9 1309.6,1212.7 1310.3,1211.5 1310.9,1210.4 1311.5,1209.2 1312.1,1208.1 1312.7,1206.9 1313.3,1205.8 1314.0,1204.7 1314.6,1203.6 1315.2,1202.5 1315.8,1201.4 1316.4,1200.3 1317.0,1199.2 1317.7,1198.2 1318.3,1197.1 1318.9,1196.1 1319.5,1195.1 1320.1,1194.0 1320.7,1193.0 1321.4,1192.0 1322.0,1191.0 1322.6,1190.0 1323.2,1189.1 1323.8,1188.1 1324.4,1187.1 1325.1,1186.2 1325.7,1185.3 1326.3,1184.4 1326.9,1183.4 1327.5,1182.5 1328.1,1181.7 1328.7,1180.8 1329.4,1179.9 1330.0,1179.1 1330.6,1178.2 1331.2,1177.4 1331.8,1176.6 1332.4,1175.8 1333.1,1175.0 1333.7,1174.2 1334.3,1173.4 1334.9,1172.6 1335.5,1171.9 1336.1,1171.2 1336.8,1170.4 1337.4,1169.7 1338.0,1169.0 1338.6,1168.3 1339.2,1167.7 1339.8,1167.0 1340.5,1166.3 1341.1,1165.7 1341.7,1165.1 1342.3,1164.5 1342.9,1163.9 1343.5,1163.3 1344.2,1162.7 1344.8,1162.2 1345.4,1161.6 1346.0,1161.1 1346.6,1160.5 1347.2,1160.0 1347.8,1159.5 1348.5,1159.1 1349.1,1158.6 1349.7,1158.1 1350.3,1157.7 1350.9,1157.3 1351.5,1156.8 1352.2,1156.4 1352.8,1156.1 1353.4,1155.7 1354.0,1155.3 1354.6,1155.0 1355.2,1154.6 1355.9,1154.3 1356.5,1154.0 1357.1,1153.7 1357.7,1153.4 1358.3,1153.2 1358.9,1152.9 1359.6,1152.7 1360.2,1152.4 1360.8,1152.2 1361.4,1152.0 1362.0,1151.8 1362.6,1151.7 1363.3,1151.5 1363.9,1151.4 1364.5,1151.2 1365.1,1151.1 1365.7,1151.0 1366.3,1150.9 1367.0,1150.9 1367.6,1150.8 1368.2,1150.8 1368.8,1150.7 1369.4,1150.7 1370.0,1150.7 1370.6,1150.7 1371.3,1150.8 1371.9,1150.8 1372.5,1150.9 1373.1,1150.9 1373.7,1151.0 1374.3,1151.1 1375.0,1151.2 1375.6,1151.3 1376.2,1151.5 1376.8,1151.6 1377.4,1151.8 1378.0,1152.0 1378.7,1152.2 1379.3,1152.4 1379.9,1152.6 1380.5,1152.9 1381.1,1153.1 1381.7,1153.4 1382.4,1153.7 1383.0,1153.9 1383.6,1154.2 1384.2,1154.6 1384.8,1154.9 1385.4,1155.2 1386.1,1155.6 1386.7,1156.0 1387.3,1156.4 1387.9,1156.8 1388.5,1157.2 1389.1,1157.6 1389.8,1158.0 1390.4,1158.5 1391.0,1159.0 1391.6,1159.4 1392.2,1159.9 1392.8,1160.4 1393.4,1161.0 1394.1,1161.5 1394.7,1162.0 1395.3,1162.6 1395.9,1163.2 1396.5,1163.7 1397.1,1164.3 1397.8,1164.9 1398.4,1165.6 1399.0,1166.2 1399.6,1166.8 1400.2,1167.5 1400.8,1168.2 1401.5,1168.9 1402.1,1169.5 1402.7,1170.3 1403.3,1171.0 1403.9,1171.7 1404.5,1172.4 1405.2,1173.2 1405.8,1174.0 1406.4,1174.7 1407.0,1175.5 1407.6,1176.3 1408.2,1177.1 1408.9,1178.0 1409.5,1178.8 1410.1,1179.6 1410.7,1180.5 1411.3,1181.4 1411.9,1182.2 1412.6,1183.1 1413.2,1184.0 1413.8,1184.9 1414.4,1185.9 1415.0,1186.8 1415.6,1187.7 1416.2,1188.7 1416.9,1189.7 1417.5,1190.6 1418.1,1191.6 1418.7,1192.6 1419.3,1193.6 1419.9,1194.6 1420.6,1195.6 1421.2,1196.7 1421.8,1197.7 1422.4,1198.8 1423.0,1199.8 1423.6,1200.9 1424.3,1202.0 1424.9,1203.1 1425.5,1204.2 1426.1,1205.3 1426.7,1206.4 1427.3,1207.5 1428.0,1208.6 1428.6,1209.8 1429.2,1210.9 1429.8,1212.1 1430.4,1213.2 1431.0,1214.4 1431.7,1215.6 1432.3,1216.8 1432.9,1218.0 1433.5,1219.2 1434.1,1220.4 1434.7,1221.6 1435.4,1222.8 1436.0,1224.0 1436.6,1225.3 1437.2,1226.5 1437.8,1227.8 1438.4,1229.0 1439.0,1230.3 1439.7,1231.6 1440.3,1232.8 1440.9,1234.1 1441.5,1235.4 1442.1,1236.7 1442.7,1238.0 1443.4,1239.3 1444.0,1240.6 1444.6,1241.9 1445.2,1243.2 1445.8,1244.6 1446.4,1245.9 1447.1,1247.2 1447.7,1248.6 1448.3,1249.9 1448.9,1251.3 1449.5,1252.6 1450.1,1254.0 1450.8,1255.3 1451.4,1256.7 1452.0,1258.0 1452.6,1259.4 1453.2,1260.8 1453.8,1262.2 1454.5,1263.5 1455.1,1264.9 1455.7,1266.3 1456.3,1267.7 1456.9,1269.1 1457.5,1270.5 1458.2,1271.9 1458.8,1273.3 1459.4,1274.7 1460.0,1276.1 1460.6,1277.5 1461.2,1278.9 1461.8,1280.3 1462.5,1281.7 1463.1,1283.1 1463.7,1284.5 1464.3,1286.0 1464.9,1287.4 1465.5,1288.8 1466.2,1290.2 1466.8,1291.6 1467.4,1293.0 1468.0,1294.5 1468.6,1295.9 1469.2,1297.3 1469.9,1298.7 1470.5,1300.1 1471.1,1301.5 1471.7,1302.9 1472.3,1304.4 1472.9,1305.8 1473.6,1307.2 1474.2,1308.6 1474.8,1310.0 1475.4,1311.4 1476.0,1312.8 1476.6,1314.2 1477.3,1315.6 1477.9,1317.0 1478.5,1318.4 1479.1,1319.8 1479.7,1321.2 1480.3,1322.6 1481.0,1324.0 1481.6,1325.4 1482.2,1326.8 1482.8,1328.2 1483.4,1329.5 1484.0,1330.9 1484.6,1332.3 1485.3,1333.7 1485.9,1335.0 1486.5,1336.4 1487.1,1337.7 1487.7,1339.1 1488.3,1340.4 1489.0,1341.8 1489.6,1343.1 1490.2,1344.5 1490.8,1345.8 1491.4,1347.1 1492.0,1348.4 1492.7,1349.7 1493.3,1351.1 1493.9,1352.4 1494.5,1353.7 1495.1,1355.0 1495.7,1356.2 1496.4,1357.5 1497.0,1358.8 1497.6,1360.1 1498.2,1361.3 1498.8,1362.6 1499.4,1363.9 1500.1,1365.1 1500.7,1366.3 1501.3,1367.6 1501.9,1368.8 1502.5,1370.0 1503.1,1371.2 1503.7,1372.4 1504.4,1373.6 1505.0,1374.8 1505.6,1376.0 1506.2,1377.2 1506.8,1378.3 1507.4,1379.5 1508.1,1380.6 1508.7,1381.8 1509.3,1382.9 1509.9,1384.0 1510.5,1385.2 1511.1,1386.3 1511.8,1387.4 1512.4,1388.5 1513.0,1389.5 1513.6,1390.6 1514.2,1391.7 1514.8,1392.7 1515.5,1393.8 1516.1,1394.8 1516.7,1395.8 1517.3,1396.9 1517.9,1397.9 1518.5,1398.9 1519.2,1399.8 1519.8,1400.8 1520.4,1401.8 1521.0,1402.8 1521.6,1403.7 1522.2,1404.6 1522.9,1405.6 1523.5,1406.5 1524.1,1407.4 1524.7,1408.3 1525.3,1409.2 1525.9,1410.0 1526.5,1410.9 1527.2,1411.8 1527.8,1412.6 1528.4,1413.4 1529.0,1414.2 1529.6,1415.1 1530.2,1415.8 1530.9,1416.6 1531.5,1417.4 1532.1,1418.2 1532.7,1418.9 1533.3,1419.7 1533.9,1420.4 1534.6,1421.1 1535.2,1421.8 1535.8,1422.5 1536.4,1423.2 1537.0,1423.8 1537.6,1424.5 1538.3,1425.1 1538.9,1425.8 1539.5,1426.4 1540.1,1427.0 1540.7,1427.6 1541.3,1428.1 1542.0,1428.7 1542.6,1429.3 1543.2,1429.8 1543.8,1430.3 1544.4,1430.9 1545.0,1431.4 1545.7,1431.8 1546.3,1432.3 1546.9,1432.8 1547.5,1433.2 1548.1,1433.7 1548.7,1434.1 1549.3,1434.5 1550.0,1434.9 1550.6,1435.3 1551.2,1435.7 1551.8,1436.0 1552.4,1436.4 1553.0,1436.7 1553.7,1437.0 1554.3,1437.3 1554.9,1437.6 1555.5,1437.9 1556.1,1438.2 1556.7,1438.4 1557.4,1438.6 1558.0,1438.9 1558.6,1439.1 1559.2,1439.3 1559.8,1439.5 1560.4,1439.6 1561.1,1439.8 1561.7,1439.9 1562.3,1440.1 1562.9,1440.2 1563.5,1440.3 1564.1,1440.4 1564.8,1440.4 1565.4,1440.5 1566.0,1440.5 1566.6,1440.6 1567.2,1440.6 1567.8,1440.6 1568.5,1440.6 1569.1,1440.6 1569.7,1440.5 1570.3,1440.5 1570.9,1440.4 1571.5,1440.4 1572.1,1440.3 1572.8,1440.2 1573.4,1440.1 1574.0,1440.0 1574.6,1439.8 1575.2,1439.7 1575.8,1439.5 1576.5,1439.3 1577.1,1439.1 1577.7,1438.9 1578.3,1438.7 1578.9,1438.5 1579.5,1438.2 1580.2,1438.0 1580.8,1437.7 1581.4,1437.4 1582.0,1437.1 1582.6,1436.8 1583.2,1436.4 1583.9,1436.1 1584.5,1435.7 1585.1,1435.4 1585.7,1435.0 1586.3,1434.6 1586.9,1434.2 1587.6,1433.8 1588.2,1433.3 1588.8,1432.9 1589.4,1432.4 1590.0,1432.0 1590.6,1431.5 1591.3,1431.0 1591.9,1430.5 1592.5,1429.9 1593.1,1429.4 1593.7,1428.9 1594.3,1428.3 1594.9,1427.7 1595.6,1427.1 1596.2,1426.5 1596.8,1425.9 1597.4,1425.3 1598.0,1424.7 1598.6,1424.0 1599.3,1423.4 1599.9,1422.7 1600.5,1422.0 1601.1,1421.3 1601.7,1420.6 1602.3,1419.9 1603.0,1419.1 1603.6,1418.4 1604.2,1417.6 1604.8,1416.9 1605.4,1416.1 1606.0,1415.3 1606.7,1414.5 1607.3,1413.7 1607.9,1412.9 1608.5,1412.0 1609.1,1411.2 1609.7,1410.3 1610.4,1409.5 1611.0,1408.6 1611.6,1407.7 1612.2,1406.8 1612.8,1405.9 1613.4,1405.0 1614.1,1404.0 1614.7,1403.1 1615.3,1402.1 1615.9,1401.2 1616.5,1400.2 1617.1,1399.2 1617.7,1398.2 1618.4,1397.2 1619.0,1396.2 1619.6,1395.2 1620.2,1394.2 1620.8,1393.1 1621.4,1392.1 1622.1,1391.0 1622.7,1390.0 1623.3,1388.9 1623.9,1387.8 1624.5,1386.7 1625.1,1385.6 1625.8,1384.5 1626.4,1383.4 1627.0,1382.3 1627.6,1381.1 1628.2,1380.0 1628.8,1378.9 1629.5,1377.7 1630.1,1376.5 1630.7,1375.4 1631.3,1374.2 1631.9,1373.0 1632.5,1371.8 1633.2,1370.6 1633.8,1369.4 1634.4,1368.2 1635.0,1367.0 1635.6,1365.7 1636.2,1364.5 1636.9,1363.3 1637.5,1362.0 1638.1,1360.8 1638.7,1359.5 1639.3,1358.2 1639.9,1357.0 1640.5,1355.7 1641.2,1354.4 1641.8,1353.1 1642.4,1351.8 1643.0,1350.5 1643.6,1349.2 1644.2,1347.9 1644.9,1346.6 1645.5,1345.3 1646.1,1343.9 1646.7,1342.6 1647.3,1341.3 1647.9,1339.9 1648.6,1338.6 1649.2,1337.3 1649.8,1335.9 1650.4,1334.6 1651.0,1333.2 1651.6,1331.8 1652.3,1330.5 1652.9,1329.1 1653.5,1327.7 1654.1,1326.4 1654.7,1325.0 1655.3,1323.6 1656.0,1322.2 1656.6,1320.9 1657.2,1319.5 1657.8,1318.1 1658.4,1316.7 1659.0,1315.3 1659.6,1313.9 1660.3,1312.5 1660.9,1311.1 1661.5,1309.7 1662.1,1308.3 1662.7,1306.9 1663.3,1305.5 1664.0,1304.1 1664.6,1302.7 1665.2,1301.3 1665.8,1299.9 1666.4,1298.5 1667.0,1297.1 1667.7,1295.7 1668.3,1294.3 1668.9,1292.9 1669.5,1291.5 1670.1,1290.1 1670.7,1288.7 1671.4,1287.3 1672.0,1285.9 1672.6,1284.5 1673.2,1283.1 1673.8,1281.7 1674.4,1280.3 1675.1,1278.9 1675.7,1277.5 1676.3,1276.2 1676.9,1274.8 1677.5,1273.4 1678.1,1272.0 1678.8,1270.6 1679.4,1269.2 1680.0,1267.9 1680.6,1266.5 1681.2,1265.1 1681.8,1263.8 1682.4,1262.4 1683.1,1261.0 1683.7,1259.7 1684.3,1258.3 1684.9,1257.0 1685.5,1255.6 1686.1,1254.3 1686.8,1253.0 1687.4,1251.6 1688.0,1250.3 1688.6,1249.0 1689.2,1247.7 1689.8,1246.3 1690.5,1245.0 1691.1,1243.7 1691.7,1242.4 1692.3,1241.1 1692.9,1239.8 1693.5,1238.6 1694.2,1237.3 1694.8,1236.0 1695.4,1234.7 1696.0,1233.5 1696.6,1232.2 1697.2,1231.0 1697.9,1229.7 1698.5,1228.5 1699.1,1227.3 1699.7,1226.0 1700.3,1224.8 1700.9,1223.6 1701.6,1222.4 1702.2,1221.2 1702.8,1220.0 1703.4,1218.8 1704.0,1217.7 1704.6,1216.5 1705.2,1215.3 1705.9,1214.2 1706.5,1213.0 1707.1,1211.9 1707.7,1210.8 1708.3,1209.7 1708.9,1208.6 1709.6,1207.5 1710.2,1206.4 1710.8,1205.3 1711.4,1204.2 1712.0,1203.1 1712.6,1202.1 1713.3,1201.0 1713.9,1200.0 1714.5,1199.0 1715.1,1197.9 1715.7,1196.9 1716.3,1195.9 1717.0,1194.9 1717.6,1193.9 1718.2,1193.0 1718.8,1192.0 1719.4,1191.0 1720.0,1190.1 1720.7,1189.2 1721.3,1188.2 1721.9,1187.3 1722.5,1186.4 1723.1,1185.5 1723.7,1184.7 1724.4,1183.8 1725.0,1182.9 1725.6,1182.1 1726.2,1181.2 1726.8,1180.4 1727.4,1179.6 1728.0,1178.8 1728.7,1178.0 1729.3,1177.2 1729.9,1176.4 1730.5,1175.7 1731.1,1174.9 1731.7,1174.2 1732.4,1173.5 1733.0,1172.8 1733.6,1172.1 1734.2,1171.4 1734.8,1170.7 1735.4,1170.0 1736.1,1169.4 1736.7,1168.7 1737.3,1168.1 1737.9,1167.5 1738.5,1166.9 1739.1,1166.3 1739.8,1165.7 1740.4,1165.1 1741.0,1164.6 1741.6,1164.0 1742.2,1163.5 1742.8,1163.0 1743.5,1162.5 1744.1,1162.0 1744.7,1161.5 1745.3,1161.1 1745.9,1160.6 1746.5,1160.2 1747.2,1159.7 1747.8,1159.3 1748.4,1158.9 1749.0,1158.5 1749.6,1158.2 1750.2,1157.8 1750.8,1157.4 1751.5,1157.1 1752.1,1156.8 1752.7,1156.5 1753.3,1156.2 1753.9,1155.9 1754.5,1155.6 1755.2,1155.4 1755.8,1155.1 1756.4,1154.9 1757.0,1154.7 1757.6,1154.5 1758.2,1154.3 1758.9,1154.1 1759.5,1154.0 1760.1,1153.8 1760.7,1153.7 1761.3,1153.6 1761.9,1153.5 1762.6,1153.4 1763.2,1153.3 1763.8,1153.2 1764.4,1153.2 1765.0,1153.1 1765.6,1153.1 1766.3,1153.1 1766.9,1153.1 1767.5,1153.1 1768.1,1153.1 1768.7,1153.1 1769.3,1153.2 1770.0,1153.2 1770.6,1153.3 1771.2,1153.4 1771.8,1153.5 1772.4,1153.6 1773.0,1153.7 1773.6,1153.9 1774.3,1154.0 1774.9,1154.2 1775.5,1154.4 1776.1,1154.6 1776.7,1154.8 1777.3,1155.0 1778.0,1155.2 1778.6,1155.5 1779.2,1155.7 1779.8,1156.0 1780.4,1156.3 1781.0,1156.6 1781.7,1156.9 1782.3,1157.2 1782.9,1157.6 1783.5,1157.9 1784.1,1158.3 1784.7,1158.7 1785.4,1159.1 1786.0,1159.5 1786.6,1159.9 1787.2,1160.3 1787.8,1160.8 1788.4,1161.2 1789.1,1161.7 1789.7,1162.2 1790.3,1162.7 1790.9,1163.2 1791.5,1163.7 1792.1,1164.2 1792.8,1164.8 1793.4,1165.3 1794.0,1165.9 1794.6,1166.5 1795.2,1167.1 1795.8,1167.7 1796.4,1168.3 1797.1,1169.0 1797.7,1169.6 1798.3,1170.3 1798.9,1170.9 1799.5,1171.6 1800.1,1172.3 1800.8,1173.0 1801.4,1173.7 1802.0,1174.5 1802.6,1175.2 1803.2,1175.9 1803.8,1176.7 1804.5,1177.5 1805.1,1178.3 1805.7,1179.1 1806.3,1179.9 1806.9,1180.7 1807.5,1181.5 1808.2,1182.4 1808.8,1183.2 1809.4,1184.1 1810.0,1185.0 1810.6,1185.8 1811.2,1186.7 1811.9,1187.6 1812.5,1188.6 1813.1,1189.5 1813.7,1190.4 1814.3,1191.4 1814.9,1192.3 1815.5,1193.3 1816.2,1194.3 1816.8,1195.2 1817.4,1196.2 1818.0,1197.2 1818.6,1198.2 1819.2,1199.3 1819.9,1200.3 1820.5,1201.3 1821.1,1202.4 1821.7,1203.5 1822.3,1204.5 1822.9,1205.6 1823.6,1206.7 1824.2,1207.8 1824.8,1208.9 1825.4,1210.0 1826.0,1211.1 1826.6,1212.2 1827.3,1213.4 1827.9,1214.5 1828.5,1215.7 1829.1,1216.8 1829.7,1218.0 1830.3,1219.2 1831.0,1220.3 1831.6,1221.5 1832.2,1222.7 1832.8,1223.9 1833.4,1225.1 1834.0,1226.3 1834.7,1227.6 1835.3,1228.8 1835.9,1230.0 1836.5,1231.3 1837.1,1232.5 1837.7,1233.8 1838.3,1235.0 1839.0,1236.3 1839.6,1237.6 1840.2,1238.8 1840.8,1240.1 1841.4,1241.4 1842.0,1242.7 1842.7,1244.0 1843.3,1245.3 1843.9,1246.6 1844.5,1247.9 1845.1,1249.2 1845.7,1250.6 1846.4,1251.9 1847.0,1253.2 1847.6,1254.5 1848.2,1255.9 1848.8,1257.2 1849.4,1258.6 1850.1,1259.9 1850.7,1261.3 1851.3,1262.6 1851.9,1264.0 1852.5,1265.3 1853.1,1266.7 1853.8,1268.1 1854.4,1269.4 1855.0,1270.8 1855.6,1272.2 1856.2,1273.6 1856.8,1274.9 1857.5,1276.3 1858.1,1277.7 1858.7,1279.1 1859.3,1280.5 1859.9,1281.9 1860.5,1283.3 1861.1,1284.6 1861.8,1286.0 1862.4,1287.4 1863.0,1288.8 1863.6,1290.2 1864.2,1291.6 1864.8,1293.0 1865.5,1294.4 1866.1,1295.8 1866.7,1297.2 1867.3,1298.6 1867.9,1300.0 1868.5,1301.4 1869.2,1302.8 1869.8,1304.2 1870.4,1305.6 1871.0,1306.9 1871.6,1308.3 1872.2,1309.7 1872.9,1311.1 1873.5,1312.5 1874.1,1313.9 1874.7,1315.3 1875.3,1316.6 1875.9,1318.0 1876.6,1319.4 1877.2,1320.8 1877.8,1322.1 1878.4,1323.5 1879.0,1324.9 1879.6,1326.2 1880.3,1327.6 1880.9,1329.0 1881.5,1330.3 1882.1,1331.7 1882.7,1333.0 1883.3,1334.4 1883.9,1335.7 1884.6,1337.0 1885.2,1338.4 1885.8,1339.7 1886.4,1341.0 1887.0,1342.4 1887.6,1343.7 1888.3,1345.0 1888.9,1346.3 1889.5,1347.6 1890.1,1348.9 1890.7,1350.2 1891.3,1351.5 1892.0,1352.7 1892.6,1354.0 1893.2,1355.3 1893.8,1356.6 1894.4,1357.8 1895.0,1359.1 1895.7,1360.3 1896.3,1361.6 1896.9,1362.8 1897.5,1364.0 1898.1,1365.2 1898.7,1366.5 1899.4,1367.7 1900.0,1368.9 1900.6,1370.1 1901.2,1371.2 1901.8,1372.4 1902.4,1373.6 1903.1,1374.8 1903.7,1375.9 1904.3,1377.1 1904.9,1378.2 1905.5,1379.3 1906.1,1380.5 1906.7,1381.6 1907.4,1382.7 1908.0,1383.8 1908.6,1384.9 1909.2,1386.0 1909.8,1387.1 1910.4,1388.1 1911.1,1389.2 1911.7,1390.2 1912.3,1391.3 1912.9,1392.3 1913.5,1393.3 1914.1,1394.3 1914.8,1395.3 1915.4,1396.3 1916.0,1397.3 1916.6,1398.3 1917.2,1399.3 1917.8,1400.2 1918.5,1401.2 1919.1,1402.1 1919.7,1403.0 1920.3,1403.9 1920.9,1404.8 1921.5,1405.7 1922.2,1406.6 1922.8,1407.5 1923.4,1408.3 1924.0,1409.2 1924.6,1410.0 1925.2,1410.9 1925.9,1411.7 1926.5,1412.5 1927.1,1413.3 1927.7,1414.1 1928.3,1414.8 1928.9,1415.6 1929.5,1416.3 1930.2,1417.1 1930.8,1417.8 1931.4,1418.5 1932.0,1419.2 1932.6,1419.9 1933.2,1420.6 1933.9,1421.3 1934.5,1421.9 1935.1,1422.6 1935.7,1423.2 1936.3,1423.8 1936.9,1424.4 1937.6,1425.0 1938.2,1425.6 1938.8,1426.2 1939.4,1426.7 1940.0,1427.3 1940.6,1427.8 1941.3,1428.3 1941.9,1428.8 1942.5,1429.3 1943.1,1429.8 1943.7,1430.2 1944.3,1430.7 1945.0,1431.1 1945.6,1431.6 1946.2,1432.0 1946.8,1432.4 1947.4,1432.8 1948.0,1433.2 1948.7,1433.5 1949.3,1433.9 1949.9,1434.2 1950.5,1434.5 1951.1,1434.8 1951.7,1435.1 1952.3,1435.4 1953.0,1435.7 1953.6,1435.9 1954.2,1436.2 1954.8,1436.4 1955.4,1436.6 1956.0,1436.8 1956.7,1437.0 1957.3,1437.2 1957.9,1437.4 1958.5,1437.5 1959.1,1437.6 1959.7,1437.8 1960.4,1437.9 1961.0,1438.0 1961.6,1438.0 1962.2,1438.1 1962.8,1438.1 1963.4,1438.2 1964.1,1438.2 1964.7,1438.2 1965.3,1438.2 1965.9,1438.2 1966.5,1438.2 1967.1,1438.1 1967.8,1438.1 1968.4,1438.1 1969.0,1438.0 1969.6,1437.9 1970.2,1437.9 1970.8,1437.8 1971.4,1437.7 1972.1,1437.5 1972.7,1437.4 1973.3,1437.2 1973.9,1437.1 1974.5,1436.9 1975.1,1436.7 1975.8,1436.5 1976.4,1436.3 1977.0,1436.0 1977.6,1435.8 1978.2,1435.5 1978.8,1435.3 1979.5,1435.0 1980.1,1434.7 1980.7,1434.4 1981.3,1434.0 1981.9,1433.7 1982.5,1433.3 1983.2,1433.0 1983.8,1432.6 1984.4,1432.2 1985.0,1431.8 1985.6,1431.4 1986.2,1430.9 1986.9,1430.5 1987.5,1430.0 1988.1,1429.5 1988.7,1429.0 1989.3,1428.5 1989.9,1428.0 1990.6,1427.5 1991.2,1427.0 1991.8,1426.4 1992.4,1425.9 1993.0,1425.3 1993.6,1424.7 1994.2,1424.1 1994.9,1423.5 1995.5,1422.9 1996.1,1422.2 1996.7,1421.6 1997.3,1420.9 1997.9,1420.2 1998.6,1419.5 1999.2,1418.8 1999.8,1418.1 2000.4,1417.4 2001.0,1416.7 2001.6,1415.9 2002.3,1415.2 2002.9,1414.4 2003.5,1413.6 2004.1,1412.8 2004.7,1412.0 2005.3,1411.2 2006.0,1410.4 2006.6,1409.5 2007.2,1408.7 2007.8,1407.8 2008.4,1406.9 2009.0,1406.1 2009.7,1405.2 2010.3,1404.3 2010.9,1403.3 2011.5,1402.4 2012.1,1401.5 2012.7,1400.5 2013.4,1399.6 2014.0,1398.6 2014.6,1397.6 2015.2,1396.6 2015.8,1395.6 2016.4,1394.6 2017.0,1393.6 2017.7,1392.6 2018.3,1391.5 2018.9,1390.5 2019.5,1389.4 2020.1,1388.4 2020.7,1387.3 2021.4,1386.2 2022.0,1385.1 2022.6,1384.0 2023.2,1382.9 2023.8,1381.8 2024.4,1380.7 2025.1,1379.5 2025.7,1378.4 2026.3,1377.2 2026.9,1376.1 2027.5,1374.9 2028.1,1373.7 2028.8,1372.6 2029.4,1371.4 2030.0,1370.2 2030.6,1369.0 2031.2,1367.7 2031.8,1366.5 2032.5,1365.3 2033.1,1364.1 2033.7,1362.8 2034.3,1361.6 2034.9,1360.3 2035.5,1359.1 2036.2,1357.8 2036.8,1356.5 2037.4,1355.2 2038.0,1353.9" fill="none" stroke="#FFC000" stroke-width="10" stroke-linejoin="round" stroke-linecap="round" stroke-dasharray="57 44"/>
<line x1="396" y1="1056" x2="396" y2="1595" stroke="#000" stroke-width="4" stroke-dasharray="12 4.4"/>
<line x1="795" y1="1056" x2="795" y2="1595" stroke="#000" stroke-width="4" stroke-dasharray="12 4.4"/>
<line x1="424" y1="1096" x2="767" y2="1096" stroke="#000" stroke-width="4" stroke-dasharray="12 4.4"/>
<line x1="825" y1="1096" x2="1207" y2="1096" stroke="#000" stroke-width="4" stroke-dasharray="12 4.4"/>
<path d="M397,1096 L430,1078.6 Q423.0,1096 430,1113.4 Z" fill="#000"/>
<path d="M794,1096 L761,1078.6 Q768.0,1096 761,1113.4 Z" fill="#000"/>
<path d="M796,1096 L829,1078.6 Q822.0,1096 829,1113.4 Z" fill="#000"/>
<text x="845.2" y="1077.6" class="an" style="font-size:47.5px;font-style:italic">Δ</text>
<text x="881.5" y="1082.6" class="an" style="font-size:53.3px;font-style:italic">t</text>
<text x="897.6" y="1083.3" class="an" style="font-size:53.3px">s</text>
<text transform="translate(930.7,1081.2) scale(1.63,1.05)" class="an" style="font-size:53.3px">≈</text>
<text x="997.3" y="1082.6" class="an" style="font-size:53.3px">0.0021</text>
<text x="1161.3" y="1082.6" class="an" style="font-size:53.3px">s</text>
<line x1="1177.4" y1="1403" x2="1177.4" y2="1595" stroke="#000" stroke-width="4" stroke-dasharray="12 4.4"/>
<line x1="1575" y1="1403" x2="1575" y2="1595" stroke="#000" stroke-width="4" stroke-dasharray="12 4.4"/>
<line x1="1205.4" y1="1526.3" x2="1547" y2="1526.3" stroke="#000" stroke-width="4" stroke-dasharray="12 4.4"/>
<line x1="1605" y1="1526.3" x2="1989" y2="1526.3" stroke="#000" stroke-width="4" stroke-dasharray="12 4.4"/>
<path d="M1178.4,1526.3 L1211.4,1508.8999999999999 Q1204.4,1526.3 1211.4,1543.7 Z" fill="#000"/>
<path d="M1574,1526.3 L1541,1508.8999999999999 Q1548.0,1526.3 1541,1543.7 Z" fill="#000"/>
<path d="M1576,1526.3 L1609,1508.8999999999999 Q1602.0,1526.3 1609,1543.7 Z" fill="#000"/>
<text x="1624.5" y="1507.9" class="an" style="font-size:47.5px;font-style:italic">Δ</text>
<text x="1660.8" y="1512.9" class="an" style="font-size:53.3px;font-style:italic">t</text>
<text x="1676.9" y="1513.6" class="an" style="font-size:53.3px">s</text>
<text transform="translate(1710.0,1511.5) scale(1.63,1.05)" class="an" style="font-size:53.3px">≈</text>
<text x="1776.6" y="1512.9" class="an" style="font-size:53.3px">0.0021</text>
<text x="1940.6" y="1512.9" class="an" style="font-size:53.3px">s</text>
<rect x="1625.6" y="1019.6" width="401.6" height="123.7" fill="#fff" stroke="#000" stroke-width="5"/>
<line x1="1639.5" y1="1051.6" x2="1825.4" y2="1051.6" stroke="#000" stroke-width="6.8" stroke-linecap="round"/>
<line x1="1639.5" y1="1112.4" x2="1825.4" y2="1112.4" stroke="#FFC000" stroke-width="6.8" stroke-linecap="round" stroke-dasharray="37.8 28.3"/>
<text x="1850" y="1069.7" class="lb">DCM</text>
<text x="1850" y="1131.6" class="lb">ROM</text>
<text x="1122" y="1759" text-anchor="middle" class="lb">Time (s)</text>
<text transform="translate(62.5,1300.4) rotate(-90)" text-anchor="middle" class="lb" style="font-size:57px">Voltage (V)</text>
<text x="325.8" y="1887.1" class="cap" textLength="1455" lengthAdjust="spacingAndGlyphs">(<tspan font-weight="bold">b</tspan>) The time ranges from 0.17 s to 0.18 s</text>
</svg>
</body></html>
